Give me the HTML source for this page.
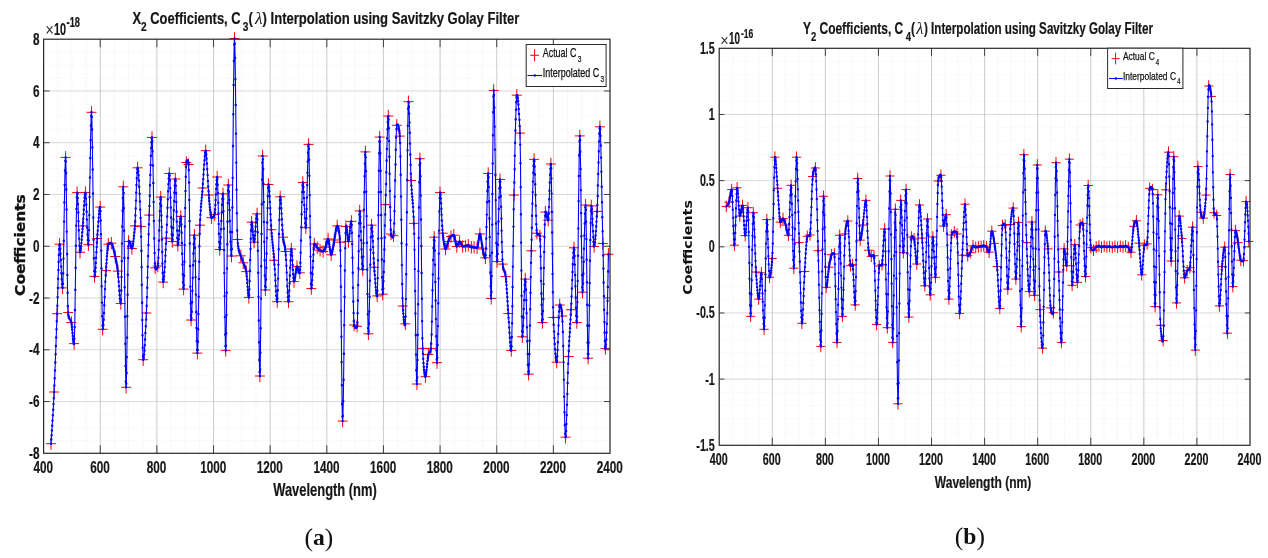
<!DOCTYPE html>
<html lang="en"><head><meta charset="utf-8"><title>Savitzky Golay interpolation of coefficients</title>
<style>html,body{margin:0;padding:0;background:#fff}body{width:1268px;height:558px;overflow:hidden}svg{display:block}</style></head>
<body>
<svg width="1268" height="558" viewBox="0 0 1268 558">
<rect width="1268" height="558" fill="#fff"/>
<g id="chart1">
<path d="M57.76 39.2V453.3M71.92 39.2V453.3M86.08 39.2V453.3M114.40 39.2V453.3M128.56 39.2V453.3M142.72 39.2V453.3M171.04 39.2V453.3M185.20 39.2V453.3M199.36 39.2V453.3M227.68 39.2V453.3M241.84 39.2V453.3M256.00 39.2V453.3M284.32 39.2V453.3M298.48 39.2V453.3M312.64 39.2V453.3M340.96 39.2V453.3M355.12 39.2V453.3M369.28 39.2V453.3M397.60 39.2V453.3M411.76 39.2V453.3M425.92 39.2V453.3M454.24 39.2V453.3M468.40 39.2V453.3M482.56 39.2V453.3M510.88 39.2V453.3M525.04 39.2V453.3M539.20 39.2V453.3M567.52 39.2V453.3M581.68 39.2V453.3M595.84 39.2V453.3" stroke="#e6e6e6" stroke-width="0.6" stroke-dasharray="1.2 1.2" fill="none"/>
<path d="M43.6 52.14H610.0M43.6 65.08H610.0M43.6 78.02H610.0M43.6 103.90H610.0M43.6 116.84H610.0M43.6 129.78H610.0M43.6 155.67H610.0M43.6 168.61H610.0M43.6 181.55H610.0M43.6 207.43H610.0M43.6 220.37H610.0M43.6 233.31H610.0M43.6 259.19H610.0M43.6 272.13H610.0M43.6 285.07H610.0M43.6 310.95H610.0M43.6 323.89H610.0M43.6 336.83H610.0M43.6 362.72H610.0M43.6 375.66H610.0M43.6 388.60H610.0M43.6 414.48H610.0M43.6 427.42H610.0M43.6 440.36H610.0" stroke="#efefef" stroke-width="0.6" stroke-dasharray="1.2 1.2" fill="none"/>
<path d="M100.24 39.2V453.3M156.88 39.2V453.3M213.52 39.2V453.3M270.16 39.2V453.3M326.80 39.2V453.3M383.44 39.2V453.3M440.08 39.2V453.3M496.72 39.2V453.3M553.36 39.2V453.3" stroke="#aaaaaa" stroke-width="0.6" fill="none"/>
<path d="M43.6 90.96H610.0M43.6 142.73H610.0M43.6 194.49H610.0M43.6 246.25H610.0M43.6 298.01H610.0M43.6 349.78H610.0M43.6 401.54H610.0" stroke="#bababa" stroke-width="0.55" fill="none"/>
<path d="M46.0 443.7h10.0M51.0 437.5v12.4M49.1 392.0h10.0M54.1 385.8v12.4M52.1 313.7h10.0M57.1 307.5v12.4M54.6 244.2h10.0M59.6 238.0v12.4M57.6 287.9h10.0M62.6 281.7v12.4M60.6 157.4h10.0M65.6 151.2v12.4M63.1 312.5h10.0M68.1 306.3v12.4M66.4 322.5h10.0M71.4 316.3v12.4M69.1 343.6h10.0M74.1 337.4v12.4M72.1 192.6h10.0M77.1 186.4v12.4M75.0 252.3h10.0M80.0 246.1v12.4M77.8 225.9h10.0M82.8 219.7v12.4M80.4 192.6h10.0M85.4 186.4v12.4M83.4 244.7h10.0M88.4 238.5v12.4M86.5 112.3h10.0M91.5 106.1v12.4M89.5 276.4h10.0M94.5 270.2v12.4M92.2 238.5h10.0M97.2 232.3v12.4M95.2 207.1h10.0M100.2 200.9v12.4M97.7 329.3h10.0M102.7 323.1v12.4M101.0 270.6h10.0M106.0 264.4v12.4M103.3 244.2h10.0M108.3 238.0v12.4M106.3 243.2h10.0M111.3 237.0v12.4M110.3 256.5h10.0M115.3 250.3v12.4M112.8 271.1h10.0M117.8 264.9v12.4M115.8 303.5h10.0M120.8 297.3v12.4M118.3 186.8h10.0M123.3 180.6v12.4M121.1 387.3h10.0M126.1 381.1v12.4M123.6 241.5h10.0M128.6 235.3v12.4M126.9 248.5h10.0M131.9 242.3v12.4M129.9 225.9h10.0M134.9 219.7v12.4M132.6 167.8h10.0M137.6 161.6v12.4M135.9 226.4h10.0M140.9 220.2v12.4M138.2 359.7h10.0M143.2 353.5v12.4M141.4 313.0h10.0M146.4 306.8v12.4M144.2 215.1h10.0M149.2 208.9v12.4M147.0 137.4h10.0M152.0 131.2v12.4M150.2 267.8h10.0M155.2 261.6v12.4M152.8 266.0h10.0M157.8 259.8v12.4M155.7 197.1h10.0M160.7 190.9v12.4M158.2 282.1h10.0M163.2 275.9v12.4M161.3 238.2h10.0M166.3 232.0v12.4M164.3 173.5h10.0M169.3 167.3v12.4M167.3 241.5h10.0M172.3 235.3v12.4M170.3 179.0h10.0M175.3 172.8v12.4M172.8 245.2h10.0M177.8 239.0v12.4M175.8 216.4h10.0M180.8 210.2v12.4M178.6 289.1h10.0M183.6 282.9v12.4M181.3 162.5h10.0M186.3 156.3v12.4M183.6 164.5h10.0M188.6 158.3v12.4M186.1 320.0h10.0M191.1 313.8v12.4M189.4 235.2h10.0M194.4 229.0v12.4M192.4 353.1h10.0M197.4 346.9v12.4M194.9 225.2h10.0M199.9 219.0v12.4M197.6 188.0h10.0M202.6 181.8v12.4M200.7 150.7h10.0M205.7 144.5v12.4M203.8 195.0h10.0M208.8 188.8v12.4M206.4 217.7h10.0M211.4 211.5v12.4M209.6 214.5h10.0M214.6 208.3v12.4M212.2 177.0h10.0M217.2 170.8v12.4M214.7 249.5h10.0M219.7 243.3v12.4M218.0 193.8h10.0M223.0 187.6v12.4M220.7 350.4h10.0M225.7 344.2v12.4M223.3 185.0h10.0M228.3 178.8v12.4M226.5 256.0h10.0M231.5 249.8v12.4M229.5 38.5h10.0M234.5 32.3v12.4M232.5 239.5h10.0M237.5 233.3v12.4M235.8 255.8h10.0M240.8 249.6v12.4M238.3 262.8h10.0M243.3 256.6v12.4M241.3 271.6h10.0M246.3 265.4v12.4M243.8 297.4h10.0M248.8 291.2v12.4M246.6 222.2h10.0M251.6 216.0v12.4M249.1 242.2h10.0M254.1 236.0v12.4M252.1 213.9h10.0M257.1 207.7v12.4M254.9 376.0h10.0M259.9 369.8v12.4M257.6 156.0h10.0M262.6 149.8v12.4M260.4 289.9h10.0M265.4 283.7v12.4M263.4 184.5h10.0M268.4 178.3v12.4M266.4 229.7h10.0M271.4 223.5v12.4M269.2 260.3h10.0M274.2 254.1v12.4M272.2 301.7h10.0M277.2 295.5v12.4M275.2 196.8h10.0M280.2 190.6v12.4M278.0 237.2h10.0M283.0 231.0v12.4M280.5 251.5h10.0M285.5 245.3v12.4M283.5 301.7h10.0M288.5 295.5v12.4M286.3 249.0h10.0M291.3 242.8v12.4M289.0 281.6h10.0M294.0 275.4v12.4M292.0 266.6h10.0M297.0 260.4v12.4M294.8 272.8h10.0M299.8 266.6v12.4M297.8 182.5h10.0M302.8 176.3v12.4M300.8 227.7h10.0M305.8 221.5v12.4M303.6 144.4h10.0M308.6 138.2v12.4M306.3 288.6h10.0M311.3 282.4v12.4M309.3 244.0h10.0M314.3 237.8v12.4M312.3 247.7h10.0M317.3 241.5v12.4M315.1 250.3h10.0M320.1 244.1v12.4M318.1 251.5h10.0M323.1 245.3v12.4M320.7 247.0h10.0M325.7 240.8v12.4M323.1 239.0h10.0M328.1 232.8v12.4M326.2 254.8h10.0M331.2 248.6v12.4M329.3 240.0h10.0M334.3 233.8v12.4M332.2 225.9h10.0M337.2 219.7v12.4M335.1 242.2h10.0M340.1 236.0v12.4M337.6 421.1h10.0M342.6 414.9v12.4M340.9 226.4h10.0M345.9 220.2v12.4M343.4 241.5h10.0M348.4 235.3v12.4M346.4 221.4h10.0M351.4 215.2v12.4M349.1 325.0h10.0M354.1 318.8v12.4M352.1 326.3h10.0M357.1 320.1v12.4M354.7 210.9h10.0M359.7 204.7v12.4M357.7 269.6h10.0M362.7 263.4v12.4M360.4 151.9h10.0M365.4 145.7v12.4M363.4 333.8h10.0M368.4 327.6v12.4M366.5 225.2h10.0M371.5 219.0v12.4M369.2 267.3h10.0M374.2 261.1v12.4M372.2 295.9h10.0M377.2 289.7v12.4M374.7 137.1h10.0M379.7 130.9v12.4M377.7 294.2h10.0M382.7 288.0v12.4M380.5 204.6h10.0M385.5 198.4v12.4M383.3 116.0h10.0M388.3 109.8v12.4M386.0 234.0h10.0M391.0 227.8v12.4M388.5 235.7h10.0M393.5 229.5v12.4M391.8 125.3h10.0M396.8 119.1v12.4M394.8 136.1h10.0M399.8 129.9v12.4M397.8 306.0h10.0M402.8 299.8v12.4M400.3 323.8h10.0M405.3 317.6v12.4M403.4 101.7h10.0M408.4 95.5v12.4M406.1 180.5h10.0M411.1 174.3v12.4M408.9 223.4h10.0M413.9 217.2v12.4M411.9 384.0h10.0M416.9 377.8v12.4M414.9 158.7h10.0M419.9 152.5v12.4M417.7 348.4h10.0M422.7 342.2v12.4M420.4 376.7h10.0M425.4 370.5v12.4M423.4 354.6h10.0M428.4 348.4v12.4M425.9 348.4h10.0M430.9 342.2v12.4M429.2 237.2h10.0M434.2 231.0v12.4M432.0 362.7h10.0M437.0 356.5v12.4M435.0 192.6h10.0M440.0 186.4v12.4M437.7 233.2h10.0M442.7 227.0v12.4M440.5 249.0h10.0M445.5 242.8v12.4M443.3 241.5h10.0M448.3 235.3v12.4M446.0 236.5h10.0M451.0 230.3v12.4M448.8 235.2h10.0M453.8 229.0v12.4M451.8 246.5h10.0M456.8 240.3v12.4M454.6 241.5h10.0M459.6 235.3v12.4M457.6 246.5h10.0M462.6 240.3v12.4M460.6 246.0h10.0M465.6 239.8v12.4M463.3 245.2h10.0M468.3 239.0v12.4M466.4 247.3h10.0M471.4 241.1v12.4M469.1 247.3h10.0M474.1 241.1v12.4M472.1 247.8h10.0M477.1 241.6v12.4M474.9 234.0h10.0M479.9 227.8v12.4M477.7 249.0h10.0M482.7 242.8v12.4M480.4 257.8h10.0M485.4 251.6v12.4M483.2 173.5h10.0M488.2 167.3v12.4M486.2 298.4h10.0M491.2 292.2v12.4M488.7 90.4h10.0M493.7 84.2v12.4M492.0 261.6h10.0M497.0 255.4v12.4M495.0 179.5h10.0M500.0 173.3v12.4M497.7 264.1h10.0M502.7 257.9v12.4M500.7 276.6h10.0M505.7 270.4v12.4M503.3 313.5h10.0M508.3 307.3v12.4M506.3 350.4h10.0M511.3 344.2v12.4M509.0 195.1h10.0M514.0 188.9v12.4M511.8 95.2h10.0M516.8 89.0v12.4M515.0 133.1h10.0M520.0 126.9v12.4M517.3 336.8h10.0M522.3 330.6v12.4M520.3 279.1h10.0M525.3 272.9v12.4M523.6 374.2h10.0M528.6 368.0v12.4M526.3 250.8h10.0M531.3 244.6v12.4M529.1 159.4h10.0M534.1 153.2v12.4M531.9 233.2h10.0M536.9 227.0v12.4M534.9 236.0h10.0M539.9 229.8v12.4M537.4 322.5h10.0M542.4 316.3v12.4M540.4 212.1h10.0M545.4 205.9v12.4M543.2 220.2h10.0M548.2 214.0v12.4M545.9 164.0h10.0M550.9 157.8v12.4M548.4 317.5h10.0M553.4 311.3v12.4M551.7 362.2h10.0M556.7 356.0v12.4M554.7 305.0h10.0M559.7 298.8v12.4M557.2 316.0h10.0M562.2 309.8v12.4M560.5 437.2h10.0M565.5 431.0v12.4M563.5 356.6h10.0M568.5 350.4v12.4M566.0 309.7h10.0M571.0 303.5v12.4M569.0 247.8h10.0M574.0 241.6v12.4M571.8 322.5h10.0M576.8 316.3v12.4M574.8 135.9h10.0M579.8 129.7v12.4M577.5 292.2h10.0M582.5 286.0v12.4M580.6 205.1h10.0M585.6 198.9v12.4M583.1 358.2h10.0M588.1 352.0v12.4M586.3 205.9h10.0M591.3 199.7v12.4M589.1 246.5h10.0M594.1 240.3v12.4M592.1 211.4h10.0M597.1 205.2v12.4M594.9 126.8h10.0M599.9 120.6v12.4M597.9 243.5h10.0M602.9 237.3v12.4M600.4 348.4h10.0M605.4 342.2v12.4M603.4 254.3h10.0M608.4 248.1v12.4" stroke="#ff0000" stroke-width="1.0" fill="none"/>
<path d="M51.0 443.7L51.3 439.5L51.6 435.2L51.9 430.5L52.2 425.7L52.5 420.6L52.9 415.3L53.2 409.8L53.5 404.1L53.8 398.2L54.1 392.0L54.4 385.4L54.7 378.2L55.0 370.5L55.3 362.5L55.6 354.2L55.9 345.9L56.2 337.5L56.5 329.3L56.8 321.3L57.1 313.7L57.4 305.8L57.6 297.1L57.9 288.0L58.1 278.8L58.4 270.0L58.6 261.9L58.9 254.9L59.1 249.3L59.4 245.6L59.6 244.2L59.9 245.3L60.2 248.7L60.5 253.8L60.8 259.9L61.1 266.6L61.4 273.3L61.7 279.3L62.0 284.1L62.3 287.2L62.6 287.9L62.9 283.7L63.2 273.4L63.5 258.6L63.8 240.8L64.1 221.6L64.4 202.4L64.7 184.9L65.0 170.5L65.3 160.8L65.6 157.4L65.8 161.6L66.1 172.9L66.3 189.4L66.6 209.5L66.8 231.6L67.1 254.0L67.3 274.9L67.6 292.8L67.8 305.9L68.1 312.5L68.4 315.0L68.8 316.7L69.1 318.0L69.4 318.8L69.8 319.3L70.1 319.7L70.4 320.1L70.7 320.6L71.1 321.4L71.4 322.5L71.7 324.3L71.9 326.8L72.2 329.7L72.5 332.9L72.8 336.0L73.0 338.9L73.3 341.3L73.6 343.1L73.8 343.9L74.1 343.6L74.4 338.6L74.7 326.9L75.0 310.0L75.3 289.7L75.6 267.7L75.9 245.8L76.2 225.6L76.5 208.9L76.8 197.3L77.1 192.6L77.4 193.7L77.7 197.9L78.0 204.3L78.3 212.4L78.5 221.3L78.8 230.3L79.1 238.6L79.4 245.6L79.7 250.4L80.0 252.3L80.3 252.0L80.6 250.8L80.8 248.8L81.1 246.2L81.4 243.1L81.7 239.7L82.0 236.1L82.2 232.5L82.5 229.1L82.8 225.9L83.1 222.6L83.3 218.6L83.6 214.3L83.8 209.8L84.1 205.4L84.4 201.3L84.6 197.7L84.9 194.9L85.1 193.2L85.4 192.6L85.7 194.2L86.0 198.4L86.3 204.4L86.6 211.7L86.9 219.6L87.2 227.4L87.5 234.4L87.8 240.1L88.1 243.7L88.4 244.7L88.7 240.5L89.0 230.1L89.3 215.1L89.6 197.0L90.0 177.4L90.3 158.0L90.6 140.2L90.9 125.6L91.2 115.8L91.5 112.3L91.8 117.0L92.1 129.4L92.4 147.5L92.7 169.5L93.0 193.5L93.3 217.5L93.6 239.7L93.9 258.2L94.2 271.1L94.5 276.4L94.8 276.4L95.0 274.8L95.3 271.8L95.6 267.7L95.8 262.9L96.1 257.7L96.4 252.3L96.7 247.1L96.9 242.4L97.2 238.5L97.5 234.8L97.8 230.6L98.1 226.2L98.4 221.8L98.7 217.6L99.0 213.9L99.3 210.7L99.6 208.4L99.9 207.1L100.2 207.1L100.5 211.0L100.7 220.5L101.0 234.2L101.2 250.6L101.5 268.5L101.7 286.3L102.0 302.6L102.2 316.2L102.5 325.6L102.7 329.3L103.0 328.4L103.4 325.0L103.7 319.7L104.0 312.9L104.3 305.2L104.7 297.1L105.0 289.1L105.3 281.6L105.7 275.3L106.0 270.6L106.2 266.9L106.5 263.2L106.7 259.6L106.9 256.3L107.2 253.2L107.4 250.4L107.6 248.1L107.8 246.2L108.1 244.9L108.3 244.2L108.6 243.9L108.9 243.6L109.2 243.4L109.5 243.2L109.8 243.1L110.1 243.1L110.4 243.0L110.7 243.1L111.0 243.1L111.3 243.2L111.7 243.5L112.1 244.3L112.5 245.3L112.9 246.7L113.3 248.2L113.7 249.9L114.1 251.6L114.5 253.4L114.9 255.0L115.3 256.5L115.5 257.9L115.8 259.1L116.0 260.4L116.3 261.7L116.5 263.0L116.8 264.3L117.1 265.8L117.3 267.4L117.5 269.1L117.8 271.1L118.1 273.7L118.4 277.3L118.7 281.5L119.0 286.1L119.3 290.7L119.6 295.0L119.9 298.7L120.2 301.6L120.5 303.3L120.8 303.5L121.0 299.7L121.3 290.4L121.5 277.0L121.8 260.9L122.0 243.6L122.3 226.4L122.6 210.7L122.8 197.9L123.0 189.5L123.3 186.8L123.6 192.9L123.9 208.3L124.1 230.8L124.4 257.9L124.7 287.3L125.0 316.7L125.3 343.8L125.5 366.1L125.8 381.4L126.1 387.3L126.3 383.6L126.6 373.0L126.8 357.1L127.1 337.6L127.3 316.2L127.6 294.7L127.8 274.8L128.1 258.1L128.3 246.5L128.6 241.5L128.9 240.9L129.3 240.9L129.6 241.6L129.9 242.6L130.2 243.8L130.6 245.2L130.9 246.5L131.2 247.6L131.6 248.3L131.9 248.5L132.2 248.1L132.5 247.1L132.8 245.6L133.1 243.6L133.4 241.3L133.7 238.6L134.0 235.7L134.3 232.5L134.6 229.3L134.9 225.9L135.2 221.5L135.4 215.5L135.7 208.4L136.0 200.6L136.2 192.6L136.5 185.0L136.8 178.2L137.1 172.8L137.3 169.1L137.6 167.8L137.9 168.7L138.3 171.2L138.6 175.2L138.9 180.4L139.2 186.7L139.6 193.7L139.9 201.5L140.2 209.6L140.6 218.0L140.9 226.4L141.1 236.8L141.4 250.8L141.6 267.1L141.8 284.7L142.1 302.7L142.3 319.9L142.5 335.2L142.7 347.7L143.0 356.2L143.2 359.7L143.5 359.5L143.8 357.7L144.2 354.6L144.5 350.4L144.8 345.2L145.1 339.4L145.4 333.0L145.8 326.3L146.1 319.6L146.4 313.0L146.7 305.8L147.0 297.3L147.2 287.8L147.5 277.6L147.8 266.8L148.1 255.9L148.4 244.9L148.6 234.3L148.9 224.3L149.2 215.1L149.5 205.9L149.8 195.8L150.0 185.3L150.3 174.9L150.6 164.9L150.9 155.8L151.2 148.1L151.4 142.2L151.7 138.5L152.0 137.4L152.3 141.3L152.6 151.2L153.0 165.5L153.3 182.9L153.6 201.9L153.9 220.9L154.2 238.5L154.6 253.1L154.9 263.4L155.2 267.8L155.5 268.6L155.7 269.1L156.0 269.4L156.2 269.4L156.5 269.1L156.8 268.8L157.0 268.2L157.3 267.6L157.5 266.8L157.8 266.0L158.1 263.4L158.4 257.7L158.7 249.8L159.0 240.4L159.2 230.4L159.5 220.4L159.8 211.3L160.1 203.8L160.4 198.9L160.7 197.1L160.9 199.6L161.2 206.0L161.4 215.4L161.7 226.9L161.9 239.4L162.2 251.9L162.4 263.4L162.7 272.9L162.9 279.5L163.2 282.1L163.5 281.6L163.8 279.6L164.1 276.4L164.4 272.1L164.8 267.1L165.1 261.5L165.4 255.6L165.7 249.6L166.0 243.7L166.3 238.2L166.6 232.1L166.9 224.7L167.2 216.5L167.5 207.8L167.8 199.2L168.1 191.2L168.4 184.1L168.7 178.5L169.0 174.8L169.3 173.5L169.6 175.4L169.9 180.6L170.2 188.2L170.5 197.4L170.8 207.5L171.1 217.5L171.4 226.8L171.7 234.4L172.0 239.6L172.3 241.5L172.6 239.8L172.9 235.0L173.2 228.0L173.5 219.5L173.8 210.3L174.1 201.0L174.4 192.5L174.7 185.5L175.0 180.7L175.3 179.0L175.6 180.9L175.8 185.8L176.1 193.2L176.3 202.1L176.6 211.8L176.8 221.5L177.1 230.5L177.3 238.0L177.6 243.1L177.8 245.2L178.1 244.6L178.4 242.5L178.7 239.2L179.0 235.2L179.3 230.7L179.6 226.3L179.9 222.3L180.2 219.1L180.5 217.0L180.8 216.4L181.1 218.7L181.4 224.5L181.6 232.8L181.9 242.9L182.2 253.7L182.5 264.4L182.8 274.2L183.0 282.2L183.3 287.4L183.6 289.1L183.9 285.3L184.1 275.7L184.4 261.7L184.7 244.9L184.9 226.5L185.2 208.0L185.5 191.0L185.8 176.7L186.0 166.8L186.3 162.5L186.5 161.7L186.8 161.0L187.0 160.6L187.2 160.4L187.4 160.4L187.7 160.7L187.9 161.2L188.1 162.1L188.4 163.1L188.6 164.5L188.8 170.0L189.1 182.4L189.3 200.0L189.6 220.9L189.8 243.5L190.1 266.0L190.3 286.6L190.6 303.6L190.9 315.4L191.1 320.0L191.4 318.0L191.8 311.8L192.1 302.3L192.4 290.7L192.8 278.0L193.1 265.2L193.4 253.5L193.7 243.9L194.1 237.4L194.4 235.2L194.7 238.7L195.0 247.8L195.3 261.1L195.6 277.1L195.9 294.6L196.2 311.9L196.5 327.9L196.8 341.0L197.1 349.9L197.4 353.1L197.7 350.0L197.9 341.7L198.2 329.2L198.4 313.9L198.7 296.7L198.9 279.0L199.2 261.8L199.4 246.3L199.7 233.7L199.9 225.2L200.2 219.5L200.4 214.7L200.7 210.5L201.0 206.8L201.2 203.6L201.5 200.6L201.8 197.6L202.1 194.7L202.3 191.5L202.6 188.0L202.9 183.9L203.2 179.3L203.5 174.4L203.8 169.5L204.1 164.6L204.5 160.2L204.8 156.3L205.1 153.3L205.4 151.4L205.7 150.7L206.0 151.7L206.3 154.4L206.6 158.4L206.9 163.4L207.2 169.1L207.6 175.1L207.9 181.0L208.2 186.5L208.5 191.3L208.8 195.0L209.1 198.1L209.3 201.2L209.6 204.3L209.8 207.2L210.1 210.0L210.4 212.4L210.6 214.5L210.9 216.1L211.1 217.2L211.4 217.7L211.7 217.8L212.0 217.8L212.4 217.7L212.7 217.6L213.0 217.3L213.3 216.9L213.6 216.5L214.0 215.9L214.3 215.3L214.6 214.5L214.9 212.8L215.1 209.5L215.4 205.0L215.6 199.9L215.9 194.4L216.2 189.0L216.4 184.2L216.7 180.3L216.9 177.8L217.2 177.0L217.4 179.2L217.7 184.8L217.9 193.0L218.2 202.8L218.4 213.4L218.7 224.1L218.9 233.8L219.2 241.9L219.4 247.4L219.7 249.5L220.0 248.0L220.4 243.6L220.7 237.2L221.0 229.3L221.3 220.9L221.7 212.4L222.0 204.8L222.3 198.7L222.7 194.8L223.0 193.8L223.3 198.8L223.5 211.1L223.8 228.8L224.1 250.1L224.3 273.1L224.6 296.1L224.9 317.1L225.2 334.4L225.4 346.1L225.7 350.4L226.0 345.8L226.2 333.3L226.5 315.0L226.7 292.8L227.0 268.5L227.3 244.2L227.5 221.7L227.8 203.1L228.0 190.2L228.3 185.0L228.6 186.5L228.9 191.8L229.3 200.0L229.6 210.0L229.9 221.0L230.2 231.9L230.5 241.8L230.9 249.8L231.2 254.8L231.5 256.0L231.8 249.0L232.1 232.0L232.4 207.5L232.7 178.0L233.0 146.0L233.3 114.2L233.6 85.0L233.9 60.9L234.2 44.6L234.5 38.5L234.8 43.7L235.1 57.9L235.4 79.1L235.7 105.0L236.0 133.6L236.3 162.6L236.6 189.8L236.9 213.2L237.2 230.5L237.5 239.5L237.8 243.3L238.2 246.2L238.5 248.5L238.8 250.3L239.2 251.6L239.5 252.6L239.8 253.4L240.1 254.2L240.5 254.9L240.8 255.8L241.1 256.7L241.3 257.6L241.6 258.3L241.8 259.0L242.1 259.6L242.3 260.2L242.6 260.8L242.8 261.4L243.1 262.1L243.3 262.8L243.6 263.6L243.9 264.3L244.2 265.0L244.5 265.7L244.8 266.5L245.1 267.3L245.4 268.2L245.7 269.2L246.0 270.3L246.3 271.6L246.6 273.5L246.8 276.2L247.1 279.4L247.3 283.0L247.6 286.7L247.8 290.2L248.1 293.2L248.3 295.6L248.6 297.1L248.8 297.4L249.1 295.0L249.4 289.2L249.6 280.9L249.9 270.8L250.2 259.9L250.5 248.9L250.8 238.8L251.0 230.4L251.3 224.6L251.6 222.2L251.9 222.4L252.1 223.8L252.3 226.0L252.6 228.7L252.8 231.8L253.1 234.9L253.3 237.7L253.6 240.1L253.9 241.7L254.1 242.2L254.4 241.3L254.7 238.9L255.0 235.4L255.3 231.2L255.6 226.7L255.9 222.4L256.2 218.5L256.5 215.5L256.8 213.9L257.1 213.9L257.4 219.3L257.7 232.2L257.9 250.7L258.2 272.8L258.5 296.7L258.8 320.5L259.1 342.3L259.3 360.0L259.6 371.9L259.9 376.0L260.2 369.5L260.4 352.8L260.7 328.2L261.0 298.6L261.2 266.3L261.5 234.0L261.8 204.2L262.1 179.6L262.3 162.6L262.6 156.0L262.9 159.2L263.2 169.0L263.4 183.8L263.7 202.0L264.0 221.9L264.3 241.8L264.6 260.3L264.8 275.5L265.1 285.9L265.4 289.9L265.7 287.2L266.0 279.4L266.3 267.7L266.6 253.5L266.9 238.0L267.2 222.5L267.5 208.1L267.8 196.1L268.1 187.8L268.4 184.5L268.7 185.1L269.0 187.4L269.3 191.3L269.6 196.2L269.9 201.9L270.2 208.1L270.5 214.3L270.8 220.2L271.1 225.4L271.4 229.7L271.7 233.2L272.0 236.5L272.2 239.5L272.5 242.4L272.8 245.2L273.1 248.0L273.4 250.8L273.6 253.8L273.9 256.9L274.2 260.3L274.5 264.4L274.8 269.3L275.1 274.7L275.4 280.4L275.7 286.0L276.0 291.2L276.3 295.7L276.6 299.1L276.9 301.2L277.2 301.7L277.5 298.4L277.8 290.3L278.1 278.6L278.4 264.6L278.7 249.3L279.0 234.0L279.3 219.9L279.6 208.2L279.9 200.1L280.2 196.8L280.5 197.3L280.8 199.7L281.0 203.4L281.3 208.2L281.6 213.6L281.9 219.3L282.2 224.9L282.4 230.0L282.7 234.2L283.0 237.2L283.2 239.2L283.5 240.8L283.8 242.0L284.0 243.1L284.2 244.1L284.5 245.2L284.8 246.3L285.0 247.7L285.2 249.4L285.5 251.5L285.8 254.8L286.1 259.8L286.4 265.8L286.7 272.6L287.0 279.6L287.3 286.3L287.6 292.4L287.9 297.3L288.2 300.5L288.5 301.7L288.8 300.2L289.1 296.2L289.3 290.4L289.6 283.3L289.9 275.5L290.2 267.7L290.5 260.6L290.7 254.7L291.0 250.6L291.3 249.0L291.6 249.8L291.8 252.2L292.1 255.7L292.4 260.1L292.6 264.9L292.9 269.8L293.2 274.3L293.5 278.0L293.7 280.6L294.0 281.6L294.3 281.3L294.6 280.2L294.9 278.6L295.2 276.6L295.5 274.3L295.8 272.1L296.1 270.0L296.4 268.3L296.7 267.1L297.0 266.6L297.3 266.8L297.6 267.4L297.8 268.2L298.1 269.3L298.4 270.4L298.7 271.5L299.0 272.3L299.2 272.9L299.5 273.1L299.8 272.8L300.1 269.8L300.4 262.7L300.7 252.6L301.0 240.4L301.3 227.3L301.6 214.2L301.9 202.1L302.2 192.1L302.5 185.2L302.8 182.5L303.1 183.5L303.4 186.9L303.7 191.9L304.0 198.2L304.3 205.0L304.6 211.9L304.9 218.1L305.2 223.3L305.5 226.6L305.8 227.7L306.1 225.1L306.4 218.5L306.6 209.0L306.9 197.5L307.2 185.1L307.5 172.8L307.8 161.5L308.0 152.4L308.3 146.3L308.6 144.4L308.9 148.7L309.1 159.7L309.4 175.7L309.7 195.1L310.0 216.1L310.2 237.2L310.5 256.6L310.8 272.8L311.0 284.0L311.3 288.6L311.6 288.0L311.9 285.0L312.2 280.3L312.5 274.3L312.8 267.6L313.1 260.9L313.4 254.6L313.7 249.3L314.0 245.6L314.3 244.0L314.6 243.8L314.9 243.9L315.2 244.2L315.5 244.6L315.8 245.1L316.1 245.7L316.4 246.3L316.7 246.8L317.0 247.3L317.3 247.7L317.6 248.0L317.9 248.3L318.1 248.6L318.4 248.9L318.7 249.2L319.0 249.4L319.3 249.7L319.5 249.9L319.8 250.1L320.1 250.3L320.4 250.5L320.7 250.6L321.0 250.8L321.3 251.0L321.6 251.1L321.9 251.3L322.2 251.4L322.5 251.5L322.8 251.5L323.1 251.5L323.4 251.4L323.6 251.2L323.9 250.9L324.1 250.4L324.4 249.9L324.7 249.4L324.9 248.8L325.2 248.2L325.4 247.6L325.7 247.0L325.9 246.3L326.2 245.4L326.4 244.4L326.7 243.3L326.9 242.2L327.1 241.2L327.4 240.3L327.6 239.6L327.9 239.1L328.1 239.0L328.4 239.5L328.7 240.7L329.0 242.5L329.3 244.6L329.6 247.0L330.0 249.3L330.3 251.4L330.6 253.2L330.9 254.4L331.2 254.8L331.5 254.5L331.8 253.7L332.1 252.5L332.4 251.0L332.8 249.2L333.1 247.3L333.4 245.3L333.7 243.4L334.0 241.6L334.3 240.0L334.6 238.4L334.9 236.7L335.2 234.8L335.5 232.9L335.8 231.1L336.0 229.5L336.3 228.0L336.6 226.9L336.9 226.2L337.2 225.9L337.5 226.0L337.8 226.3L338.1 226.9L338.4 227.8L338.6 229.1L338.9 230.7L339.2 232.8L339.5 235.4L339.8 238.5L340.1 242.2L340.4 250.5L340.6 266.0L340.9 286.8L341.1 311.1L341.4 336.8L341.6 362.1L341.9 385.2L342.1 403.9L342.4 416.5L342.6 421.1L342.9 415.7L343.3 401.1L343.6 379.7L343.9 353.7L344.2 325.3L344.6 296.8L344.9 270.4L345.2 248.3L345.6 232.9L345.9 226.4L346.1 225.7L346.4 226.3L346.6 227.7L346.9 229.8L347.1 232.3L347.4 234.9L347.6 237.4L347.9 239.5L348.1 241.0L348.4 241.5L348.7 240.9L349.0 239.2L349.3 236.7L349.6 233.8L349.9 230.6L350.2 227.5L350.5 224.8L350.8 222.7L351.1 221.5L351.4 221.4L351.7 224.7L351.9 232.7L352.2 244.1L352.5 257.8L352.8 272.7L353.0 287.7L353.3 301.5L353.6 313.1L353.8 321.3L354.1 325.0L354.4 325.9L354.7 326.7L355.0 327.3L355.3 327.7L355.6 328.0L355.9 328.0L356.2 327.9L356.5 327.6L356.8 327.0L357.1 326.3L357.4 322.4L357.6 313.3L357.9 300.4L358.1 284.9L358.4 268.1L358.7 251.3L358.9 235.9L359.2 223.2L359.4 214.4L359.7 210.9L360.0 212.2L360.3 216.6L360.6 223.2L360.9 231.4L361.2 240.3L361.5 249.2L361.8 257.3L362.1 263.9L362.4 268.3L362.7 269.6L363.0 265.9L363.2 256.6L363.5 243.2L363.8 227.1L364.0 209.6L364.3 192.2L364.6 176.3L364.9 163.4L365.1 154.8L365.4 151.9L365.7 157.3L366.0 171.3L366.3 191.6L366.6 216.1L366.9 242.8L367.2 269.4L367.5 294.0L367.8 314.3L368.1 328.3L368.4 333.8L368.7 331.2L369.0 323.4L369.3 311.5L369.6 296.8L369.9 280.8L370.3 264.7L370.6 249.7L370.9 237.3L371.2 228.7L371.5 225.2L371.8 225.7L372.0 227.8L372.3 231.4L372.6 236.0L372.9 241.3L373.1 247.1L373.4 252.9L373.7 258.4L373.9 263.3L374.2 267.3L374.5 271.0L374.8 275.0L375.1 279.1L375.4 283.2L375.7 287.1L376.0 290.5L376.3 293.3L376.6 295.3L376.9 296.2L377.2 295.9L377.4 290.7L377.7 278.1L378.0 260.2L378.2 238.6L378.4 215.3L378.7 192.1L378.9 170.8L379.2 153.3L379.4 141.5L379.7 137.1L380.0 141.4L380.3 153.3L380.6 170.7L380.9 191.9L381.2 215.0L381.5 238.2L381.8 259.5L382.1 277.2L382.4 289.4L382.7 294.2L383.0 292.9L383.3 288.4L383.5 281.2L383.8 271.9L384.1 261.2L384.4 249.5L384.7 237.4L384.9 225.5L385.2 214.4L385.5 204.6L385.8 194.9L386.1 183.9L386.3 172.2L386.6 160.4L386.9 148.9L387.2 138.3L387.5 129.2L387.7 122.1L388.0 117.5L388.3 116.0L388.6 119.4L388.8 128.2L389.1 141.1L389.4 156.7L389.6 173.8L389.9 191.0L390.2 206.9L390.5 220.3L390.7 229.8L391.0 234.0L391.2 235.1L391.5 236.0L391.8 236.6L392.0 237.1L392.2 237.3L392.5 237.4L392.8 237.3L393.0 236.9L393.2 236.4L393.5 235.7L393.8 232.0L394.2 223.4L394.5 211.1L394.8 196.4L395.1 180.4L395.5 164.5L395.8 149.7L396.1 137.5L396.5 128.9L396.8 125.3L397.1 124.7L397.4 124.5L397.7 124.6L398.0 125.1L398.3 125.9L398.6 127.1L398.9 128.8L399.2 130.8L399.5 133.2L399.8 136.1L400.1 143.0L400.4 156.4L400.7 174.7L401.0 196.4L401.3 219.7L401.6 243.2L401.9 265.1L402.2 284.0L402.5 298.2L402.8 306.0L403.1 310.0L403.3 313.6L403.6 316.9L403.8 319.7L404.1 322.0L404.3 323.7L404.6 324.8L404.8 325.2L405.1 324.9L405.3 323.8L405.6 316.4L405.9 299.1L406.2 274.3L406.5 244.4L406.9 212.2L407.2 180.0L407.5 150.3L407.8 125.7L408.1 108.7L408.4 101.7L408.7 102.5L408.9 106.7L409.2 113.6L409.5 122.5L409.8 132.7L410.0 143.6L410.3 154.5L410.6 164.7L410.8 173.6L411.1 180.5L411.4 185.6L411.7 189.8L411.9 193.5L412.2 196.7L412.5 199.9L412.8 203.2L413.1 207.0L413.3 211.4L413.6 216.8L413.9 223.4L414.2 233.8L414.5 249.6L414.8 269.1L415.1 290.9L415.4 313.4L415.7 335.2L416.0 354.6L416.3 370.2L416.6 380.6L416.9 384.0L417.2 377.3L417.5 360.0L417.8 334.8L418.1 304.3L418.4 271.1L418.7 237.9L419.0 207.5L419.3 182.3L419.6 165.2L419.9 158.7L420.2 163.3L420.5 176.2L420.7 195.6L421.0 219.5L421.3 245.9L421.6 273.0L421.9 298.7L422.1 321.1L422.4 338.3L422.7 348.4L423.0 353.9L423.2 358.8L423.5 363.0L423.8 366.7L424.0 369.8L424.3 372.3L424.6 374.2L424.9 375.6L425.1 376.4L425.4 376.7L425.7 376.2L426.0 374.8L426.3 372.6L426.6 370.0L426.9 367.0L427.2 363.9L427.5 360.9L427.8 358.2L428.1 356.1L428.4 354.6L428.6 353.8L428.9 353.2L429.1 352.9L429.4 352.7L429.6 352.6L429.9 352.3L430.2 351.8L430.4 351.1L430.6 350.0L430.9 348.4L431.2 343.8L431.6 334.4L431.9 321.6L432.2 306.4L432.5 290.3L432.9 274.4L433.2 259.9L433.5 248.0L433.9 240.1L434.2 237.2L434.5 240.8L434.8 250.5L435.0 264.7L435.3 281.9L435.6 300.5L435.9 319.1L436.2 336.2L436.4 350.1L436.7 359.5L437.0 362.7L437.3 357.8L437.6 344.9L437.9 326.1L438.2 303.3L438.5 278.4L438.8 253.6L439.1 230.6L439.4 211.4L439.7 198.1L440.0 192.6L440.3 192.7L440.5 194.8L440.8 198.5L441.1 203.2L441.4 208.7L441.6 214.6L441.9 220.4L442.2 225.7L442.4 230.1L442.7 233.2L443.0 235.5L443.3 237.8L443.5 240.0L443.8 242.1L444.1 244.0L444.4 245.6L444.7 247.0L444.9 248.0L445.2 248.7L445.5 249.0L445.8 248.9L446.1 248.5L446.3 247.9L446.6 247.0L446.9 246.1L447.2 245.1L447.5 244.0L447.7 243.1L448.0 242.2L448.3 241.5L448.6 240.9L448.8 240.3L449.1 239.7L449.4 239.1L449.6 238.5L449.9 238.0L450.2 237.5L450.5 237.1L450.7 236.8L451.0 236.5L451.3 236.3L451.6 236.1L451.8 235.8L452.1 235.6L452.4 235.5L452.7 235.3L453.0 235.2L453.2 235.2L453.5 235.2L453.8 235.2L454.1 235.6L454.4 236.5L454.7 237.7L455.0 239.2L455.3 240.9L455.6 242.5L455.9 244.0L456.2 245.3L456.5 246.2L456.8 246.5L457.1 246.4L457.4 246.0L457.6 245.5L457.9 244.8L458.2 244.1L458.5 243.3L458.8 242.6L459.0 242.0L459.3 241.6L459.6 241.5L459.9 241.6L460.2 242.0L460.5 242.6L460.8 243.2L461.1 244.0L461.4 244.7L461.7 245.4L462.0 245.9L462.3 246.3L462.6 246.5L462.9 246.5L463.2 246.5L463.5 246.5L463.8 246.4L464.1 246.4L464.4 246.3L464.7 246.2L465.0 246.1L465.3 246.1L465.6 246.0L465.9 245.9L466.1 245.8L466.4 245.7L466.7 245.6L467.0 245.5L467.2 245.4L467.5 245.3L467.8 245.3L468.0 245.2L468.3 245.2L468.6 245.3L468.9 245.4L469.2 245.7L469.5 245.9L469.9 246.2L470.2 246.5L470.5 246.8L470.8 247.1L471.1 247.2L471.4 247.3L471.7 247.3L471.9 247.3L472.2 247.3L472.5 247.3L472.8 247.3L473.0 247.3L473.3 247.3L473.6 247.3L473.8 247.3L474.1 247.3L474.4 247.3L474.7 247.4L475.0 247.5L475.3 247.6L475.6 247.7L475.9 247.8L476.2 247.8L476.5 247.9L476.8 247.9L477.1 247.8L477.4 247.3L477.7 246.2L477.9 244.7L478.2 242.8L478.5 240.8L478.8 238.7L479.1 236.9L479.3 235.4L479.6 234.4L479.9 234.0L480.2 234.3L480.5 235.2L480.7 236.5L481.0 238.2L481.3 240.1L481.6 242.1L481.9 244.1L482.1 246.0L482.4 247.7L482.7 249.0L483.0 250.2L483.2 251.5L483.5 252.9L483.8 254.3L484.0 255.5L484.3 256.6L484.6 257.4L484.9 258.0L485.1 258.1L485.4 257.8L485.7 255.0L486.0 248.2L486.2 238.6L486.5 227.0L486.8 214.6L487.1 202.2L487.4 190.9L487.6 181.7L487.9 175.6L488.2 173.5L488.5 177.3L488.8 187.1L489.1 201.3L489.4 218.5L489.7 237.1L490.0 255.6L490.3 272.5L490.6 286.3L490.9 295.4L491.2 298.4L491.5 292.1L491.7 276.1L492.0 252.7L492.2 224.6L492.4 194.0L492.7 163.4L493.0 135.3L493.2 112.2L493.4 96.4L493.7 90.4L494.0 94.9L494.4 107.6L494.7 126.6L495.0 149.6L495.4 174.8L495.7 200.1L496.0 223.5L496.3 242.9L496.7 256.2L497.0 261.6L497.3 259.8L497.6 253.9L497.9 244.8L498.2 233.6L498.5 221.4L498.8 209.0L499.1 197.6L499.4 188.2L499.7 181.8L500.0 179.5L500.3 181.7L500.5 187.5L500.8 196.2L501.1 206.8L501.4 218.6L501.6 230.6L501.9 242.0L502.2 252.0L502.4 259.6L502.7 264.1L503.0 266.4L503.3 268.1L503.6 269.4L503.9 270.3L504.2 271.1L504.5 271.9L504.8 272.6L505.1 273.6L505.4 274.9L505.7 276.6L506.0 278.9L506.2 281.8L506.5 285.1L506.7 288.9L507.0 292.9L507.3 297.1L507.5 301.3L507.8 305.6L508.0 309.7L508.3 313.5L508.6 317.6L508.9 322.3L509.2 327.5L509.5 332.7L509.8 337.7L510.1 342.2L510.4 346.1L510.7 348.9L511.0 350.4L511.3 350.4L511.6 346.4L511.8 337.0L512.1 323.3L512.4 306.2L512.6 287.0L512.9 266.6L513.2 246.1L513.5 226.6L513.7 209.3L514.0 195.1L514.3 182.4L514.6 169.2L514.8 155.8L515.1 142.7L515.4 130.4L515.7 119.3L516.0 109.7L516.2 102.3L516.5 97.3L516.8 95.2L517.1 95.2L517.4 96.2L517.8 98.1L518.1 100.9L518.4 104.5L518.7 108.9L519.0 114.0L519.4 119.7L519.7 126.1L520.0 133.1L520.2 144.6L520.5 163.2L520.7 187.1L520.9 214.2L521.1 242.6L521.4 270.5L521.6 295.8L521.8 316.5L522.1 330.9L522.3 336.8L522.6 336.0L522.9 332.1L523.2 325.8L523.5 317.8L523.8 309.0L524.1 300.1L524.4 291.8L524.7 285.1L525.0 280.6L525.3 279.1L525.6 282.0L526.0 289.4L526.3 300.2L526.6 313.2L527.0 327.3L527.3 341.3L527.6 354.1L527.9 364.7L528.3 371.7L528.6 374.2L528.9 371.5L529.1 364.5L529.4 353.9L529.7 340.6L530.0 325.4L530.2 309.2L530.5 292.8L530.8 277.1L531.0 262.8L531.3 250.8L531.6 239.7L531.9 227.8L532.1 215.7L532.4 203.6L532.7 192.1L533.0 181.6L533.3 172.7L533.5 165.7L533.8 161.1L534.1 159.4L534.4 161.3L534.7 166.6L534.9 174.5L535.2 184.2L535.5 194.8L535.8 205.6L536.1 215.7L536.3 224.2L536.6 230.3L536.9 233.2L537.2 234.0L537.5 234.5L537.8 234.6L538.1 234.6L538.4 234.5L538.7 234.4L539.0 234.4L539.3 234.6L539.6 235.1L539.9 236.0L540.2 239.4L540.4 246.5L540.6 256.5L540.9 268.2L541.1 280.9L541.4 293.4L541.6 304.8L541.9 314.1L542.1 320.3L542.4 322.5L542.7 319.3L543.0 311.0L543.3 298.9L543.6 284.1L543.9 268.0L544.2 251.9L544.5 237.0L544.8 224.5L545.1 215.8L545.4 212.1L545.7 211.7L546.0 212.1L546.2 212.9L546.5 214.2L546.8 215.6L547.1 217.1L547.4 218.5L547.6 219.6L547.9 220.2L548.2 220.2L548.5 218.3L548.7 213.7L549.0 207.1L549.3 199.2L549.5 190.7L549.8 182.4L550.1 174.8L550.4 168.8L550.6 165.0L550.9 164.0L551.2 168.2L551.4 178.5L551.6 193.6L551.9 212.0L552.1 232.4L552.4 253.6L552.6 274.0L552.9 292.3L553.1 307.3L553.4 317.5L553.7 324.7L554.1 331.6L554.4 338.1L554.7 343.9L555.0 349.2L555.4 353.7L555.7 357.3L556.0 360.0L556.4 361.7L556.7 362.2L557.0 360.6L557.3 356.2L557.6 349.9L557.9 342.3L558.2 333.9L558.5 325.5L558.8 317.8L559.1 311.4L559.4 306.9L559.7 305.0L560.0 304.8L560.2 304.8L560.5 305.2L560.7 305.8L561.0 306.7L561.2 307.9L561.5 309.4L561.7 311.3L562.0 313.5L562.2 316.0L562.5 321.6L562.9 332.0L563.2 346.0L563.5 362.3L563.9 379.6L564.2 396.7L564.5 412.3L564.8 425.1L565.2 433.8L565.5 437.2L565.8 435.7L566.1 431.1L566.4 424.0L566.7 415.0L567.0 404.8L567.3 393.9L567.6 383.0L567.9 372.8L568.2 363.7L568.5 356.6L568.8 350.9L569.0 345.8L569.2 341.0L569.5 336.6L569.8 332.3L570.0 328.2L570.2 323.9L570.5 319.5L570.8 314.8L571.0 309.7L571.3 303.6L571.6 296.4L571.9 288.4L572.2 280.1L572.5 271.9L572.8 264.3L573.1 257.7L573.4 252.4L573.7 249.0L574.0 247.8L574.3 250.0L574.6 256.0L574.8 264.6L575.1 275.0L575.4 286.3L575.7 297.5L576.0 307.7L576.2 315.8L576.5 321.1L576.8 322.5L577.1 316.6L577.4 302.1L577.7 281.1L578.0 255.8L578.3 228.4L578.6 201.1L578.9 176.0L579.2 155.3L579.5 141.2L579.8 135.9L580.1 140.0L580.3 151.7L580.6 169.0L580.9 190.1L581.1 213.1L581.4 236.2L581.7 257.5L582.0 275.2L582.2 287.4L582.5 292.2L582.8 290.1L583.1 283.6L583.4 273.8L583.7 261.8L584.0 248.7L584.4 235.5L584.7 223.5L585.0 213.7L585.3 207.2L585.6 205.1L585.9 209.8L586.1 221.7L586.4 238.9L586.6 259.7L586.9 282.3L587.1 304.8L587.4 325.4L587.6 342.4L587.9 354.0L588.1 358.2L588.4 354.0L588.7 342.6L589.1 325.8L589.4 305.4L589.7 283.1L590.0 260.7L590.3 240.0L590.7 222.8L591.0 210.8L591.3 205.9L591.6 206.4L591.9 209.0L592.1 213.4L592.4 218.9L592.7 225.1L593.0 231.3L593.3 237.1L593.5 242.0L593.8 245.3L594.1 246.5L594.4 246.0L594.7 244.5L595.0 242.2L595.3 239.1L595.6 235.4L595.9 231.2L596.2 226.5L596.5 221.6L596.8 216.5L597.1 211.4L597.4 204.9L597.7 196.0L597.9 185.5L598.2 174.0L598.5 162.4L598.8 151.3L599.1 141.5L599.3 133.7L599.6 128.5L599.9 126.8L600.2 129.3L600.5 135.7L600.8 145.4L601.1 157.6L601.4 171.6L601.7 186.7L602.0 202.2L602.3 217.3L602.6 231.3L602.9 243.5L603.2 255.4L603.4 268.5L603.6 282.4L603.9 296.3L604.1 309.7L604.4 322.0L604.6 332.6L604.9 340.9L605.1 346.4L605.4 348.4L605.7 347.4L606.0 344.4L606.3 339.4L606.6 332.5L606.9 323.8L607.2 313.2L607.5 300.9L607.8 287.0L608.1 271.4L608.4 254.3" stroke="#0000ff" stroke-width="1.1" fill="none" stroke-linejoin="round"/>
<path d="M51.0 443.7h0M51.3 439.5h0M51.6 435.2h0M51.9 430.5h0M52.2 425.7h0M52.5 420.6h0M52.9 415.3h0M53.2 409.8h0M53.5 404.1h0M53.8 398.2h0M54.1 392.0h0M54.4 385.4h0M54.7 378.2h0M55.0 370.5h0M55.3 362.5h0M55.6 354.2h0M55.9 345.9h0M56.2 337.5h0M56.5 329.3h0M56.8 321.3h0M57.1 313.7h0M57.4 305.8h0M57.6 297.1h0M57.9 288.0h0M58.1 278.8h0M58.4 270.0h0M58.6 261.9h0M58.9 254.9h0M59.1 249.3h0M59.4 245.6h0M59.6 244.2h0M59.9 245.3h0M60.2 248.7h0M60.5 253.8h0M60.8 259.9h0M61.1 266.6h0M61.4 273.3h0M61.7 279.3h0M62.0 284.1h0M62.3 287.2h0M62.6 287.9h0M62.9 283.7h0M63.2 273.4h0M63.5 258.6h0M63.8 240.8h0M64.1 221.6h0M64.4 202.4h0M64.7 184.9h0M65.0 170.5h0M65.3 160.8h0M65.6 157.4h0M65.8 161.6h0M66.1 172.9h0M66.3 189.4h0M66.6 209.5h0M66.8 231.6h0M67.1 254.0h0M67.3 274.9h0M67.6 292.8h0M67.8 305.9h0M68.1 312.5h0M68.4 315.0h0M68.8 316.7h0M69.1 318.0h0M69.4 318.8h0M69.8 319.3h0M70.1 319.7h0M70.4 320.1h0M70.7 320.6h0M71.1 321.4h0M71.4 322.5h0M71.7 324.3h0M71.9 326.8h0M72.2 329.7h0M72.5 332.9h0M72.8 336.0h0M73.0 338.9h0M73.3 341.3h0M73.6 343.1h0M73.8 343.9h0M74.1 343.6h0M74.4 338.6h0M74.7 326.9h0M75.0 310.0h0M75.3 289.7h0M75.6 267.7h0M75.9 245.8h0M76.2 225.6h0M76.5 208.9h0M76.8 197.3h0M77.1 192.6h0M77.4 193.7h0M77.7 197.9h0M78.0 204.3h0M78.3 212.4h0M78.5 221.3h0M78.8 230.3h0M79.1 238.6h0M79.4 245.6h0M79.7 250.4h0M80.0 252.3h0M80.3 252.0h0M80.6 250.8h0M80.8 248.8h0M81.1 246.2h0M81.4 243.1h0M81.7 239.7h0M82.0 236.1h0M82.2 232.5h0M82.5 229.1h0M82.8 225.9h0M83.1 222.6h0M83.3 218.6h0M83.6 214.3h0M83.8 209.8h0M84.1 205.4h0M84.4 201.3h0M84.6 197.7h0M84.9 194.9h0M85.1 193.2h0M85.4 192.6h0M85.7 194.2h0M86.0 198.4h0M86.3 204.4h0M86.6 211.7h0M86.9 219.6h0M87.2 227.4h0M87.5 234.4h0M87.8 240.1h0M88.1 243.7h0M88.4 244.7h0M88.7 240.5h0M89.0 230.1h0M89.3 215.1h0M89.6 197.0h0M90.0 177.4h0M90.3 158.0h0M90.6 140.2h0M90.9 125.6h0M91.2 115.8h0M91.5 112.3h0M91.8 117.0h0M92.1 129.4h0M92.4 147.5h0M92.7 169.5h0M93.0 193.5h0M93.3 217.5h0M93.6 239.7h0M93.9 258.2h0M94.2 271.1h0M94.5 276.4h0M94.8 276.4h0M95.0 274.8h0M95.3 271.8h0M95.6 267.7h0M95.8 262.9h0M96.1 257.7h0M96.4 252.3h0M96.7 247.1h0M96.9 242.4h0M97.2 238.5h0M97.5 234.8h0M97.8 230.6h0M98.1 226.2h0M98.4 221.8h0M98.7 217.6h0M99.0 213.9h0M99.3 210.7h0M99.6 208.4h0M99.9 207.1h0M100.2 207.1h0M100.5 211.0h0M100.7 220.5h0M101.0 234.2h0M101.2 250.6h0M101.5 268.5h0M101.7 286.3h0M102.0 302.6h0M102.2 316.2h0M102.5 325.6h0M102.7 329.3h0M103.0 328.4h0M103.4 325.0h0M103.7 319.7h0M104.0 312.9h0M104.3 305.2h0M104.7 297.1h0M105.0 289.1h0M105.3 281.6h0M105.7 275.3h0M106.0 270.6h0M106.2 266.9h0M106.5 263.2h0M106.7 259.6h0M106.9 256.3h0M107.2 253.2h0M107.4 250.4h0M107.6 248.1h0M107.8 246.2h0M108.1 244.9h0M108.3 244.2h0M108.6 243.9h0M108.9 243.6h0M109.2 243.4h0M109.5 243.2h0M109.8 243.1h0M110.1 243.1h0M110.4 243.0h0M110.7 243.1h0M111.0 243.1h0M111.3 243.2h0M111.7 243.5h0M112.1 244.3h0M112.5 245.3h0M112.9 246.7h0M113.3 248.2h0M113.7 249.9h0M114.1 251.6h0M114.5 253.4h0M114.9 255.0h0M115.3 256.5h0M115.5 257.9h0M115.8 259.1h0M116.0 260.4h0M116.3 261.7h0M116.5 263.0h0M116.8 264.3h0M117.1 265.8h0M117.3 267.4h0M117.5 269.1h0M117.8 271.1h0M118.1 273.7h0M118.4 277.3h0M118.7 281.5h0M119.0 286.1h0M119.3 290.7h0M119.6 295.0h0M119.9 298.7h0M120.2 301.6h0M120.5 303.3h0M120.8 303.5h0M121.0 299.7h0M121.3 290.4h0M121.5 277.0h0M121.8 260.9h0M122.0 243.6h0M122.3 226.4h0M122.6 210.7h0M122.8 197.9h0M123.0 189.5h0M123.3 186.8h0M123.6 192.9h0M123.9 208.3h0M124.1 230.8h0M124.4 257.9h0M124.7 287.3h0M125.0 316.7h0M125.3 343.8h0M125.5 366.1h0M125.8 381.4h0M126.1 387.3h0M126.3 383.6h0M126.6 373.0h0M126.8 357.1h0M127.1 337.6h0M127.3 316.2h0M127.6 294.7h0M127.8 274.8h0M128.1 258.1h0M128.3 246.5h0M128.6 241.5h0M128.9 240.9h0M129.3 240.9h0M129.6 241.6h0M129.9 242.6h0M130.2 243.8h0M130.6 245.2h0M130.9 246.5h0M131.2 247.6h0M131.6 248.3h0M131.9 248.5h0M132.2 248.1h0M132.5 247.1h0M132.8 245.6h0M133.1 243.6h0M133.4 241.3h0M133.7 238.6h0M134.0 235.7h0M134.3 232.5h0M134.6 229.3h0M134.9 225.9h0M135.2 221.5h0M135.4 215.5h0M135.7 208.4h0M136.0 200.6h0M136.2 192.6h0M136.5 185.0h0M136.8 178.2h0M137.1 172.8h0M137.3 169.1h0M137.6 167.8h0M137.9 168.7h0M138.3 171.2h0M138.6 175.2h0M138.9 180.4h0M139.2 186.7h0M139.6 193.7h0M139.9 201.5h0M140.2 209.6h0M140.6 218.0h0M140.9 226.4h0M141.1 236.8h0M141.4 250.8h0M141.6 267.1h0M141.8 284.7h0M142.1 302.7h0M142.3 319.9h0M142.5 335.2h0M142.7 347.7h0M143.0 356.2h0M143.2 359.7h0M143.5 359.5h0M143.8 357.7h0M144.2 354.6h0M144.5 350.4h0M144.8 345.2h0M145.1 339.4h0M145.4 333.0h0M145.8 326.3h0M146.1 319.6h0M146.4 313.0h0M146.7 305.8h0M147.0 297.3h0M147.2 287.8h0M147.5 277.6h0M147.8 266.8h0M148.1 255.9h0M148.4 244.9h0M148.6 234.3h0M148.9 224.3h0M149.2 215.1h0M149.5 205.9h0M149.8 195.8h0M150.0 185.3h0M150.3 174.9h0M150.6 164.9h0M150.9 155.8h0M151.2 148.1h0M151.4 142.2h0M151.7 138.5h0M152.0 137.4h0M152.3 141.3h0M152.6 151.2h0M153.0 165.5h0M153.3 182.9h0M153.6 201.9h0M153.9 220.9h0M154.2 238.5h0M154.6 253.1h0M154.9 263.4h0M155.2 267.8h0M155.5 268.6h0M155.7 269.1h0M156.0 269.4h0M156.2 269.4h0M156.5 269.1h0M156.8 268.8h0M157.0 268.2h0M157.3 267.6h0M157.5 266.8h0M157.8 266.0h0M158.1 263.4h0M158.4 257.7h0M158.7 249.8h0M159.0 240.4h0M159.2 230.4h0M159.5 220.4h0M159.8 211.3h0M160.1 203.8h0M160.4 198.9h0M160.7 197.1h0M160.9 199.6h0M161.2 206.0h0M161.4 215.4h0M161.7 226.9h0M161.9 239.4h0M162.2 251.9h0M162.4 263.4h0M162.7 272.9h0M162.9 279.5h0M163.2 282.1h0M163.5 281.6h0M163.8 279.6h0M164.1 276.4h0M164.4 272.1h0M164.8 267.1h0M165.1 261.5h0M165.4 255.6h0M165.7 249.6h0M166.0 243.7h0M166.3 238.2h0M166.6 232.1h0M166.9 224.7h0M167.2 216.5h0M167.5 207.8h0M167.8 199.2h0M168.1 191.2h0M168.4 184.1h0M168.7 178.5h0M169.0 174.8h0M169.3 173.5h0M169.6 175.4h0M169.9 180.6h0M170.2 188.2h0M170.5 197.4h0M170.8 207.5h0M171.1 217.5h0M171.4 226.8h0M171.7 234.4h0M172.0 239.6h0M172.3 241.5h0M172.6 239.8h0M172.9 235.0h0M173.2 228.0h0M173.5 219.5h0M173.8 210.3h0M174.1 201.0h0M174.4 192.5h0M174.7 185.5h0M175.0 180.7h0M175.3 179.0h0M175.6 180.9h0M175.8 185.8h0M176.1 193.2h0M176.3 202.1h0M176.6 211.8h0M176.8 221.5h0M177.1 230.5h0M177.3 238.0h0M177.6 243.1h0M177.8 245.2h0M178.1 244.6h0M178.4 242.5h0M178.7 239.2h0M179.0 235.2h0M179.3 230.7h0M179.6 226.3h0M179.9 222.3h0M180.2 219.1h0M180.5 217.0h0M180.8 216.4h0M181.1 218.7h0M181.4 224.5h0M181.6 232.8h0M181.9 242.9h0M182.2 253.7h0M182.5 264.4h0M182.8 274.2h0M183.0 282.2h0M183.3 287.4h0M183.6 289.1h0M183.9 285.3h0M184.1 275.7h0M184.4 261.7h0M184.7 244.9h0M184.9 226.5h0M185.2 208.0h0M185.5 191.0h0M185.8 176.7h0M186.0 166.8h0M186.3 162.5h0M186.5 161.7h0M186.8 161.0h0M187.0 160.6h0M187.2 160.4h0M187.4 160.4h0M187.7 160.7h0M187.9 161.2h0M188.1 162.1h0M188.4 163.1h0M188.6 164.5h0M188.8 170.0h0M189.1 182.4h0M189.3 200.0h0M189.6 220.9h0M189.8 243.5h0M190.1 266.0h0M190.3 286.6h0M190.6 303.6h0M190.9 315.4h0M191.1 320.0h0M191.4 318.0h0M191.8 311.8h0M192.1 302.3h0M192.4 290.7h0M192.8 278.0h0M193.1 265.2h0M193.4 253.5h0M193.7 243.9h0M194.1 237.4h0M194.4 235.2h0M194.7 238.7h0M195.0 247.8h0M195.3 261.1h0M195.6 277.1h0M195.9 294.6h0M196.2 311.9h0M196.5 327.9h0M196.8 341.0h0M197.1 349.9h0M197.4 353.1h0M197.7 350.0h0M197.9 341.7h0M198.2 329.2h0M198.4 313.9h0M198.7 296.7h0M198.9 279.0h0M199.2 261.8h0M199.4 246.3h0M199.7 233.7h0M199.9 225.2h0M200.2 219.5h0M200.4 214.7h0M200.7 210.5h0M201.0 206.8h0M201.2 203.6h0M201.5 200.6h0M201.8 197.6h0M202.1 194.7h0M202.3 191.5h0M202.6 188.0h0M202.9 183.9h0M203.2 179.3h0M203.5 174.4h0M203.8 169.5h0M204.1 164.6h0M204.5 160.2h0M204.8 156.3h0M205.1 153.3h0M205.4 151.4h0M205.7 150.7h0M206.0 151.7h0M206.3 154.4h0M206.6 158.4h0M206.9 163.4h0M207.2 169.1h0M207.6 175.1h0M207.9 181.0h0M208.2 186.5h0M208.5 191.3h0M208.8 195.0h0M209.1 198.1h0M209.3 201.2h0M209.6 204.3h0M209.8 207.2h0M210.1 210.0h0M210.4 212.4h0M210.6 214.5h0M210.9 216.1h0M211.1 217.2h0M211.4 217.7h0M211.7 217.8h0M212.0 217.8h0M212.4 217.7h0M212.7 217.6h0M213.0 217.3h0M213.3 216.9h0M213.6 216.5h0M214.0 215.9h0M214.3 215.3h0M214.6 214.5h0M214.9 212.8h0M215.1 209.5h0M215.4 205.0h0M215.6 199.9h0M215.9 194.4h0M216.2 189.0h0M216.4 184.2h0M216.7 180.3h0M216.9 177.8h0M217.2 177.0h0M217.4 179.2h0M217.7 184.8h0M217.9 193.0h0M218.2 202.8h0M218.4 213.4h0M218.7 224.1h0M218.9 233.8h0M219.2 241.9h0M219.4 247.4h0M219.7 249.5h0M220.0 248.0h0M220.4 243.6h0M220.7 237.2h0M221.0 229.3h0M221.3 220.9h0M221.7 212.4h0M222.0 204.8h0M222.3 198.7h0M222.7 194.8h0M223.0 193.8h0M223.3 198.8h0M223.5 211.1h0M223.8 228.8h0M224.1 250.1h0M224.3 273.1h0M224.6 296.1h0M224.9 317.1h0M225.2 334.4h0M225.4 346.1h0M225.7 350.4h0M226.0 345.8h0M226.2 333.3h0M226.5 315.0h0M226.7 292.8h0M227.0 268.5h0M227.3 244.2h0M227.5 221.7h0M227.8 203.1h0M228.0 190.2h0M228.3 185.0h0M228.6 186.5h0M228.9 191.8h0M229.3 200.0h0M229.6 210.0h0M229.9 221.0h0M230.2 231.9h0M230.5 241.8h0M230.9 249.8h0M231.2 254.8h0M231.5 256.0h0M231.8 249.0h0M232.1 232.0h0M232.4 207.5h0M232.7 178.0h0M233.0 146.0h0M233.3 114.2h0M233.6 85.0h0M233.9 60.9h0M234.2 44.6h0M234.5 38.5h0M234.8 43.7h0M235.1 57.9h0M235.4 79.1h0M235.7 105.0h0M236.0 133.6h0M236.3 162.6h0M236.6 189.8h0M236.9 213.2h0M237.2 230.5h0M237.5 239.5h0M237.8 243.3h0M238.2 246.2h0M238.5 248.5h0M238.8 250.3h0M239.2 251.6h0M239.5 252.6h0M239.8 253.4h0M240.1 254.2h0M240.5 254.9h0M240.8 255.8h0M241.1 256.7h0M241.3 257.6h0M241.6 258.3h0M241.8 259.0h0M242.1 259.6h0M242.3 260.2h0M242.6 260.8h0M242.8 261.4h0M243.1 262.1h0M243.3 262.8h0M243.6 263.6h0M243.9 264.3h0M244.2 265.0h0M244.5 265.7h0M244.8 266.5h0M245.1 267.3h0M245.4 268.2h0M245.7 269.2h0M246.0 270.3h0M246.3 271.6h0M246.6 273.5h0M246.8 276.2h0M247.1 279.4h0M247.3 283.0h0M247.6 286.7h0M247.8 290.2h0M248.1 293.2h0M248.3 295.6h0M248.6 297.1h0M248.8 297.4h0M249.1 295.0h0M249.4 289.2h0M249.6 280.9h0M249.9 270.8h0M250.2 259.9h0M250.5 248.9h0M250.8 238.8h0M251.0 230.4h0M251.3 224.6h0M251.6 222.2h0M251.9 222.4h0M252.1 223.8h0M252.3 226.0h0M252.6 228.7h0M252.8 231.8h0M253.1 234.9h0M253.3 237.7h0M253.6 240.1h0M253.9 241.7h0M254.1 242.2h0M254.4 241.3h0M254.7 238.9h0M255.0 235.4h0M255.3 231.2h0M255.6 226.7h0M255.9 222.4h0M256.2 218.5h0M256.5 215.5h0M256.8 213.9h0M257.1 213.9h0M257.4 219.3h0M257.7 232.2h0M257.9 250.7h0M258.2 272.8h0M258.5 296.7h0M258.8 320.5h0M259.1 342.3h0M259.3 360.0h0M259.6 371.9h0M259.9 376.0h0M260.2 369.5h0M260.4 352.8h0M260.7 328.2h0M261.0 298.6h0M261.2 266.3h0M261.5 234.0h0M261.8 204.2h0M262.1 179.6h0M262.3 162.6h0M262.6 156.0h0M262.9 159.2h0M263.2 169.0h0M263.4 183.8h0M263.7 202.0h0M264.0 221.9h0M264.3 241.8h0M264.6 260.3h0M264.8 275.5h0M265.1 285.9h0M265.4 289.9h0M265.7 287.2h0M266.0 279.4h0M266.3 267.7h0M266.6 253.5h0M266.9 238.0h0M267.2 222.5h0M267.5 208.1h0M267.8 196.1h0M268.1 187.8h0M268.4 184.5h0M268.7 185.1h0M269.0 187.4h0M269.3 191.3h0M269.6 196.2h0M269.9 201.9h0M270.2 208.1h0M270.5 214.3h0M270.8 220.2h0M271.1 225.4h0M271.4 229.7h0M271.7 233.2h0M272.0 236.5h0M272.2 239.5h0M272.5 242.4h0M272.8 245.2h0M273.1 248.0h0M273.4 250.8h0M273.6 253.8h0M273.9 256.9h0M274.2 260.3h0M274.5 264.4h0M274.8 269.3h0M275.1 274.7h0M275.4 280.4h0M275.7 286.0h0M276.0 291.2h0M276.3 295.7h0M276.6 299.1h0M276.9 301.2h0M277.2 301.7h0M277.5 298.4h0M277.8 290.3h0M278.1 278.6h0M278.4 264.6h0M278.7 249.3h0M279.0 234.0h0M279.3 219.9h0M279.6 208.2h0M279.9 200.1h0M280.2 196.8h0M280.5 197.3h0M280.8 199.7h0M281.0 203.4h0M281.3 208.2h0M281.6 213.6h0M281.9 219.3h0M282.2 224.9h0M282.4 230.0h0M282.7 234.2h0M283.0 237.2h0M283.2 239.2h0M283.5 240.8h0M283.8 242.0h0M284.0 243.1h0M284.2 244.1h0M284.5 245.2h0M284.8 246.3h0M285.0 247.7h0M285.2 249.4h0M285.5 251.5h0M285.8 254.8h0M286.1 259.8h0M286.4 265.8h0M286.7 272.6h0M287.0 279.6h0M287.3 286.3h0M287.6 292.4h0M287.9 297.3h0M288.2 300.5h0M288.5 301.7h0M288.8 300.2h0M289.1 296.2h0M289.3 290.4h0M289.6 283.3h0M289.9 275.5h0M290.2 267.7h0M290.5 260.6h0M290.7 254.7h0M291.0 250.6h0M291.3 249.0h0M291.6 249.8h0M291.8 252.2h0M292.1 255.7h0M292.4 260.1h0M292.6 264.9h0M292.9 269.8h0M293.2 274.3h0M293.5 278.0h0M293.7 280.6h0M294.0 281.6h0M294.3 281.3h0M294.6 280.2h0M294.9 278.6h0M295.2 276.6h0M295.5 274.3h0M295.8 272.1h0M296.1 270.0h0M296.4 268.3h0M296.7 267.1h0M297.0 266.6h0M297.3 266.8h0M297.6 267.4h0M297.8 268.2h0M298.1 269.3h0M298.4 270.4h0M298.7 271.5h0M299.0 272.3h0M299.2 272.9h0M299.5 273.1h0M299.8 272.8h0M300.1 269.8h0M300.4 262.7h0M300.7 252.6h0M301.0 240.4h0M301.3 227.3h0M301.6 214.2h0M301.9 202.1h0M302.2 192.1h0M302.5 185.2h0M302.8 182.5h0M303.1 183.5h0M303.4 186.9h0M303.7 191.9h0M304.0 198.2h0M304.3 205.0h0M304.6 211.9h0M304.9 218.1h0M305.2 223.3h0M305.5 226.6h0M305.8 227.7h0M306.1 225.1h0M306.4 218.5h0M306.6 209.0h0M306.9 197.5h0M307.2 185.1h0M307.5 172.8h0M307.8 161.5h0M308.0 152.4h0M308.3 146.3h0M308.6 144.4h0M308.9 148.7h0M309.1 159.7h0M309.4 175.7h0M309.7 195.1h0M310.0 216.1h0M310.2 237.2h0M310.5 256.6h0M310.8 272.8h0M311.0 284.0h0M311.3 288.6h0M311.6 288.0h0M311.9 285.0h0M312.2 280.3h0M312.5 274.3h0M312.8 267.6h0M313.1 260.9h0M313.4 254.6h0M313.7 249.3h0M314.0 245.6h0M314.3 244.0h0M314.6 243.8h0M314.9 243.9h0M315.2 244.2h0M315.5 244.6h0M315.8 245.1h0M316.1 245.7h0M316.4 246.3h0M316.7 246.8h0M317.0 247.3h0M317.3 247.7h0M317.6 248.0h0M317.9 248.3h0M318.1 248.6h0M318.4 248.9h0M318.7 249.2h0M319.0 249.4h0M319.3 249.7h0M319.5 249.9h0M319.8 250.1h0M320.1 250.3h0M320.4 250.5h0M320.7 250.6h0M321.0 250.8h0M321.3 251.0h0M321.6 251.1h0M321.9 251.3h0M322.2 251.4h0M322.5 251.5h0M322.8 251.5h0M323.1 251.5h0M323.4 251.4h0M323.6 251.2h0M323.9 250.9h0M324.1 250.4h0M324.4 249.9h0M324.7 249.4h0M324.9 248.8h0M325.2 248.2h0M325.4 247.6h0M325.7 247.0h0M325.9 246.3h0M326.2 245.4h0M326.4 244.4h0M326.7 243.3h0M326.9 242.2h0M327.1 241.2h0M327.4 240.3h0M327.6 239.6h0M327.9 239.1h0M328.1 239.0h0M328.4 239.5h0M328.7 240.7h0M329.0 242.5h0M329.3 244.6h0M329.6 247.0h0M330.0 249.3h0M330.3 251.4h0M330.6 253.2h0M330.9 254.4h0M331.2 254.8h0M331.5 254.5h0M331.8 253.7h0M332.1 252.5h0M332.4 251.0h0M332.8 249.2h0M333.1 247.3h0M333.4 245.3h0M333.7 243.4h0M334.0 241.6h0M334.3 240.0h0M334.6 238.4h0M334.9 236.7h0M335.2 234.8h0M335.5 232.9h0M335.8 231.1h0M336.0 229.5h0M336.3 228.0h0M336.6 226.9h0M336.9 226.2h0M337.2 225.9h0M337.5 226.0h0M337.8 226.3h0M338.1 226.9h0M338.4 227.8h0M338.6 229.1h0M338.9 230.7h0M339.2 232.8h0M339.5 235.4h0M339.8 238.5h0M340.1 242.2h0M340.4 250.5h0M340.6 266.0h0M340.9 286.8h0M341.1 311.1h0M341.4 336.8h0M341.6 362.1h0M341.9 385.2h0M342.1 403.9h0M342.4 416.5h0M342.6 421.1h0M342.9 415.7h0M343.3 401.1h0M343.6 379.7h0M343.9 353.7h0M344.2 325.3h0M344.6 296.8h0M344.9 270.4h0M345.2 248.3h0M345.6 232.9h0M345.9 226.4h0M346.1 225.7h0M346.4 226.3h0M346.6 227.7h0M346.9 229.8h0M347.1 232.3h0M347.4 234.9h0M347.6 237.4h0M347.9 239.5h0M348.1 241.0h0M348.4 241.5h0M348.7 240.9h0M349.0 239.2h0M349.3 236.7h0M349.6 233.8h0M349.9 230.6h0M350.2 227.5h0M350.5 224.8h0M350.8 222.7h0M351.1 221.5h0M351.4 221.4h0M351.7 224.7h0M351.9 232.7h0M352.2 244.1h0M352.5 257.8h0M352.8 272.7h0M353.0 287.7h0M353.3 301.5h0M353.6 313.1h0M353.8 321.3h0M354.1 325.0h0M354.4 325.9h0M354.7 326.7h0M355.0 327.3h0M355.3 327.7h0M355.6 328.0h0M355.9 328.0h0M356.2 327.9h0M356.5 327.6h0M356.8 327.0h0M357.1 326.3h0M357.4 322.4h0M357.6 313.3h0M357.9 300.4h0M358.1 284.9h0M358.4 268.1h0M358.7 251.3h0M358.9 235.9h0M359.2 223.2h0M359.4 214.4h0M359.7 210.9h0M360.0 212.2h0M360.3 216.6h0M360.6 223.2h0M360.9 231.4h0M361.2 240.3h0M361.5 249.2h0M361.8 257.3h0M362.1 263.9h0M362.4 268.3h0M362.7 269.6h0M363.0 265.9h0M363.2 256.6h0M363.5 243.2h0M363.8 227.1h0M364.0 209.6h0M364.3 192.2h0M364.6 176.3h0M364.9 163.4h0M365.1 154.8h0M365.4 151.9h0M365.7 157.3h0M366.0 171.3h0M366.3 191.6h0M366.6 216.1h0M366.9 242.8h0M367.2 269.4h0M367.5 294.0h0M367.8 314.3h0M368.1 328.3h0M368.4 333.8h0M368.7 331.2h0M369.0 323.4h0M369.3 311.5h0M369.6 296.8h0M369.9 280.8h0M370.3 264.7h0M370.6 249.7h0M370.9 237.3h0M371.2 228.7h0M371.5 225.2h0M371.8 225.7h0M372.0 227.8h0M372.3 231.4h0M372.6 236.0h0M372.9 241.3h0M373.1 247.1h0M373.4 252.9h0M373.7 258.4h0M373.9 263.3h0M374.2 267.3h0M374.5 271.0h0M374.8 275.0h0M375.1 279.1h0M375.4 283.2h0M375.7 287.1h0M376.0 290.5h0M376.3 293.3h0M376.6 295.3h0M376.9 296.2h0M377.2 295.9h0M377.4 290.7h0M377.7 278.1h0M378.0 260.2h0M378.2 238.6h0M378.4 215.3h0M378.7 192.1h0M378.9 170.8h0M379.2 153.3h0M379.4 141.5h0M379.7 137.1h0M380.0 141.4h0M380.3 153.3h0M380.6 170.7h0M380.9 191.9h0M381.2 215.0h0M381.5 238.2h0M381.8 259.5h0M382.1 277.2h0M382.4 289.4h0M382.7 294.2h0M383.0 292.9h0M383.3 288.4h0M383.5 281.2h0M383.8 271.9h0M384.1 261.2h0M384.4 249.5h0M384.7 237.4h0M384.9 225.5h0M385.2 214.4h0M385.5 204.6h0M385.8 194.9h0M386.1 183.9h0M386.3 172.2h0M386.6 160.4h0M386.9 148.9h0M387.2 138.3h0M387.5 129.2h0M387.7 122.1h0M388.0 117.5h0M388.3 116.0h0M388.6 119.4h0M388.8 128.2h0M389.1 141.1h0M389.4 156.7h0M389.6 173.8h0M389.9 191.0h0M390.2 206.9h0M390.5 220.3h0M390.7 229.8h0M391.0 234.0h0M391.2 235.1h0M391.5 236.0h0M391.8 236.6h0M392.0 237.1h0M392.2 237.3h0M392.5 237.4h0M392.8 237.3h0M393.0 236.9h0M393.2 236.4h0M393.5 235.7h0M393.8 232.0h0M394.2 223.4h0M394.5 211.1h0M394.8 196.4h0M395.1 180.4h0M395.5 164.5h0M395.8 149.7h0M396.1 137.5h0M396.5 128.9h0M396.8 125.3h0M397.1 124.7h0M397.4 124.5h0M397.7 124.6h0M398.0 125.1h0M398.3 125.9h0M398.6 127.1h0M398.9 128.8h0M399.2 130.8h0M399.5 133.2h0M399.8 136.1h0M400.1 143.0h0M400.4 156.4h0M400.7 174.7h0M401.0 196.4h0M401.3 219.7h0M401.6 243.2h0M401.9 265.1h0M402.2 284.0h0M402.5 298.2h0M402.8 306.0h0M403.1 310.0h0M403.3 313.6h0M403.6 316.9h0M403.8 319.7h0M404.1 322.0h0M404.3 323.7h0M404.6 324.8h0M404.8 325.2h0M405.1 324.9h0M405.3 323.8h0M405.6 316.4h0M405.9 299.1h0M406.2 274.3h0M406.5 244.4h0M406.9 212.2h0M407.2 180.0h0M407.5 150.3h0M407.8 125.7h0M408.1 108.7h0M408.4 101.7h0M408.7 102.5h0M408.9 106.7h0M409.2 113.6h0M409.5 122.5h0M409.8 132.7h0M410.0 143.6h0M410.3 154.5h0M410.6 164.7h0M410.8 173.6h0M411.1 180.5h0M411.4 185.6h0M411.7 189.8h0M411.9 193.5h0M412.2 196.7h0M412.5 199.9h0M412.8 203.2h0M413.1 207.0h0M413.3 211.4h0M413.6 216.8h0M413.9 223.4h0M414.2 233.8h0M414.5 249.6h0M414.8 269.1h0M415.1 290.9h0M415.4 313.4h0M415.7 335.2h0M416.0 354.6h0M416.3 370.2h0M416.6 380.6h0M416.9 384.0h0M417.2 377.3h0M417.5 360.0h0M417.8 334.8h0M418.1 304.3h0M418.4 271.1h0M418.7 237.9h0M419.0 207.5h0M419.3 182.3h0M419.6 165.2h0M419.9 158.7h0M420.2 163.3h0M420.5 176.2h0M420.7 195.6h0M421.0 219.5h0M421.3 245.9h0M421.6 273.0h0M421.9 298.7h0M422.1 321.1h0M422.4 338.3h0M422.7 348.4h0M423.0 353.9h0M423.2 358.8h0M423.5 363.0h0M423.8 366.7h0M424.0 369.8h0M424.3 372.3h0M424.6 374.2h0M424.9 375.6h0M425.1 376.4h0M425.4 376.7h0M425.7 376.2h0M426.0 374.8h0M426.3 372.6h0M426.6 370.0h0M426.9 367.0h0M427.2 363.9h0M427.5 360.9h0M427.8 358.2h0M428.1 356.1h0M428.4 354.6h0M428.6 353.8h0M428.9 353.2h0M429.1 352.9h0M429.4 352.7h0M429.6 352.6h0M429.9 352.3h0M430.2 351.8h0M430.4 351.1h0M430.6 350.0h0M430.9 348.4h0M431.2 343.8h0M431.6 334.4h0M431.9 321.6h0M432.2 306.4h0M432.5 290.3h0M432.9 274.4h0M433.2 259.9h0M433.5 248.0h0M433.9 240.1h0M434.2 237.2h0M434.5 240.8h0M434.8 250.5h0M435.0 264.7h0M435.3 281.9h0M435.6 300.5h0M435.9 319.1h0M436.2 336.2h0M436.4 350.1h0M436.7 359.5h0M437.0 362.7h0M437.3 357.8h0M437.6 344.9h0M437.9 326.1h0M438.2 303.3h0M438.5 278.4h0M438.8 253.6h0M439.1 230.6h0M439.4 211.4h0M439.7 198.1h0M440.0 192.6h0M440.3 192.7h0M440.5 194.8h0M440.8 198.5h0M441.1 203.2h0M441.4 208.7h0M441.6 214.6h0M441.9 220.4h0M442.2 225.7h0M442.4 230.1h0M442.7 233.2h0M443.0 235.5h0M443.3 237.8h0M443.5 240.0h0M443.8 242.1h0M444.1 244.0h0M444.4 245.6h0M444.7 247.0h0M444.9 248.0h0M445.2 248.7h0M445.5 249.0h0M445.8 248.9h0M446.1 248.5h0M446.3 247.9h0M446.6 247.0h0M446.9 246.1h0M447.2 245.1h0M447.5 244.0h0M447.7 243.1h0M448.0 242.2h0M448.3 241.5h0M448.6 240.9h0M448.8 240.3h0M449.1 239.7h0M449.4 239.1h0M449.6 238.5h0M449.9 238.0h0M450.2 237.5h0M450.5 237.1h0M450.7 236.8h0M451.0 236.5h0M451.3 236.3h0M451.6 236.1h0M451.8 235.8h0M452.1 235.6h0M452.4 235.5h0M452.7 235.3h0M453.0 235.2h0M453.2 235.2h0M453.5 235.2h0M453.8 235.2h0M454.1 235.6h0M454.4 236.5h0M454.7 237.7h0M455.0 239.2h0M455.3 240.9h0M455.6 242.5h0M455.9 244.0h0M456.2 245.3h0M456.5 246.2h0M456.8 246.5h0M457.1 246.4h0M457.4 246.0h0M457.6 245.5h0M457.9 244.8h0M458.2 244.1h0M458.5 243.3h0M458.8 242.6h0M459.0 242.0h0M459.3 241.6h0M459.6 241.5h0M459.9 241.6h0M460.2 242.0h0M460.5 242.6h0M460.8 243.2h0M461.1 244.0h0M461.4 244.7h0M461.7 245.4h0M462.0 245.9h0M462.3 246.3h0M462.6 246.5h0M462.9 246.5h0M463.2 246.5h0M463.5 246.5h0M463.8 246.4h0M464.1 246.4h0M464.4 246.3h0M464.7 246.2h0M465.0 246.1h0M465.3 246.1h0M465.6 246.0h0M465.9 245.9h0M466.1 245.8h0M466.4 245.7h0M466.7 245.6h0M467.0 245.5h0M467.2 245.4h0M467.5 245.3h0M467.8 245.3h0M468.0 245.2h0M468.3 245.2h0M468.6 245.3h0M468.9 245.4h0M469.2 245.7h0M469.5 245.9h0M469.9 246.2h0M470.2 246.5h0M470.5 246.8h0M470.8 247.1h0M471.1 247.2h0M471.4 247.3h0M471.7 247.3h0M471.9 247.3h0M472.2 247.3h0M472.5 247.3h0M472.8 247.3h0M473.0 247.3h0M473.3 247.3h0M473.6 247.3h0M473.8 247.3h0M474.1 247.3h0M474.4 247.3h0M474.7 247.4h0M475.0 247.5h0M475.3 247.6h0M475.6 247.7h0M475.9 247.8h0M476.2 247.8h0M476.5 247.9h0M476.8 247.9h0M477.1 247.8h0M477.4 247.3h0M477.7 246.2h0M477.9 244.7h0M478.2 242.8h0M478.5 240.8h0M478.8 238.7h0M479.1 236.9h0M479.3 235.4h0M479.6 234.4h0M479.9 234.0h0M480.2 234.3h0M480.5 235.2h0M480.7 236.5h0M481.0 238.2h0M481.3 240.1h0M481.6 242.1h0M481.9 244.1h0M482.1 246.0h0M482.4 247.7h0M482.7 249.0h0M483.0 250.2h0M483.2 251.5h0M483.5 252.9h0M483.8 254.3h0M484.0 255.5h0M484.3 256.6h0M484.6 257.4h0M484.9 258.0h0M485.1 258.1h0M485.4 257.8h0M485.7 255.0h0M486.0 248.2h0M486.2 238.6h0M486.5 227.0h0M486.8 214.6h0M487.1 202.2h0M487.4 190.9h0M487.6 181.7h0M487.9 175.6h0M488.2 173.5h0M488.5 177.3h0M488.8 187.1h0M489.1 201.3h0M489.4 218.5h0M489.7 237.1h0M490.0 255.6h0M490.3 272.5h0M490.6 286.3h0M490.9 295.4h0M491.2 298.4h0M491.5 292.1h0M491.7 276.1h0M492.0 252.7h0M492.2 224.6h0M492.4 194.0h0M492.7 163.4h0M493.0 135.3h0M493.2 112.2h0M493.4 96.4h0M493.7 90.4h0M494.0 94.9h0M494.4 107.6h0M494.7 126.6h0M495.0 149.6h0M495.4 174.8h0M495.7 200.1h0M496.0 223.5h0M496.3 242.9h0M496.7 256.2h0M497.0 261.6h0M497.3 259.8h0M497.6 253.9h0M497.9 244.8h0M498.2 233.6h0M498.5 221.4h0M498.8 209.0h0M499.1 197.6h0M499.4 188.2h0M499.7 181.8h0M500.0 179.5h0M500.3 181.7h0M500.5 187.5h0M500.8 196.2h0M501.1 206.8h0M501.4 218.6h0M501.6 230.6h0M501.9 242.0h0M502.2 252.0h0M502.4 259.6h0M502.7 264.1h0M503.0 266.4h0M503.3 268.1h0M503.6 269.4h0M503.9 270.3h0M504.2 271.1h0M504.5 271.9h0M504.8 272.6h0M505.1 273.6h0M505.4 274.9h0M505.7 276.6h0M506.0 278.9h0M506.2 281.8h0M506.5 285.1h0M506.7 288.9h0M507.0 292.9h0M507.3 297.1h0M507.5 301.3h0M507.8 305.6h0M508.0 309.7h0M508.3 313.5h0M508.6 317.6h0M508.9 322.3h0M509.2 327.5h0M509.5 332.7h0M509.8 337.7h0M510.1 342.2h0M510.4 346.1h0M510.7 348.9h0M511.0 350.4h0M511.3 350.4h0M511.6 346.4h0M511.8 337.0h0M512.1 323.3h0M512.4 306.2h0M512.6 287.0h0M512.9 266.6h0M513.2 246.1h0M513.5 226.6h0M513.7 209.3h0M514.0 195.1h0M514.3 182.4h0M514.6 169.2h0M514.8 155.8h0M515.1 142.7h0M515.4 130.4h0M515.7 119.3h0M516.0 109.7h0M516.2 102.3h0M516.5 97.3h0M516.8 95.2h0M517.1 95.2h0M517.4 96.2h0M517.8 98.1h0M518.1 100.9h0M518.4 104.5h0M518.7 108.9h0M519.0 114.0h0M519.4 119.7h0M519.7 126.1h0M520.0 133.1h0M520.2 144.6h0M520.5 163.2h0M520.7 187.1h0M520.9 214.2h0M521.1 242.6h0M521.4 270.5h0M521.6 295.8h0M521.8 316.5h0M522.1 330.9h0M522.3 336.8h0M522.6 336.0h0M522.9 332.1h0M523.2 325.8h0M523.5 317.8h0M523.8 309.0h0M524.1 300.1h0M524.4 291.8h0M524.7 285.1h0M525.0 280.6h0M525.3 279.1h0M525.6 282.0h0M526.0 289.4h0M526.3 300.2h0M526.6 313.2h0M527.0 327.3h0M527.3 341.3h0M527.6 354.1h0M527.9 364.7h0M528.3 371.7h0M528.6 374.2h0M528.9 371.5h0M529.1 364.5h0M529.4 353.9h0M529.7 340.6h0M530.0 325.4h0M530.2 309.2h0M530.5 292.8h0M530.8 277.1h0M531.0 262.8h0M531.3 250.8h0M531.6 239.7h0M531.9 227.8h0M532.1 215.7h0M532.4 203.6h0M532.7 192.1h0M533.0 181.6h0M533.3 172.7h0M533.5 165.7h0M533.8 161.1h0M534.1 159.4h0M534.4 161.3h0M534.7 166.6h0M534.9 174.5h0M535.2 184.2h0M535.5 194.8h0M535.8 205.6h0M536.1 215.7h0M536.3 224.2h0M536.6 230.3h0M536.9 233.2h0M537.2 234.0h0M537.5 234.5h0M537.8 234.6h0M538.1 234.6h0M538.4 234.5h0M538.7 234.4h0M539.0 234.4h0M539.3 234.6h0M539.6 235.1h0M539.9 236.0h0M540.2 239.4h0M540.4 246.5h0M540.6 256.5h0M540.9 268.2h0M541.1 280.9h0M541.4 293.4h0M541.6 304.8h0M541.9 314.1h0M542.1 320.3h0M542.4 322.5h0M542.7 319.3h0M543.0 311.0h0M543.3 298.9h0M543.6 284.1h0M543.9 268.0h0M544.2 251.9h0M544.5 237.0h0M544.8 224.5h0M545.1 215.8h0M545.4 212.1h0M545.7 211.7h0M546.0 212.1h0M546.2 212.9h0M546.5 214.2h0M546.8 215.6h0M547.1 217.1h0M547.4 218.5h0M547.6 219.6h0M547.9 220.2h0M548.2 220.2h0M548.5 218.3h0M548.7 213.7h0M549.0 207.1h0M549.3 199.2h0M549.5 190.7h0M549.8 182.4h0M550.1 174.8h0M550.4 168.8h0M550.6 165.0h0M550.9 164.0h0M551.2 168.2h0M551.4 178.5h0M551.6 193.6h0M551.9 212.0h0M552.1 232.4h0M552.4 253.6h0M552.6 274.0h0M552.9 292.3h0M553.1 307.3h0M553.4 317.5h0M553.7 324.7h0M554.1 331.6h0M554.4 338.1h0M554.7 343.9h0M555.0 349.2h0M555.4 353.7h0M555.7 357.3h0M556.0 360.0h0M556.4 361.7h0M556.7 362.2h0M557.0 360.6h0M557.3 356.2h0M557.6 349.9h0M557.9 342.3h0M558.2 333.9h0M558.5 325.5h0M558.8 317.8h0M559.1 311.4h0M559.4 306.9h0M559.7 305.0h0M560.0 304.8h0M560.2 304.8h0M560.5 305.2h0M560.7 305.8h0M561.0 306.7h0M561.2 307.9h0M561.5 309.4h0M561.7 311.3h0M562.0 313.5h0M562.2 316.0h0M562.5 321.6h0M562.9 332.0h0M563.2 346.0h0M563.5 362.3h0M563.9 379.6h0M564.2 396.7h0M564.5 412.3h0M564.8 425.1h0M565.2 433.8h0M565.5 437.2h0M565.8 435.7h0M566.1 431.1h0M566.4 424.0h0M566.7 415.0h0M567.0 404.8h0M567.3 393.9h0M567.6 383.0h0M567.9 372.8h0M568.2 363.7h0M568.5 356.6h0M568.8 350.9h0M569.0 345.8h0M569.2 341.0h0M569.5 336.6h0M569.8 332.3h0M570.0 328.2h0M570.2 323.9h0M570.5 319.5h0M570.8 314.8h0M571.0 309.7h0M571.3 303.6h0M571.6 296.4h0M571.9 288.4h0M572.2 280.1h0M572.5 271.9h0M572.8 264.3h0M573.1 257.7h0M573.4 252.4h0M573.7 249.0h0M574.0 247.8h0M574.3 250.0h0M574.6 256.0h0M574.8 264.6h0M575.1 275.0h0M575.4 286.3h0M575.7 297.5h0M576.0 307.7h0M576.2 315.8h0M576.5 321.1h0M576.8 322.5h0M577.1 316.6h0M577.4 302.1h0M577.7 281.1h0M578.0 255.8h0M578.3 228.4h0M578.6 201.1h0M578.9 176.0h0M579.2 155.3h0M579.5 141.2h0M579.8 135.9h0M580.1 140.0h0M580.3 151.7h0M580.6 169.0h0M580.9 190.1h0M581.1 213.1h0M581.4 236.2h0M581.7 257.5h0M582.0 275.2h0M582.2 287.4h0M582.5 292.2h0M582.8 290.1h0M583.1 283.6h0M583.4 273.8h0M583.7 261.8h0M584.0 248.7h0M584.4 235.5h0M584.7 223.5h0M585.0 213.7h0M585.3 207.2h0M585.6 205.1h0M585.9 209.8h0M586.1 221.7h0M586.4 238.9h0M586.6 259.7h0M586.9 282.3h0M587.1 304.8h0M587.4 325.4h0M587.6 342.4h0M587.9 354.0h0M588.1 358.2h0M588.4 354.0h0M588.7 342.6h0M589.1 325.8h0M589.4 305.4h0M589.7 283.1h0M590.0 260.7h0M590.3 240.0h0M590.7 222.8h0M591.0 210.8h0M591.3 205.9h0M591.6 206.4h0M591.9 209.0h0M592.1 213.4h0M592.4 218.9h0M592.7 225.1h0M593.0 231.3h0M593.3 237.1h0M593.5 242.0h0M593.8 245.3h0M594.1 246.5h0M594.4 246.0h0M594.7 244.5h0M595.0 242.2h0M595.3 239.1h0M595.6 235.4h0M595.9 231.2h0M596.2 226.5h0M596.5 221.6h0M596.8 216.5h0M597.1 211.4h0M597.4 204.9h0M597.7 196.0h0M597.9 185.5h0M598.2 174.0h0M598.5 162.4h0M598.8 151.3h0M599.1 141.5h0M599.3 133.7h0M599.6 128.5h0M599.9 126.8h0M600.2 129.3h0M600.5 135.7h0M600.8 145.4h0M601.1 157.6h0M601.4 171.6h0M601.7 186.7h0M602.0 202.2h0M602.3 217.3h0M602.6 231.3h0M602.9 243.5h0M603.2 255.4h0M603.4 268.5h0M603.6 282.4h0M603.9 296.3h0M604.1 309.7h0M604.4 322.0h0M604.6 332.6h0M604.9 340.9h0M605.1 346.4h0M605.4 348.4h0M605.7 347.4h0M606.0 344.4h0M606.3 339.4h0M606.6 332.5h0M606.9 323.8h0M607.2 313.2h0M607.5 300.9h0M607.8 287.0h0M608.1 271.4h0M608.4 254.3h0" stroke="#0000ff" stroke-width="2.45" stroke-linecap="round" fill="none"/>
<path d="M100.24 453.3v-8M100.24 39.2v8M156.88 453.3v-8M156.88 39.2v8M213.52 453.3v-8M213.52 39.2v8M270.16 453.3v-8M270.16 39.2v8M326.80 453.3v-8M326.80 39.2v8M383.44 453.3v-8M383.44 39.2v8M440.08 453.3v-8M440.08 39.2v8M496.72 453.3v-8M496.72 39.2v8M553.36 453.3v-8M553.36 39.2v8M43.6 90.96h6M610.0 90.96h-6M43.6 142.73h6M610.0 142.73h-6M43.6 194.49h6M610.0 194.49h-6M43.6 246.25h6M610.0 246.25h-6M43.6 298.01h6M610.0 298.01h-6M43.6 349.78h6M610.0 349.78h-6M43.6 401.54h6M610.0 401.54h-6" stroke="#303030" stroke-width="0.9" fill="none"/>
<rect x="43.6" y="39.2" width="566.40" height="414.10" fill="none" stroke="#262626" stroke-width="1.2"/>
<text transform="translate(43.30,472.60) scale(0.725,1)" font-family='"Liberation Sans", Arial, Helvetica, sans-serif' font-size="16.2" font-weight="bold" text-anchor="middle" fill="#161616" stroke="#161616" stroke-width="0.22">400</text>
<text transform="translate(99.94,472.60) scale(0.725,1)" font-family='"Liberation Sans", Arial, Helvetica, sans-serif' font-size="16.2" font-weight="bold" text-anchor="middle" fill="#161616" stroke="#161616" stroke-width="0.22">600</text>
<text transform="translate(156.58,472.60) scale(0.725,1)" font-family='"Liberation Sans", Arial, Helvetica, sans-serif' font-size="16.2" font-weight="bold" text-anchor="middle" fill="#161616" stroke="#161616" stroke-width="0.22">800</text>
<text transform="translate(213.22,472.60) scale(0.725,1)" font-family='"Liberation Sans", Arial, Helvetica, sans-serif' font-size="16.2" font-weight="bold" text-anchor="middle" fill="#161616" stroke="#161616" stroke-width="0.22">1000</text>
<text transform="translate(269.86,472.60) scale(0.725,1)" font-family='"Liberation Sans", Arial, Helvetica, sans-serif' font-size="16.2" font-weight="bold" text-anchor="middle" fill="#161616" stroke="#161616" stroke-width="0.22">1200</text>
<text transform="translate(326.50,472.60) scale(0.725,1)" font-family='"Liberation Sans", Arial, Helvetica, sans-serif' font-size="16.2" font-weight="bold" text-anchor="middle" fill="#161616" stroke="#161616" stroke-width="0.22">1400</text>
<text transform="translate(383.14,472.60) scale(0.725,1)" font-family='"Liberation Sans", Arial, Helvetica, sans-serif' font-size="16.2" font-weight="bold" text-anchor="middle" fill="#161616" stroke="#161616" stroke-width="0.22">1600</text>
<text transform="translate(439.78,472.60) scale(0.725,1)" font-family='"Liberation Sans", Arial, Helvetica, sans-serif' font-size="16.2" font-weight="bold" text-anchor="middle" fill="#161616" stroke="#161616" stroke-width="0.22">1800</text>
<text transform="translate(496.42,472.60) scale(0.725,1)" font-family='"Liberation Sans", Arial, Helvetica, sans-serif' font-size="16.2" font-weight="bold" text-anchor="middle" fill="#161616" stroke="#161616" stroke-width="0.22">2000</text>
<text transform="translate(553.06,472.60) scale(0.725,1)" font-family='"Liberation Sans", Arial, Helvetica, sans-serif' font-size="16.2" font-weight="bold" text-anchor="middle" fill="#161616" stroke="#161616" stroke-width="0.22">2200</text>
<text transform="translate(609.70,472.60) scale(0.725,1)" font-family='"Liberation Sans", Arial, Helvetica, sans-serif' font-size="16.2" font-weight="bold" text-anchor="middle" fill="#161616" stroke="#161616" stroke-width="0.22">2400</text>
<text transform="translate(39.40,44.80) scale(0.725,1)" font-family='"Liberation Sans", Arial, Helvetica, sans-serif' font-size="16.2" font-weight="bold" text-anchor="end" fill="#161616" stroke="#161616" stroke-width="0.22">8</text>
<text transform="translate(39.40,96.56) scale(0.725,1)" font-family='"Liberation Sans", Arial, Helvetica, sans-serif' font-size="16.2" font-weight="bold" text-anchor="end" fill="#161616" stroke="#161616" stroke-width="0.22">6</text>
<text transform="translate(39.40,148.33) scale(0.725,1)" font-family='"Liberation Sans", Arial, Helvetica, sans-serif' font-size="16.2" font-weight="bold" text-anchor="end" fill="#161616" stroke="#161616" stroke-width="0.22">4</text>
<text transform="translate(39.40,200.09) scale(0.725,1)" font-family='"Liberation Sans", Arial, Helvetica, sans-serif' font-size="16.2" font-weight="bold" text-anchor="end" fill="#161616" stroke="#161616" stroke-width="0.22">2</text>
<text transform="translate(39.40,251.85) scale(0.725,1)" font-family='"Liberation Sans", Arial, Helvetica, sans-serif' font-size="16.2" font-weight="bold" text-anchor="end" fill="#161616" stroke="#161616" stroke-width="0.22">0</text>
<text transform="translate(39.40,303.61) scale(0.725,1)" font-family='"Liberation Sans", Arial, Helvetica, sans-serif' font-size="16.2" font-weight="bold" text-anchor="end" fill="#161616" stroke="#161616" stroke-width="0.22">-2</text>
<text transform="translate(39.40,355.38) scale(0.725,1)" font-family='"Liberation Sans", Arial, Helvetica, sans-serif' font-size="16.2" font-weight="bold" text-anchor="end" fill="#161616" stroke="#161616" stroke-width="0.22">-4</text>
<text transform="translate(39.40,407.14) scale(0.725,1)" font-family='"Liberation Sans", Arial, Helvetica, sans-serif' font-size="16.2" font-weight="bold" text-anchor="end" fill="#161616" stroke="#161616" stroke-width="0.22">-6</text>
<text transform="translate(39.40,458.90) scale(0.725,1)" font-family='"Liberation Sans", Arial, Helvetica, sans-serif' font-size="16.2" font-weight="bold" text-anchor="end" fill="#161616" stroke="#161616" stroke-width="0.22">-8</text>
<text transform="translate(45.20,36.30) scale(0.850,1)" font-family='"Liberation Sans", Arial, Helvetica, sans-serif' font-size="17.5" font-weight="normal" text-anchor="start" fill="#333">×</text>
<text transform="translate(54.00,34.70) scale(0.667,1)" font-family='"Liberation Sans", Arial, Helvetica, sans-serif' font-size="16.2" font-weight="bold" text-anchor="start" fill="#161616" stroke="#161616" stroke-width="0.22">10</text>
<text transform="translate(66.60,27.10) scale(0.674,1)" font-family='"Liberation Sans", Arial, Helvetica, sans-serif' font-size="13.8" font-weight="bold" text-anchor="start" fill="#161616" stroke="#161616" stroke-width="0.22">-18</text>
<text x="273.20" y="495.80" textLength="103.60" lengthAdjust="spacingAndGlyphs" font-family='"Liberation Sans", Arial, Helvetica, sans-serif' font-size="17.7" font-weight="bold" fill="#161616" xml:space="preserve" stroke="#161616" stroke-width="0.22">Wavelength (nm)</text>
<text transform="translate(24.5,245.1) rotate(-90)" x="-50.80" y="0" textLength="101.6" lengthAdjust="spacingAndGlyphs" font-family='"DejaVu Sans", Verdana, sans-serif' font-size="13.7" font-weight="bold" fill="#111" stroke="#111" stroke-width="0.3">Coefficients</text>
<text x="132.50" y="24.00" textLength="120.20" lengthAdjust="spacingAndGlyphs" font-family='"Liberation Sans", Arial, Helvetica, sans-serif' font-size="17.2" font-weight="bold" fill="#161616" xml:space="preserve" stroke="#161616" stroke-width="0.22">X<tspan font-size="13.5" dy="7">2</tspan><tspan dy="-7">&#8203;</tspan> Coefficients, C<tspan font-size="13.5" dy="7" dx="3">3</tspan><tspan dy="-7">&#8203;</tspan>(</text>
<text x="255.0" y="24" font-family='"Liberation Serif", "DejaVu Serif", serif' font-style="italic" font-size="17.5" fill="#161616">λ</text>
<text x="262.60" y="24.00" textLength="256.80" lengthAdjust="spacingAndGlyphs" font-family='"Liberation Sans", Arial, Helvetica, sans-serif' font-size="17.2" font-weight="bold" fill="#161616" xml:space="preserve" stroke="#161616" stroke-width="0.22">) Interpolation using Savitzky Golay Filter</text>
<rect x="526.2" y="44.5" width="79.90" height="42.00" fill="#fff" stroke="#2a2a2a" stroke-width="1"/>
<path d="M530.2 55.3h8.8M534.6 49.099999999999994v12.4" stroke="#ff0000" stroke-width="1.0" fill="none"/>
<path d="M527.5 75.5H542.1" stroke="#0000ff" stroke-width="1.1"/>
<circle cx="534.80" cy="75.5" r="1.225" fill="#0000ff"/>
<text x="542.70" y="57.10" textLength="38.60" lengthAdjust="spacingAndGlyphs" font-family='"Liberation Sans", Arial, Helvetica, sans-serif' font-size="12" font-weight="normal" fill="#111" xml:space="preserve" stroke="#111" stroke-width="0.25">Actual C<tspan font-size="8.8" dy="4.5" dx="1.5">3</tspan><tspan dy="-4.5">&#8203;</tspan></text>
<text x="542.70" y="76.70" textLength="61.40" lengthAdjust="spacingAndGlyphs" font-family='"Liberation Sans", Arial, Helvetica, sans-serif' font-size="12" font-weight="normal" fill="#111" xml:space="preserve" stroke="#111" stroke-width="0.25">Interpolated C<tspan font-size="8.8" dy="5.5" dx="1.5">3</tspan><tspan dy="-5.5">&#8203;</tspan></text>
</g>
<g id="chart2">
<path d="M732.47 48.3V445.3M745.74 48.3V445.3M759.01 48.3V445.3M785.55 48.3V445.3M798.82 48.3V445.3M812.09 48.3V445.3M838.63 48.3V445.3M851.90 48.3V445.3M865.17 48.3V445.3M891.71 48.3V445.3M904.98 48.3V445.3M918.25 48.3V445.3M944.79 48.3V445.3M958.06 48.3V445.3M971.33 48.3V445.3M997.87 48.3V445.3M1011.14 48.3V445.3M1024.41 48.3V445.3M1050.95 48.3V445.3M1064.22 48.3V445.3M1077.49 48.3V445.3M1104.03 48.3V445.3M1117.30 48.3V445.3M1130.57 48.3V445.3M1157.11 48.3V445.3M1170.38 48.3V445.3M1183.65 48.3V445.3M1210.19 48.3V445.3M1223.46 48.3V445.3M1236.73 48.3V445.3" stroke="#e6e6e6" stroke-width="0.6" stroke-dasharray="1.2 1.2" fill="none"/>
<path d="M719.2 61.53H1250.0M719.2 74.77H1250.0M719.2 88.00H1250.0M719.2 101.23H1250.0M719.2 127.70H1250.0M719.2 140.93H1250.0M719.2 154.17H1250.0M719.2 167.40H1250.0M719.2 193.87H1250.0M719.2 207.10H1250.0M719.2 220.33H1250.0M719.2 233.57H1250.0M719.2 260.03H1250.0M719.2 273.27H1250.0M719.2 286.50H1250.0M719.2 299.73H1250.0M719.2 326.20H1250.0M719.2 339.43H1250.0M719.2 352.67H1250.0M719.2 365.90H1250.0M719.2 392.37H1250.0M719.2 405.60H1250.0M719.2 418.83H1250.0M719.2 432.07H1250.0" stroke="#efefef" stroke-width="0.6" stroke-dasharray="1.2 1.2" fill="none"/>
<path d="M772.28 48.3V445.3M825.36 48.3V445.3M878.44 48.3V445.3M931.52 48.3V445.3M984.60 48.3V445.3M1037.68 48.3V445.3M1090.76 48.3V445.3M1143.84 48.3V445.3M1196.92 48.3V445.3" stroke="#aaaaaa" stroke-width="0.6" fill="none"/>
<path d="M719.2 114.47H1250.0M719.2 180.63H1250.0M719.2 246.80H1250.0M719.2 312.97H1250.0M719.2 379.13H1250.0" stroke="#bababa" stroke-width="0.55" fill="none"/>
<path d="M721.7 206.4h9.2M726.3 200.6v11.6M724.4 202.2h9.2M729.0 196.4v11.6M727.1 189.6h9.2M731.7 183.8v11.6M729.8 245.2h9.2M734.4 239.4v11.6M732.5 187.8h9.2M737.1 182.0v11.6M735.2 216.0h9.2M739.8 210.2v11.6M737.9 205.5h9.2M742.5 199.7v11.6M740.6 235.6h9.2M745.2 229.8v11.6M743.3 207.7h9.2M747.9 201.9v11.6M746.0 316.3h9.2M750.6 310.5v11.6M748.7 212.7h9.2M753.3 206.9v11.6M751.4 272.0h9.2M756.0 266.2v11.6M754.1 299.1h9.2M758.7 293.3v11.6M756.8 272.8h9.2M761.4 267.0v11.6M759.5 329.3h9.2M764.1 323.5v11.6M762.2 219.6h9.2M766.8 213.8v11.6M764.9 277.3h9.2M769.5 271.5v11.6M767.6 258.5h9.2M772.2 252.7v11.6M770.3 157.2h9.2M774.9 151.4v11.6M773.0 188.3h9.2M777.6 182.5v11.6M775.7 222.1h9.2M780.3 216.3v11.6M778.4 218.5h9.2M783.0 212.7v11.6M781.1 225.0h9.2M785.7 219.2v11.6M783.8 235.3h9.2M788.4 229.5v11.6M786.5 185.3h9.2M791.1 179.5v11.6M789.2 268.2h9.2M793.8 262.4v11.6M791.9 157.2h9.2M796.5 151.4v11.6M794.6 242.6h9.2M799.2 236.8v11.6M797.3 323.3h9.2M801.9 317.5v11.6M800.0 271.5h9.2M804.6 265.7v11.6M802.7 236.3h9.2M807.3 230.5v11.6M805.4 235.0h9.2M810.0 229.2v11.6M808.1 176.5h9.2M812.7 170.7v11.6M810.8 168.0h9.2M815.4 162.2v11.6M813.5 250.7h9.2M818.1 244.9v11.6M816.2 346.4h9.2M820.8 340.6v11.6M818.9 196.3h9.2M823.5 190.5v11.6M821.6 287.3h9.2M826.2 281.5v11.6M824.3 267.2h9.2M828.9 261.4v11.6M827.0 254.7h9.2M831.6 248.9v11.6M829.7 254.0h9.2M834.3 248.2v11.6M832.4 342.4h9.2M837.0 336.6v11.6M835.1 235.3h9.2M839.7 229.5v11.6M837.8 316.3h9.2M842.4 310.5v11.6M840.5 233.9h9.2M845.1 228.1v11.6M843.2 221.0h9.2M847.8 215.2v11.6M845.9 265.7h9.2M850.5 259.9v11.6M848.0 264.7h9.2M852.6 258.9v11.6M850.6 304.9h9.2M855.2 299.1v11.6M853.1 178.5h9.2M857.7 172.7v11.6M855.6 240.1h9.2M860.2 234.3v11.6M858.2 225.0h9.2M862.8 219.2v11.6M861.3 200.4h9.2M865.9 194.6v11.6M864.0 250.2h9.2M868.6 244.4v11.6M866.7 256.4h9.2M871.3 250.6v11.6M869.4 255.7h9.2M874.0 249.9v11.6M872.0 324.4h9.2M876.6 318.6v11.6M874.7 266.0h9.2M879.3 260.2v11.6M877.4 264.7h9.2M882.0 258.9v11.6M880.1 229.0h9.2M884.7 223.2v11.6M882.7 327.7h9.2M887.3 321.9v11.6M885.4 176.0h9.2M890.0 170.2v11.6M888.1 342.4h9.2M892.7 336.6v11.6M890.8 209.3h9.2M895.4 203.5v11.6M893.4 403.8h9.2M898.0 398.0v11.6M896.1 200.4h9.2M900.7 194.6v11.6M898.8 252.7h9.2M903.4 246.9v11.6M901.5 189.6h9.2M906.1 183.8v11.6M904.2 317.1h9.2M908.8 311.3v11.6M906.8 237.0h9.2M911.4 231.2v11.6M909.5 238.9h9.2M914.1 233.1v11.6M912.2 264.0h9.2M916.8 258.2v11.6M914.9 205.0h9.2M919.5 199.2v11.6M917.5 238.1h9.2M922.1 232.3v11.6M920.2 285.8h9.2M924.8 280.0v11.6M922.9 219.0h9.2M927.5 213.2v11.6M925.6 294.8h9.2M930.2 289.0v11.6M928.3 237.0h9.2M932.9 231.2v11.6M930.9 277.3h9.2M935.5 271.5v11.6M933.6 181.0h9.2M938.2 175.2v11.6M936.3 175.3h9.2M940.9 169.5v11.6M939.0 226.0h9.2M943.6 220.2v11.6M941.6 214.7h9.2M946.2 208.9v11.6M944.3 299.1h9.2M948.9 293.3v11.6M947.0 235.0h9.2M951.6 229.2v11.6M949.7 232.0h9.2M954.3 226.2v11.6M952.4 234.0h9.2M957.0 228.2v11.6M955.0 313.4h9.2M959.6 307.6v11.6M957.7 255.2h9.2M962.3 249.4v11.6M960.4 204.2h9.2M965.0 198.4v11.6M963.1 255.7h9.2M967.7 249.9v11.6M965.7 252.7h9.2M970.3 246.9v11.6M968.4 245.8h9.2M973.0 240.0v11.6M971.1 247.4h9.2M975.7 241.6v11.6M973.8 246.9h9.2M978.4 241.1v11.6M976.5 246.4h9.2M981.1 240.6v11.6M979.1 245.9h9.2M983.7 240.1v11.6M981.8 247.0h9.2M986.4 241.2v11.6M984.5 252.2h9.2M989.1 246.4v11.6M987.2 231.2h9.2M991.8 225.4v11.6M989.8 243.4h9.2M994.4 237.6v11.6M992.5 266.5h9.2M997.1 260.7v11.6M995.2 308.4h9.2M999.8 302.6v11.6M997.9 225.5h9.2M1002.5 219.7v11.6M1000.6 225.0h9.2M1005.2 219.2v11.6M1003.2 289.1h9.2M1007.8 283.3v11.6M1005.9 224.6h9.2M1010.5 218.8v11.6M1008.6 208.1h9.2M1013.2 202.3v11.6M1011.3 279.0h9.2M1015.9 273.2v11.6M1013.9 222.4h9.2M1018.5 216.6v11.6M1016.6 326.6h9.2M1021.2 320.8v11.6M1019.3 154.7h9.2M1023.9 148.9v11.6M1022.0 242.6h9.2M1026.6 236.8v11.6M1024.7 291.6h9.2M1029.3 285.8v11.6M1027.3 222.0h9.2M1031.9 216.2v11.6M1030.0 295.3h9.2M1034.6 289.5v11.6M1032.7 165.0h9.2M1037.3 159.2v11.6M1035.4 309.6h9.2M1040.0 303.8v11.6M1038.0 348.1h9.2M1042.6 342.3v11.6M1040.7 231.2h9.2M1045.3 225.4v11.6M1043.4 248.9h9.2M1048.0 243.1v11.6M1046.1 307.9h9.2M1050.7 302.1v11.6M1048.8 312.7h9.2M1053.4 306.9v11.6M1051.4 162.7h9.2M1056.0 156.9v11.6M1054.1 272.0h9.2M1058.7 266.2v11.6M1056.8 342.4h9.2M1061.4 336.6v11.6M1059.5 248.9h9.2M1064.1 243.1v11.6M1062.1 265.7h9.2M1066.7 259.9v11.6M1064.8 159.2h9.2M1069.4 153.4v11.6M1067.5 285.3h9.2M1072.1 279.5v11.6M1070.2 244.7h9.2M1074.8 238.9v11.6M1072.8 282.3h9.2M1077.4 276.5v11.6M1075.5 225.0h9.2M1080.1 219.2v11.6M1078.2 223.4h9.2M1082.8 217.6v11.6M1080.9 276.5h9.2M1085.5 270.7v11.6M1083.6 185.5h9.2M1088.2 179.7v11.6M1086.2 247.7h9.2M1090.8 241.9v11.6M1088.9 250.2h9.2M1093.5 244.4v11.6M1091.6 247.0h9.2M1096.2 241.2v11.6M1094.3 246.0h9.2M1098.9 240.2v11.6M1096.9 247.2h9.2M1101.5 241.4v11.6M1099.6 246.2h9.2M1104.2 240.4v11.6M1102.3 247.0h9.2M1106.9 241.2v11.6M1105.0 246.5h9.2M1109.6 240.7v11.6M1107.7 247.3h9.2M1112.3 241.5v11.6M1110.3 246.4h9.2M1114.9 240.6v11.6M1113.0 247.2h9.2M1117.6 241.4v11.6M1115.7 246.3h9.2M1120.3 240.5v11.6M1118.4 247.0h9.2M1123.0 241.2v11.6M1121.0 246.0h9.2M1125.6 240.2v11.6M1123.7 247.5h9.2M1128.3 241.7v11.6M1126.4 252.2h9.2M1131.0 246.4v11.6M1129.1 226.3h9.2M1133.7 220.5v11.6M1131.8 220.8h9.2M1136.4 215.0v11.6M1134.4 243.2h9.2M1139.0 237.4v11.6M1137.1 274.8h9.2M1141.7 269.0v11.6M1139.8 245.2h9.2M1144.4 239.4v11.6M1142.5 243.9h9.2M1147.1 238.1v11.6M1145.1 188.3h9.2M1149.7 182.5v11.6M1147.8 189.6h9.2M1152.4 183.8v11.6M1150.5 306.6h9.2M1155.1 300.8v11.6M1153.2 194.8h9.2M1157.8 189.0v11.6M1155.9 325.3h9.2M1160.5 319.5v11.6M1158.5 340.6h9.2M1163.1 334.8v11.6M1161.2 189.8h9.2M1165.8 184.0v11.6M1163.9 152.2h9.2M1168.5 146.4v11.6M1166.6 261.0h9.2M1171.2 255.2v11.6M1169.2 156.7h9.2M1173.8 150.9v11.6M1171.9 302.9h9.2M1176.5 297.1v11.6M1174.6 216.1h9.2M1179.2 210.3v11.6M1177.3 238.4h9.2M1181.9 232.6v11.6M1180.0 277.8h9.2M1184.6 272.0v11.6M1182.6 270.7h9.2M1187.2 264.9v11.6M1185.3 267.7h9.2M1189.9 261.9v11.6M1188.0 227.2h9.2M1192.6 221.4v11.6M1190.7 350.1h9.2M1195.3 344.3v11.6M1193.3 166.5h9.2M1197.9 160.7v11.6M1196.0 212.2h9.2M1200.6 206.4v11.6M1198.7 218.1h9.2M1203.3 212.3v11.6M1201.4 195.1h9.2M1206.0 189.3v11.6M1204.1 86.0h9.2M1208.7 80.2v11.6M1206.7 96.4h9.2M1211.3 90.6v11.6M1209.4 212.7h9.2M1214.0 206.9v11.6M1212.1 215.5h9.2M1216.7 209.7v11.6M1214.8 305.9h9.2M1219.4 300.1v11.6M1217.4 266.5h9.2M1222.0 260.7v11.6M1220.1 247.2h9.2M1224.7 241.4v11.6M1222.8 333.2h9.2M1227.4 327.4v11.6M1225.5 174.5h9.2M1230.1 168.7v11.6M1228.2 286.6h9.2M1232.8 280.8v11.6M1230.8 230.6h9.2M1235.4 224.8v11.6M1233.5 242.6h9.2M1238.1 236.8v11.6M1236.2 260.2h9.2M1240.8 254.4v11.6M1238.9 260.7h9.2M1243.5 254.9v11.6M1241.5 201.6h9.2M1246.1 195.8v11.6M1244.2 241.4h9.2M1248.8 235.6v11.6" stroke="#ff0000" stroke-width="1.0" fill="none"/>
<path d="M726.3 206.4L726.6 206.3L726.9 206.1L727.1 205.8L727.4 205.5L727.7 205.0L727.9 204.6L728.2 204.0L728.5 203.5L728.7 202.8L729.0 202.2L729.3 201.3L729.6 199.9L729.8 198.3L730.1 196.5L730.4 194.7L730.6 192.9L730.9 191.4L731.2 190.3L731.4 189.6L731.7 189.6L732.0 191.4L732.3 195.8L732.5 202.1L732.8 209.6L733.1 217.8L733.3 226.0L733.6 233.4L733.9 239.5L734.1 243.7L734.4 245.2L734.7 243.6L735.0 239.3L735.2 232.9L735.5 225.2L735.8 216.8L736.0 208.3L736.3 200.5L736.6 194.0L736.8 189.6L737.1 187.8L737.4 188.4L737.7 190.4L737.9 193.5L738.2 197.3L738.5 201.5L738.7 205.7L739.0 209.6L739.3 212.8L739.6 215.1L739.8 216.0L740.1 215.8L740.4 215.0L740.6 213.8L740.9 212.4L741.2 210.7L741.4 209.1L741.7 207.6L742.0 206.4L742.3 205.7L742.5 205.5L742.8 206.5L743.1 208.8L743.3 212.2L743.6 216.3L743.9 220.7L744.1 225.1L744.4 229.2L744.7 232.5L745.0 234.8L745.2 235.6L745.5 234.8L745.8 232.5L746.0 229.2L746.3 225.2L746.6 220.9L746.8 216.7L747.1 212.8L747.4 209.8L747.7 208.0L747.9 207.7L748.2 211.2L748.5 219.8L748.7 232.0L749.0 246.8L749.3 262.7L749.5 278.6L749.8 293.2L750.1 305.2L750.4 313.3L750.6 316.3L750.9 313.5L751.2 305.7L751.4 294.2L751.7 280.2L752.0 265.0L752.2 249.7L752.5 235.6L752.8 223.9L753.1 215.9L753.3 212.7L753.6 213.7L753.9 217.2L754.1 222.6L754.4 229.4L754.7 237.2L754.9 245.3L755.2 253.4L755.5 260.8L755.8 267.2L756.0 272.0L756.3 275.8L756.6 279.7L756.8 283.5L757.1 287.0L757.4 290.3L757.6 293.2L757.9 295.6L758.2 297.5L758.5 298.7L758.7 299.1L759.0 298.3L759.3 296.3L759.5 293.3L759.8 289.6L760.1 285.7L760.3 281.7L760.6 278.2L760.9 275.2L761.2 273.4L761.4 272.8L761.7 274.6L762.0 279.1L762.2 285.6L762.5 293.4L762.8 301.8L763.0 310.2L763.3 317.8L763.6 324.0L763.9 328.1L764.1 329.3L764.4 325.9L764.7 317.5L764.9 305.3L765.2 290.5L765.5 274.4L765.7 258.4L766.0 243.6L766.3 231.4L766.6 223.0L766.8 219.6L767.1 220.9L767.4 225.0L767.6 231.3L767.9 239.1L768.2 247.6L768.4 256.2L768.7 264.2L769.0 270.8L769.3 275.4L769.5 277.3L769.8 277.3L770.1 276.9L770.3 275.9L770.6 274.6L770.9 272.8L771.1 270.6L771.4 268.0L771.7 265.2L772.0 262.0L772.2 258.5L772.5 252.8L772.8 243.5L773.0 231.7L773.3 218.2L773.6 204.0L773.8 190.2L774.1 177.6L774.4 167.3L774.7 160.1L774.9 157.2L775.2 157.4L775.5 158.7L775.7 161.1L776.0 164.3L776.3 168.0L776.5 172.2L776.8 176.5L777.1 180.7L777.4 184.8L777.6 188.3L777.9 191.9L778.2 195.9L778.4 200.2L778.7 204.6L779.0 209.0L779.2 213.0L779.5 216.5L779.8 219.3L780.1 221.3L780.3 222.1L780.6 222.2L780.9 222.0L781.1 221.6L781.4 221.1L781.7 220.6L781.9 220.0L782.2 219.4L782.5 218.9L782.8 218.6L783.0 218.5L783.3 218.6L783.6 218.9L783.8 219.4L784.1 220.0L784.4 220.8L784.6 221.6L784.9 222.4L785.2 223.3L785.5 224.2L785.7 225.0L786.0 226.0L786.3 227.2L786.5 228.6L786.8 230.1L787.1 231.5L787.3 232.9L787.6 234.0L787.9 234.9L788.2 235.3L788.4 235.3L788.7 233.6L789.0 229.6L789.2 223.9L789.5 217.0L789.8 209.6L790.0 202.3L790.3 195.5L790.6 190.1L790.9 186.5L791.1 185.3L791.4 187.8L791.7 194.3L791.9 203.7L792.2 215.0L792.5 227.3L792.7 239.6L793.0 250.8L793.3 259.9L793.6 266.1L793.8 268.2L794.1 264.9L794.4 256.4L794.6 244.0L794.9 229.0L795.2 212.7L795.4 196.3L795.7 181.3L796.0 168.9L796.3 160.4L796.5 157.2L796.8 158.7L797.1 163.2L797.3 170.1L797.6 179.0L797.9 189.3L798.1 200.4L798.4 211.8L798.7 223.0L799.0 233.5L799.2 242.6L799.5 251.6L799.8 261.5L800.0 272.1L800.3 282.7L800.6 293.1L800.9 302.5L801.1 310.8L801.4 317.3L801.7 321.6L801.9 323.3L802.2 322.4L802.5 319.5L802.7 315.1L803.0 309.4L803.3 302.9L803.6 296.0L803.8 289.0L804.1 282.4L804.4 276.4L804.6 271.5L804.9 267.1L805.2 262.6L805.4 258.0L805.7 253.5L806.0 249.2L806.3 245.3L806.5 242.0L806.8 239.2L807.1 237.3L807.3 236.3L807.6 235.9L807.9 235.8L808.1 235.7L808.4 235.8L808.7 235.9L809.0 235.9L809.2 236.0L809.5 235.8L809.8 235.5L810.0 235.0L810.3 233.0L810.6 228.6L810.8 222.5L811.1 215.1L811.4 207.1L811.7 199.0L811.9 191.3L812.2 184.6L812.5 179.5L812.7 176.5L813.0 174.8L813.3 173.2L813.5 171.7L813.8 170.4L814.1 169.3L814.4 168.5L814.6 167.9L814.9 167.6L815.2 167.6L815.4 168.0L815.7 170.0L816.0 174.5L816.2 181.1L816.5 189.4L816.8 198.9L817.1 209.3L817.3 220.1L817.6 230.9L817.9 241.2L818.1 250.7L818.4 260.6L818.7 272.1L818.9 284.7L819.2 297.6L819.5 310.2L819.8 321.8L820.0 331.9L820.3 339.8L820.6 344.9L820.8 346.4L821.1 341.9L821.4 330.4L821.6 313.7L821.9 293.4L822.2 271.4L822.5 249.4L822.7 229.1L823.0 212.3L823.3 200.8L823.5 196.3L823.8 198.4L824.1 205.0L824.3 215.0L824.6 227.2L824.9 240.6L825.2 254.1L825.4 266.6L825.7 277.0L826.0 284.3L826.2 287.3L826.5 287.3L826.8 286.4L827.0 284.7L827.3 282.5L827.6 279.9L827.9 277.0L828.1 274.2L828.4 271.5L828.7 269.1L828.9 267.2L829.2 265.6L829.5 264.0L829.7 262.3L830.0 260.8L830.3 259.3L830.6 257.9L830.8 256.7L831.1 255.8L831.4 255.1L831.6 254.7L831.9 254.4L832.2 254.1L832.4 253.8L832.7 253.5L833.0 253.3L833.3 253.1L833.5 253.1L833.8 253.2L834.1 253.5L834.3 254.0L834.6 257.0L834.9 264.1L835.1 274.1L835.4 286.2L835.7 299.2L836.0 312.1L836.2 323.9L836.5 333.6L836.8 340.1L837.0 342.4L837.3 339.3L837.6 331.1L837.8 319.2L838.1 304.7L838.4 288.9L838.7 273.1L838.9 258.6L839.2 246.6L839.5 238.4L839.7 235.3L840.0 237.4L840.3 243.5L840.5 252.5L840.8 263.5L841.1 275.6L841.4 287.6L841.6 298.7L841.9 307.8L842.2 314.0L842.4 316.3L842.7 314.2L843.0 308.6L843.2 300.1L843.5 289.8L843.8 278.4L844.1 266.7L844.3 255.5L844.6 245.8L844.9 238.3L845.1 233.9L845.4 231.4L845.7 229.1L845.9 227.1L846.2 225.4L846.5 223.9L846.8 222.7L847.0 221.8L847.3 221.2L847.6 220.9L847.8 221.0L848.1 222.4L848.4 225.8L848.6 230.8L848.9 236.8L849.2 243.2L849.5 249.7L849.7 255.7L850.0 260.7L850.3 264.2L850.5 265.7L850.7 265.9L851.0 265.9L851.2 265.8L851.4 265.5L851.6 265.2L851.8 264.9L852.0 264.7L852.2 264.5L852.4 264.5L852.6 264.7L852.9 266.1L853.1 269.5L853.4 274.2L853.6 279.9L853.9 286.0L854.2 292.0L854.4 297.4L854.7 301.6L854.9 304.3L855.2 304.9L855.5 300.9L855.7 291.1L856.0 277.0L856.2 259.9L856.5 241.5L856.7 223.1L857.0 206.1L857.2 192.1L857.5 182.4L857.7 178.5L858.0 179.8L858.2 184.2L858.5 190.9L858.7 199.1L859.0 208.3L859.2 217.4L859.5 226.0L859.7 233.1L860.0 238.0L860.2 240.1L860.5 240.1L860.7 239.6L861.0 238.5L861.2 237.1L861.5 235.3L861.8 233.4L862.0 231.3L862.3 229.1L862.5 227.0L862.8 225.0L863.1 222.8L863.4 220.0L863.7 216.8L864.0 213.4L864.4 210.1L864.7 207.0L865.0 204.2L865.3 202.1L865.6 200.8L865.9 200.4L866.2 201.8L866.5 205.4L866.7 210.6L867.0 216.9L867.3 223.8L867.5 230.9L867.8 237.6L868.1 243.3L868.3 247.7L868.6 250.2L868.9 251.5L869.1 252.6L869.4 253.5L869.7 254.3L869.9 254.9L870.2 255.5L870.5 255.9L870.7 256.1L871.0 256.3L871.3 256.4L871.5 256.4L871.8 256.2L872.1 256.0L872.3 255.7L872.6 255.5L872.9 255.3L873.1 255.1L873.4 255.1L873.7 255.3L874.0 255.7L874.2 258.0L874.5 263.5L874.8 271.2L875.0 280.5L875.3 290.6L875.6 300.6L875.8 309.8L876.1 317.3L876.4 322.5L876.6 324.4L876.9 322.9L877.2 318.6L877.4 312.3L877.7 304.6L878.0 296.1L878.2 287.6L878.5 279.6L878.8 272.9L879.0 268.2L879.3 266.0L879.6 265.5L879.8 265.2L880.1 265.1L880.4 265.1L880.6 265.1L880.9 265.2L881.2 265.3L881.4 265.3L881.7 265.1L882.0 264.7L882.3 263.3L882.5 260.2L882.8 256.0L883.1 251.0L883.3 245.6L883.6 240.4L883.9 235.7L884.1 232.0L884.4 229.6L884.7 229.0L884.9 232.2L885.2 240.0L885.5 251.3L885.7 264.8L886.0 279.4L886.3 294.0L886.5 307.3L886.8 318.1L887.1 325.3L887.3 327.7L887.6 323.1L887.9 311.4L888.1 294.3L888.4 273.6L888.7 251.2L888.9 228.9L889.2 208.4L889.5 191.5L889.7 180.1L890.0 176.0L890.3 180.7L890.6 193.4L890.8 211.9L891.1 234.5L891.4 259.0L891.6 283.6L891.9 306.2L892.2 324.8L892.4 337.5L892.7 342.4L893.0 338.8L893.2 328.7L893.5 313.7L893.8 295.5L894.0 275.6L894.3 255.7L894.6 237.5L894.8 222.6L895.1 212.7L895.4 209.3L895.6 215.1L895.9 230.1L896.2 252.0L896.4 278.5L896.7 307.2L897.0 335.9L897.2 362.2L897.5 383.8L897.8 398.4L898.0 403.8L898.3 398.2L898.6 382.9L898.9 360.5L899.1 333.2L899.4 303.4L899.7 273.6L899.9 246.0L900.2 223.0L900.5 207.0L900.7 200.4L901.0 201.0L901.3 204.4L901.5 210.1L901.8 217.3L902.1 225.2L902.3 233.3L902.6 240.8L902.9 247.0L903.1 251.2L903.4 252.7L903.7 250.8L903.9 245.9L904.2 238.6L904.5 229.9L904.7 220.4L905.0 211.0L905.3 202.5L905.5 195.5L905.8 191.0L906.1 189.6L906.3 193.5L906.6 203.4L906.9 217.6L907.2 234.8L907.4 253.5L907.7 272.2L908.0 289.3L908.2 303.5L908.5 313.3L908.8 317.1L909.0 315.2L909.3 309.4L909.6 300.7L909.8 290.0L910.1 278.2L910.4 266.4L910.6 255.4L910.9 246.2L911.2 239.7L911.4 237.0L911.7 236.5L912.0 236.3L912.2 236.2L912.5 236.3L912.8 236.6L913.0 236.9L913.3 237.4L913.6 237.9L913.8 238.4L914.1 238.9L914.4 240.0L914.7 242.2L914.9 245.2L915.2 248.7L915.5 252.4L915.7 256.0L916.0 259.3L916.3 261.9L916.5 263.5L916.8 264.0L917.1 262.2L917.3 257.6L917.6 251.0L917.9 243.1L918.1 234.4L918.4 225.8L918.7 217.9L918.9 211.3L919.2 206.8L919.5 205.0L919.7 205.4L920.0 206.9L920.3 209.4L920.5 212.6L920.8 216.4L921.1 220.6L921.3 225.1L921.6 229.6L921.9 234.0L922.1 238.1L922.4 242.6L922.7 248.1L923.0 254.3L923.2 260.7L923.5 267.0L923.8 273.0L924.0 278.2L924.3 282.3L924.6 284.9L924.8 285.8L925.1 283.8L925.4 278.6L925.6 271.1L925.9 262.0L926.2 252.1L926.4 242.3L926.7 233.2L927.0 225.8L927.2 220.8L927.5 219.0L927.8 221.2L928.0 226.9L928.3 235.4L928.6 245.6L928.8 256.8L929.1 268.0L929.4 278.3L929.6 286.8L929.9 292.6L930.2 294.8L930.4 293.3L930.7 289.0L931.0 282.6L931.3 274.8L931.5 266.2L931.8 257.7L932.1 249.8L932.3 243.2L932.6 238.7L932.9 237.0L933.1 238.1L933.4 241.2L933.7 245.8L933.9 251.4L934.2 257.5L934.5 263.6L934.7 269.1L935.0 273.6L935.3 276.5L935.5 277.3L935.8 274.4L936.1 267.3L936.3 256.9L936.6 244.4L936.9 230.7L937.1 216.9L937.4 204.0L937.7 193.0L937.9 185.0L938.2 181.0L938.5 179.4L938.7 178.1L939.0 177.1L939.3 176.3L939.6 175.6L939.8 175.2L940.1 175.0L940.4 174.9L940.6 175.0L940.9 175.3L941.2 177.0L941.4 180.9L941.7 186.6L942.0 193.3L942.2 200.7L942.5 208.1L942.8 214.8L943.0 220.5L943.3 224.4L943.6 226.0L943.8 225.9L944.1 225.0L944.4 223.6L944.6 221.9L944.9 220.0L945.2 218.2L945.4 216.5L945.7 215.3L946.0 214.6L946.2 214.7L946.5 217.5L946.8 224.1L947.0 233.6L947.3 245.1L947.6 257.4L947.9 269.7L948.1 281.0L948.4 290.3L948.7 296.7L948.9 299.1L949.2 297.5L949.5 292.9L949.7 286.1L950.0 277.7L950.3 268.5L950.5 259.1L950.8 250.4L951.1 243.0L951.3 237.6L951.6 235.0L951.9 234.1L952.1 233.4L952.4 232.9L952.7 232.5L952.9 232.3L953.2 232.1L953.5 232.0L953.7 232.0L954.0 232.0L954.3 232.0L954.5 232.0L954.8 231.9L955.1 231.8L955.4 231.8L955.6 231.8L955.9 231.9L956.2 232.2L956.4 232.6L956.7 233.2L957.0 234.0L957.2 237.0L957.5 243.4L957.8 252.4L958.0 263.2L958.3 274.7L958.6 286.1L958.8 296.6L959.1 305.2L959.4 311.1L959.6 313.4L959.9 312.4L960.2 309.3L960.4 304.5L960.7 298.4L961.0 291.3L961.2 283.7L961.5 275.9L961.8 268.3L962.0 261.3L962.3 255.2L962.6 249.4L962.8 242.9L963.1 236.2L963.4 229.4L963.7 222.9L963.9 216.9L964.2 211.8L964.5 207.8L964.7 205.1L965.0 204.2L965.3 205.6L965.5 209.4L965.8 215.1L966.1 222.0L966.3 229.5L966.6 237.1L966.9 244.0L967.1 249.9L967.4 254.0L967.7 255.7L967.9 255.9L968.2 256.0L968.5 255.9L968.7 255.6L969.0 255.2L969.3 254.7L969.5 254.2L969.8 253.7L970.1 253.2L970.3 252.7L970.6 252.2L970.9 251.4L971.1 250.6L971.4 249.7L971.7 248.8L972.0 247.9L972.2 247.1L972.5 246.4L972.8 246.0L973.0 245.8L973.3 245.8L973.6 245.9L973.8 246.1L974.1 246.3L974.4 246.5L974.6 246.8L974.9 247.0L975.2 247.2L975.4 247.3L975.7 247.4L976.0 247.4L976.2 247.4L976.5 247.3L976.8 247.3L977.0 247.2L977.3 247.2L977.6 247.1L977.8 247.0L978.1 247.0L978.4 246.9L978.6 246.8L978.9 246.8L979.2 246.7L979.4 246.7L979.7 246.7L980.0 246.6L980.3 246.5L980.5 246.5L980.8 246.4L981.1 246.4L981.3 246.3L981.6 246.3L981.9 246.2L982.1 246.1L982.4 246.1L982.7 246.0L982.9 246.0L983.2 245.9L983.5 245.9L983.7 245.9L984.0 245.9L984.3 246.0L984.5 246.0L984.8 246.1L985.1 246.2L985.3 246.3L985.6 246.5L985.9 246.6L986.1 246.8L986.4 247.0L986.7 247.3L986.9 247.8L987.2 248.5L987.5 249.2L987.7 250.0L988.0 250.7L988.3 251.4L988.6 251.9L988.8 252.2L989.1 252.2L989.4 251.5L989.6 249.9L989.9 247.5L990.2 244.7L990.4 241.6L990.7 238.6L991.0 235.8L991.2 233.4L991.5 231.8L991.8 231.2L992.0 231.3L992.3 231.9L992.6 232.7L992.8 233.8L993.1 235.2L993.4 236.7L993.6 238.3L993.9 240.0L994.2 241.7L994.4 243.4L994.7 245.1L995.0 246.9L995.2 248.9L995.5 251.0L995.8 253.2L996.1 255.6L996.3 258.1L996.6 260.8L996.9 263.6L997.1 266.5L997.4 270.1L997.7 274.8L997.9 280.2L998.2 285.9L998.5 291.6L998.7 297.0L999.0 301.7L999.3 305.4L999.5 307.7L999.8 308.4L1000.1 305.9L1000.3 299.6L1000.6 290.5L1000.9 279.5L1001.1 267.5L1001.4 255.4L1001.7 244.3L1001.9 234.9L1002.2 228.4L1002.5 225.5L1002.7 224.9L1003.0 224.4L1003.3 224.0L1003.5 223.8L1003.8 223.8L1004.1 223.8L1004.4 224.0L1004.6 224.2L1004.9 224.6L1005.2 225.0L1005.4 227.2L1005.7 232.3L1006.0 239.5L1006.2 248.3L1006.5 257.7L1006.8 267.0L1007.0 275.6L1007.3 282.6L1007.6 287.4L1007.8 289.1L1008.1 287.5L1008.4 283.3L1008.6 277.0L1008.9 269.1L1009.2 260.4L1009.4 251.4L1009.7 242.7L1010.0 234.9L1010.2 228.7L1010.5 224.6L1010.8 221.8L1011.0 219.1L1011.3 216.6L1011.6 214.3L1011.8 212.3L1012.1 210.6L1012.4 209.3L1012.7 208.4L1012.9 208.0L1013.2 208.1L1013.5 210.4L1013.7 216.0L1014.0 223.9L1014.3 233.5L1014.5 243.9L1014.8 254.3L1015.1 263.8L1015.3 271.6L1015.6 277.0L1015.9 279.0L1016.1 277.5L1016.4 273.1L1016.7 266.7L1016.9 258.9L1017.2 250.4L1017.5 241.9L1017.7 234.2L1018.0 227.9L1018.3 223.7L1018.5 222.4L1018.8 225.7L1019.1 233.9L1019.3 245.8L1019.6 260.1L1019.9 275.6L1020.1 291.0L1020.4 305.1L1020.7 316.5L1021.0 324.1L1021.2 326.6L1021.5 321.4L1021.8 308.3L1022.0 289.1L1022.3 266.0L1022.6 240.8L1022.8 215.6L1023.1 192.4L1023.4 173.2L1023.6 160.0L1023.9 154.7L1024.2 156.1L1024.4 161.0L1024.7 168.7L1025.0 178.6L1025.2 189.9L1025.5 201.9L1025.8 213.8L1026.0 225.1L1026.3 234.9L1026.6 242.6L1026.8 249.1L1027.1 255.9L1027.4 262.7L1027.6 269.2L1027.9 275.3L1028.2 280.7L1028.4 285.3L1028.7 288.7L1029.0 290.9L1029.3 291.6L1029.5 289.5L1029.8 284.2L1030.1 276.3L1030.3 266.9L1030.6 256.6L1030.9 246.3L1031.1 236.9L1031.4 229.2L1031.7 223.9L1031.9 222.0L1032.2 224.1L1032.5 229.8L1032.7 238.1L1033.0 248.3L1033.3 259.2L1033.5 270.1L1033.8 280.1L1034.1 288.2L1034.3 293.6L1034.6 295.3L1034.9 291.3L1035.1 281.2L1035.4 266.5L1035.7 248.7L1035.9 229.5L1036.2 210.3L1036.5 192.7L1036.8 178.3L1037.0 168.5L1037.3 165.0L1037.6 168.5L1037.8 178.1L1038.1 192.3L1038.4 209.8L1038.6 229.3L1038.9 249.4L1039.2 268.8L1039.4 286.2L1039.7 300.3L1040.0 309.6L1040.2 316.0L1040.5 322.2L1040.8 327.9L1041.0 333.1L1041.3 337.8L1041.6 341.7L1041.8 344.8L1042.1 346.9L1042.4 348.1L1042.6 348.1L1042.9 344.4L1043.2 335.4L1043.4 322.5L1043.7 306.8L1044.0 289.8L1044.2 272.9L1044.5 257.2L1044.8 244.1L1045.1 235.0L1045.3 231.2L1045.6 230.8L1045.9 231.2L1046.1 232.1L1046.4 233.6L1046.7 235.5L1046.9 237.8L1047.2 240.4L1047.5 243.1L1047.7 246.0L1048.0 248.9L1048.3 252.8L1048.5 258.3L1048.8 265.1L1049.1 272.6L1049.3 280.5L1049.6 288.1L1049.9 295.2L1050.1 301.1L1050.4 305.5L1050.7 307.9L1050.9 309.1L1051.2 310.3L1051.5 311.4L1051.7 312.4L1052.0 313.2L1052.3 313.8L1052.5 314.0L1052.8 314.0L1053.1 313.6L1053.4 312.7L1053.6 307.6L1053.9 295.8L1054.2 278.9L1054.4 258.6L1054.7 236.7L1055.0 214.9L1055.2 194.9L1055.5 178.3L1055.8 167.0L1056.0 162.7L1056.3 164.7L1056.6 170.9L1056.8 180.4L1057.1 192.5L1057.4 206.2L1057.6 220.8L1057.9 235.5L1058.2 249.5L1058.4 261.9L1058.7 272.0L1059.0 281.0L1059.2 290.4L1059.5 300.0L1059.8 309.4L1060.0 318.2L1060.3 326.2L1060.6 332.9L1060.8 338.1L1061.1 341.3L1061.4 342.4L1061.7 339.7L1061.9 332.6L1062.2 322.3L1062.5 309.8L1062.7 296.2L1063.0 282.5L1063.3 269.8L1063.5 259.3L1063.8 252.0L1064.1 248.9L1064.3 249.0L1064.6 250.1L1064.9 252.1L1065.1 254.6L1065.4 257.4L1065.7 260.2L1065.9 262.7L1066.2 264.6L1066.5 265.7L1066.7 265.7L1067.0 262.2L1067.3 253.7L1067.5 241.6L1067.8 227.1L1068.1 211.4L1068.3 195.8L1068.6 181.6L1068.9 169.9L1069.1 162.0L1069.4 159.2L1069.7 162.8L1070.0 172.3L1070.2 186.2L1070.5 203.2L1070.8 221.6L1071.0 240.1L1071.3 257.2L1071.6 271.4L1071.8 281.3L1072.1 285.3L1072.4 284.7L1072.6 281.9L1072.9 277.5L1073.2 272.0L1073.4 265.8L1073.7 259.6L1074.0 253.9L1074.2 249.2L1074.5 245.9L1074.8 244.7L1075.0 245.7L1075.3 248.6L1075.6 252.9L1075.8 258.0L1076.1 263.7L1076.4 269.3L1076.6 274.4L1076.9 278.6L1077.2 281.4L1077.4 282.3L1077.7 280.6L1078.0 276.4L1078.3 270.2L1078.5 262.6L1078.8 254.3L1079.1 246.0L1079.3 238.3L1079.6 231.8L1079.9 227.2L1080.1 225.0L1080.4 224.3L1080.7 223.8L1080.9 223.4L1081.2 223.0L1081.5 222.8L1081.7 222.7L1082.0 222.7L1082.3 222.8L1082.5 223.1L1082.8 223.4L1083.1 225.2L1083.3 229.5L1083.6 235.6L1083.9 242.9L1084.1 250.8L1084.4 258.6L1084.7 265.7L1084.9 271.5L1085.2 275.3L1085.5 276.5L1085.8 273.7L1086.0 266.7L1086.3 256.6L1086.6 244.3L1086.8 230.9L1087.1 217.6L1087.4 205.3L1087.6 195.1L1087.9 188.2L1088.2 185.5L1088.4 187.0L1088.7 191.4L1089.0 198.1L1089.2 206.2L1089.5 215.2L1089.8 224.3L1090.0 232.8L1090.3 240.0L1090.6 245.2L1090.8 247.7L1091.1 248.5L1091.4 249.1L1091.6 249.6L1091.9 249.9L1092.2 250.1L1092.4 250.2L1092.7 250.2L1093.0 250.2L1093.2 250.2L1093.5 250.2L1093.8 250.1L1094.1 249.9L1094.3 249.6L1094.6 249.2L1094.9 248.8L1095.1 248.4L1095.4 247.9L1095.7 247.5L1095.9 247.2L1096.2 247.0L1096.5 246.8L1096.7 246.7L1097.0 246.5L1097.3 246.4L1097.5 246.3L1097.8 246.2L1098.1 246.1L1098.3 246.1L1098.6 246.0L1098.9 246.0L1099.1 246.0L1099.4 246.1L1099.7 246.3L1099.9 246.4L1100.2 246.6L1100.5 246.8L1100.7 246.9L1101.0 247.1L1101.3 247.2L1101.5 247.2L1101.8 247.2L1102.1 247.1L1102.4 247.0L1102.6 246.9L1102.9 246.7L1103.2 246.6L1103.4 246.4L1103.7 246.3L1104.0 246.2L1104.2 246.2L1104.5 246.2L1104.8 246.3L1105.0 246.4L1105.3 246.5L1105.6 246.6L1105.8 246.7L1106.1 246.8L1106.4 246.9L1106.6 247.0L1106.9 247.0L1107.2 247.0L1107.4 247.0L1107.7 246.9L1108.0 246.8L1108.2 246.7L1108.5 246.7L1108.8 246.6L1109.0 246.5L1109.3 246.5L1109.6 246.5L1109.8 246.5L1110.1 246.6L1110.4 246.7L1110.7 246.8L1110.9 246.9L1111.2 247.0L1111.5 247.1L1111.7 247.2L1112.0 247.3L1112.3 247.3L1112.5 247.3L1112.8 247.2L1113.1 247.1L1113.3 247.0L1113.6 246.8L1113.9 246.7L1114.1 246.6L1114.4 246.5L1114.7 246.4L1114.9 246.4L1115.2 246.4L1115.5 246.5L1115.7 246.6L1116.0 246.7L1116.3 246.8L1116.5 246.9L1116.8 247.0L1117.1 247.1L1117.3 247.2L1117.6 247.2L1117.9 247.2L1118.1 247.1L1118.4 247.0L1118.7 246.9L1119.0 246.8L1119.2 246.6L1119.5 246.5L1119.8 246.4L1120.0 246.3L1120.3 246.3L1120.6 246.3L1120.8 246.4L1121.1 246.5L1121.4 246.5L1121.6 246.7L1121.9 246.8L1122.2 246.9L1122.4 246.9L1122.7 247.0L1123.0 247.0L1123.2 247.0L1123.5 246.9L1123.8 246.8L1124.0 246.6L1124.3 246.5L1124.6 246.3L1124.8 246.2L1125.1 246.1L1125.4 246.0L1125.6 246.0L1125.9 246.0L1126.2 246.1L1126.5 246.2L1126.7 246.3L1127.0 246.5L1127.3 246.6L1127.5 246.8L1127.8 247.0L1128.1 247.3L1128.3 247.5L1128.6 247.8L1128.9 248.3L1129.1 249.0L1129.4 249.7L1129.7 250.3L1129.9 251.0L1130.2 251.6L1130.5 252.0L1130.7 252.2L1131.0 252.2L1131.3 251.4L1131.5 249.6L1131.8 247.0L1132.1 243.8L1132.3 240.3L1132.6 236.7L1132.9 233.3L1133.1 230.2L1133.4 227.8L1133.7 226.3L1133.9 225.3L1134.2 224.4L1134.5 223.6L1134.8 222.8L1135.0 222.1L1135.3 221.6L1135.6 221.2L1135.8 220.9L1136.1 220.8L1136.4 220.8L1136.6 221.3L1136.9 222.4L1137.2 224.2L1137.4 226.3L1137.7 228.9L1138.0 231.6L1138.2 234.6L1138.5 237.5L1138.8 240.5L1139.0 243.2L1139.3 246.2L1139.6 249.9L1139.8 253.9L1140.1 258.1L1140.4 262.3L1140.6 266.2L1140.9 269.6L1141.2 272.3L1141.4 274.1L1141.7 274.8L1142.0 274.0L1142.2 271.9L1142.5 268.7L1142.8 264.8L1143.1 260.6L1143.3 256.3L1143.6 252.3L1143.9 248.9L1144.1 246.4L1144.4 245.2L1144.7 244.9L1144.9 244.7L1145.2 244.7L1145.5 244.7L1145.7 244.8L1146.0 244.9L1146.3 244.8L1146.5 244.7L1146.8 244.4L1147.1 243.9L1147.3 241.9L1147.6 237.4L1147.9 231.2L1148.1 223.8L1148.4 215.8L1148.7 207.8L1148.9 200.5L1149.2 194.4L1149.5 190.1L1149.7 188.3L1150.0 187.9L1150.3 187.6L1150.5 187.3L1150.8 187.1L1151.1 187.1L1151.4 187.2L1151.6 187.4L1151.9 187.9L1152.2 188.6L1152.4 189.6L1152.7 193.8L1153.0 203.2L1153.2 216.5L1153.5 232.3L1153.8 249.4L1154.0 266.4L1154.3 282.0L1154.6 294.7L1154.8 303.4L1155.1 306.6L1155.4 303.5L1155.6 295.0L1155.9 282.4L1156.2 267.2L1156.4 250.6L1156.7 234.0L1157.0 218.8L1157.2 206.3L1157.5 197.8L1157.8 194.8L1158.0 198.3L1158.3 207.5L1158.6 221.0L1158.8 237.7L1159.1 255.9L1159.4 274.6L1159.7 292.2L1159.9 307.4L1160.2 318.9L1160.5 325.3L1160.7 328.6L1161.0 331.6L1161.3 334.3L1161.5 336.6L1161.8 338.5L1162.1 340.0L1162.3 340.9L1162.6 341.4L1162.9 341.3L1163.1 340.6L1163.4 336.1L1163.7 325.7L1163.9 310.6L1164.2 292.3L1164.5 272.1L1164.7 251.3L1165.0 231.3L1165.3 213.5L1165.5 199.2L1165.8 189.8L1166.1 183.4L1166.3 177.4L1166.6 171.7L1166.9 166.6L1167.2 162.2L1167.4 158.4L1167.7 155.4L1168.0 153.3L1168.2 152.2L1168.5 152.2L1168.8 155.7L1169.0 164.2L1169.3 176.5L1169.6 191.2L1169.8 207.2L1170.1 223.2L1170.4 237.8L1170.6 249.8L1170.9 258.0L1171.2 261.0L1171.4 258.1L1171.7 250.1L1172.0 238.3L1172.2 224.0L1172.5 208.5L1172.8 193.0L1173.0 178.8L1173.3 167.2L1173.6 159.4L1173.8 156.7L1174.1 161.0L1174.4 172.2L1174.6 188.5L1174.9 208.2L1175.2 229.6L1175.5 251.1L1175.7 270.9L1176.0 287.2L1176.3 298.5L1176.5 302.9L1176.8 300.9L1177.1 294.6L1177.3 285.1L1177.6 273.5L1177.9 260.7L1178.1 247.8L1178.4 235.8L1178.7 225.9L1178.9 219.0L1179.2 216.1L1179.5 216.1L1179.7 216.9L1180.0 218.4L1180.3 220.5L1180.5 223.0L1180.8 225.9L1181.1 229.0L1181.3 232.2L1181.6 235.4L1181.9 238.4L1182.1 241.8L1182.4 246.1L1182.7 251.0L1182.9 256.2L1183.2 261.4L1183.5 266.4L1183.8 270.8L1184.0 274.3L1184.3 276.8L1184.6 277.8L1184.8 277.8L1185.1 277.5L1185.4 276.9L1185.6 276.1L1185.9 275.1L1186.2 274.1L1186.4 273.0L1186.7 272.1L1187.0 271.3L1187.2 270.7L1187.5 270.3L1187.8 270.1L1188.0 269.9L1188.3 269.8L1188.6 269.7L1188.8 269.5L1189.1 269.3L1189.4 268.9L1189.6 268.4L1189.9 267.7L1190.2 265.9L1190.4 262.3L1190.7 257.4L1191.0 251.7L1191.2 245.7L1191.5 239.8L1191.8 234.5L1192.1 230.4L1192.3 227.8L1192.6 227.2L1192.9 231.2L1193.1 240.9L1193.4 254.9L1193.7 271.8L1193.9 290.0L1194.2 308.1L1194.5 324.6L1194.7 338.1L1195.0 347.1L1195.3 350.1L1195.5 344.7L1195.8 330.8L1196.1 310.4L1196.3 285.8L1196.6 259.0L1196.9 232.2L1197.1 207.4L1197.4 186.8L1197.7 172.4L1197.9 166.5L1198.2 166.8L1198.5 169.5L1198.7 174.0L1199.0 179.9L1199.3 186.5L1199.5 193.3L1199.8 199.8L1200.1 205.5L1200.4 209.8L1200.6 212.2L1200.9 213.4L1201.2 214.5L1201.4 215.4L1201.7 216.2L1202.0 216.9L1202.2 217.4L1202.5 217.8L1202.8 218.1L1203.0 218.2L1203.3 218.1L1203.6 217.7L1203.8 216.9L1204.1 215.6L1204.4 213.9L1204.6 211.7L1204.9 209.1L1205.2 206.2L1205.4 202.9L1205.7 199.2L1206.0 195.1L1206.2 188.7L1206.5 178.6L1206.8 165.8L1207.0 151.3L1207.3 136.2L1207.6 121.4L1207.9 108.0L1208.1 96.9L1208.4 89.3L1208.7 86.0L1208.9 85.5L1209.2 85.3L1209.5 85.5L1209.7 86.1L1210.0 87.1L1210.3 88.3L1210.5 89.9L1210.8 91.8L1211.1 94.0L1211.3 96.4L1211.6 101.6L1211.9 111.4L1212.1 124.4L1212.4 139.7L1212.7 156.1L1212.9 172.3L1213.2 187.2L1213.5 199.7L1213.7 208.6L1214.0 212.7L1214.3 213.8L1214.5 214.4L1214.8 214.6L1215.1 214.5L1215.3 214.3L1215.6 214.1L1215.9 214.0L1216.2 214.2L1216.4 214.6L1216.7 215.5L1217.0 218.9L1217.2 226.3L1217.5 236.5L1217.8 248.6L1218.0 261.7L1218.3 274.6L1218.6 286.5L1218.8 296.4L1219.1 303.2L1219.4 305.9L1219.6 305.3L1219.9 303.1L1220.2 299.6L1220.4 295.1L1220.7 290.0L1221.0 284.5L1221.2 279.1L1221.5 274.1L1221.8 269.8L1222.0 266.5L1222.3 263.8L1222.6 261.0L1222.8 258.1L1223.1 255.4L1223.4 252.9L1223.6 250.7L1223.9 249.0L1224.2 247.7L1224.5 247.1L1224.7 247.2L1225.0 250.1L1225.3 257.0L1225.5 266.9L1225.8 278.7L1226.1 291.5L1226.3 304.2L1226.6 315.7L1226.9 325.1L1227.1 331.3L1227.4 333.2L1227.7 328.3L1227.9 316.1L1228.2 298.3L1228.5 276.9L1228.7 253.6L1229.0 230.3L1229.3 208.9L1229.5 191.3L1229.8 179.2L1230.1 174.5L1230.3 177.3L1230.6 185.6L1230.9 197.9L1231.1 213.1L1231.4 229.6L1231.7 246.2L1231.9 261.5L1232.2 274.3L1232.5 283.1L1232.8 286.6L1233.0 285.4L1233.3 281.4L1233.6 275.3L1233.8 267.8L1234.1 259.5L1234.4 251.2L1234.6 243.4L1234.9 237.0L1235.2 232.5L1235.4 230.6L1235.7 230.5L1236.0 231.0L1236.2 231.8L1236.5 233.0L1236.8 234.4L1237.0 236.0L1237.3 237.7L1237.6 239.4L1237.8 241.1L1238.1 242.6L1238.4 244.2L1238.6 246.2L1238.9 248.4L1239.2 250.7L1239.4 252.9L1239.7 255.1L1240.0 257.0L1240.2 258.5L1240.5 259.7L1240.8 260.2L1241.1 260.4L1241.3 260.7L1241.6 260.9L1241.9 261.1L1242.1 261.3L1242.4 261.4L1242.7 261.4L1242.9 261.3L1243.2 261.1L1243.5 260.7L1243.7 258.7L1244.0 254.0L1244.3 247.4L1244.5 239.4L1244.8 230.8L1245.1 222.2L1245.3 214.3L1245.6 207.8L1245.9 203.3L1246.1 201.6L1246.4 201.9L1246.7 202.9L1246.9 204.8L1247.2 207.5L1247.5 211.1L1247.7 215.5L1248.0 220.7L1248.3 226.7L1248.5 233.6L1248.8 241.4" stroke="#0000ff" stroke-width="1.1" fill="none" stroke-linejoin="round"/>
<path d="M726.3 206.4h0M726.6 206.3h0M726.9 206.1h0M727.1 205.8h0M727.4 205.5h0M727.7 205.0h0M727.9 204.6h0M728.2 204.0h0M728.5 203.5h0M728.7 202.8h0M729.0 202.2h0M729.3 201.3h0M729.6 199.9h0M729.8 198.3h0M730.1 196.5h0M730.4 194.7h0M730.6 192.9h0M730.9 191.4h0M731.2 190.3h0M731.4 189.6h0M731.7 189.6h0M732.0 191.4h0M732.3 195.8h0M732.5 202.1h0M732.8 209.6h0M733.1 217.8h0M733.3 226.0h0M733.6 233.4h0M733.9 239.5h0M734.1 243.7h0M734.4 245.2h0M734.7 243.6h0M735.0 239.3h0M735.2 232.9h0M735.5 225.2h0M735.8 216.8h0M736.0 208.3h0M736.3 200.5h0M736.6 194.0h0M736.8 189.6h0M737.1 187.8h0M737.4 188.4h0M737.7 190.4h0M737.9 193.5h0M738.2 197.3h0M738.5 201.5h0M738.7 205.7h0M739.0 209.6h0M739.3 212.8h0M739.6 215.1h0M739.8 216.0h0M740.1 215.8h0M740.4 215.0h0M740.6 213.8h0M740.9 212.4h0M741.2 210.7h0M741.4 209.1h0M741.7 207.6h0M742.0 206.4h0M742.3 205.7h0M742.5 205.5h0M742.8 206.5h0M743.1 208.8h0M743.3 212.2h0M743.6 216.3h0M743.9 220.7h0M744.1 225.1h0M744.4 229.2h0M744.7 232.5h0M745.0 234.8h0M745.2 235.6h0M745.5 234.8h0M745.8 232.5h0M746.0 229.2h0M746.3 225.2h0M746.6 220.9h0M746.8 216.7h0M747.1 212.8h0M747.4 209.8h0M747.7 208.0h0M747.9 207.7h0M748.2 211.2h0M748.5 219.8h0M748.7 232.0h0M749.0 246.8h0M749.3 262.7h0M749.5 278.6h0M749.8 293.2h0M750.1 305.2h0M750.4 313.3h0M750.6 316.3h0M750.9 313.5h0M751.2 305.7h0M751.4 294.2h0M751.7 280.2h0M752.0 265.0h0M752.2 249.7h0M752.5 235.6h0M752.8 223.9h0M753.1 215.9h0M753.3 212.7h0M753.6 213.7h0M753.9 217.2h0M754.1 222.6h0M754.4 229.4h0M754.7 237.2h0M754.9 245.3h0M755.2 253.4h0M755.5 260.8h0M755.8 267.2h0M756.0 272.0h0M756.3 275.8h0M756.6 279.7h0M756.8 283.5h0M757.1 287.0h0M757.4 290.3h0M757.6 293.2h0M757.9 295.6h0M758.2 297.5h0M758.5 298.7h0M758.7 299.1h0M759.0 298.3h0M759.3 296.3h0M759.5 293.3h0M759.8 289.6h0M760.1 285.7h0M760.3 281.7h0M760.6 278.2h0M760.9 275.2h0M761.2 273.4h0M761.4 272.8h0M761.7 274.6h0M762.0 279.1h0M762.2 285.6h0M762.5 293.4h0M762.8 301.8h0M763.0 310.2h0M763.3 317.8h0M763.6 324.0h0M763.9 328.1h0M764.1 329.3h0M764.4 325.9h0M764.7 317.5h0M764.9 305.3h0M765.2 290.5h0M765.5 274.4h0M765.7 258.4h0M766.0 243.6h0M766.3 231.4h0M766.6 223.0h0M766.8 219.6h0M767.1 220.9h0M767.4 225.0h0M767.6 231.3h0M767.9 239.1h0M768.2 247.6h0M768.4 256.2h0M768.7 264.2h0M769.0 270.8h0M769.3 275.4h0M769.5 277.3h0M769.8 277.3h0M770.1 276.9h0M770.3 275.9h0M770.6 274.6h0M770.9 272.8h0M771.1 270.6h0M771.4 268.0h0M771.7 265.2h0M772.0 262.0h0M772.2 258.5h0M772.5 252.8h0M772.8 243.5h0M773.0 231.7h0M773.3 218.2h0M773.6 204.0h0M773.8 190.2h0M774.1 177.6h0M774.4 167.3h0M774.7 160.1h0M774.9 157.2h0M775.2 157.4h0M775.5 158.7h0M775.7 161.1h0M776.0 164.3h0M776.3 168.0h0M776.5 172.2h0M776.8 176.5h0M777.1 180.7h0M777.4 184.8h0M777.6 188.3h0M777.9 191.9h0M778.2 195.9h0M778.4 200.2h0M778.7 204.6h0M779.0 209.0h0M779.2 213.0h0M779.5 216.5h0M779.8 219.3h0M780.1 221.3h0M780.3 222.1h0M780.6 222.2h0M780.9 222.0h0M781.1 221.6h0M781.4 221.1h0M781.7 220.6h0M781.9 220.0h0M782.2 219.4h0M782.5 218.9h0M782.8 218.6h0M783.0 218.5h0M783.3 218.6h0M783.6 218.9h0M783.8 219.4h0M784.1 220.0h0M784.4 220.8h0M784.6 221.6h0M784.9 222.4h0M785.2 223.3h0M785.5 224.2h0M785.7 225.0h0M786.0 226.0h0M786.3 227.2h0M786.5 228.6h0M786.8 230.1h0M787.1 231.5h0M787.3 232.9h0M787.6 234.0h0M787.9 234.9h0M788.2 235.3h0M788.4 235.3h0M788.7 233.6h0M789.0 229.6h0M789.2 223.9h0M789.5 217.0h0M789.8 209.6h0M790.0 202.3h0M790.3 195.5h0M790.6 190.1h0M790.9 186.5h0M791.1 185.3h0M791.4 187.8h0M791.7 194.3h0M791.9 203.7h0M792.2 215.0h0M792.5 227.3h0M792.7 239.6h0M793.0 250.8h0M793.3 259.9h0M793.6 266.1h0M793.8 268.2h0M794.1 264.9h0M794.4 256.4h0M794.6 244.0h0M794.9 229.0h0M795.2 212.7h0M795.4 196.3h0M795.7 181.3h0M796.0 168.9h0M796.3 160.4h0M796.5 157.2h0M796.8 158.7h0M797.1 163.2h0M797.3 170.1h0M797.6 179.0h0M797.9 189.3h0M798.1 200.4h0M798.4 211.8h0M798.7 223.0h0M799.0 233.5h0M799.2 242.6h0M799.5 251.6h0M799.8 261.5h0M800.0 272.1h0M800.3 282.7h0M800.6 293.1h0M800.9 302.5h0M801.1 310.8h0M801.4 317.3h0M801.7 321.6h0M801.9 323.3h0M802.2 322.4h0M802.5 319.5h0M802.7 315.1h0M803.0 309.4h0M803.3 302.9h0M803.6 296.0h0M803.8 289.0h0M804.1 282.4h0M804.4 276.4h0M804.6 271.5h0M804.9 267.1h0M805.2 262.6h0M805.4 258.0h0M805.7 253.5h0M806.0 249.2h0M806.3 245.3h0M806.5 242.0h0M806.8 239.2h0M807.1 237.3h0M807.3 236.3h0M807.6 235.9h0M807.9 235.8h0M808.1 235.7h0M808.4 235.8h0M808.7 235.9h0M809.0 235.9h0M809.2 236.0h0M809.5 235.8h0M809.8 235.5h0M810.0 235.0h0M810.3 233.0h0M810.6 228.6h0M810.8 222.5h0M811.1 215.1h0M811.4 207.1h0M811.7 199.0h0M811.9 191.3h0M812.2 184.6h0M812.5 179.5h0M812.7 176.5h0M813.0 174.8h0M813.3 173.2h0M813.5 171.7h0M813.8 170.4h0M814.1 169.3h0M814.4 168.5h0M814.6 167.9h0M814.9 167.6h0M815.2 167.6h0M815.4 168.0h0M815.7 170.0h0M816.0 174.5h0M816.2 181.1h0M816.5 189.4h0M816.8 198.9h0M817.1 209.3h0M817.3 220.1h0M817.6 230.9h0M817.9 241.2h0M818.1 250.7h0M818.4 260.6h0M818.7 272.1h0M818.9 284.7h0M819.2 297.6h0M819.5 310.2h0M819.8 321.8h0M820.0 331.9h0M820.3 339.8h0M820.6 344.9h0M820.8 346.4h0M821.1 341.9h0M821.4 330.4h0M821.6 313.7h0M821.9 293.4h0M822.2 271.4h0M822.5 249.4h0M822.7 229.1h0M823.0 212.3h0M823.3 200.8h0M823.5 196.3h0M823.8 198.4h0M824.1 205.0h0M824.3 215.0h0M824.6 227.2h0M824.9 240.6h0M825.2 254.1h0M825.4 266.6h0M825.7 277.0h0M826.0 284.3h0M826.2 287.3h0M826.5 287.3h0M826.8 286.4h0M827.0 284.7h0M827.3 282.5h0M827.6 279.9h0M827.9 277.0h0M828.1 274.2h0M828.4 271.5h0M828.7 269.1h0M828.9 267.2h0M829.2 265.6h0M829.5 264.0h0M829.7 262.3h0M830.0 260.8h0M830.3 259.3h0M830.6 257.9h0M830.8 256.7h0M831.1 255.8h0M831.4 255.1h0M831.6 254.7h0M831.9 254.4h0M832.2 254.1h0M832.4 253.8h0M832.7 253.5h0M833.0 253.3h0M833.3 253.1h0M833.5 253.1h0M833.8 253.2h0M834.1 253.5h0M834.3 254.0h0M834.6 257.0h0M834.9 264.1h0M835.1 274.1h0M835.4 286.2h0M835.7 299.2h0M836.0 312.1h0M836.2 323.9h0M836.5 333.6h0M836.8 340.1h0M837.0 342.4h0M837.3 339.3h0M837.6 331.1h0M837.8 319.2h0M838.1 304.7h0M838.4 288.9h0M838.7 273.1h0M838.9 258.6h0M839.2 246.6h0M839.5 238.4h0M839.7 235.3h0M840.0 237.4h0M840.3 243.5h0M840.5 252.5h0M840.8 263.5h0M841.1 275.6h0M841.4 287.6h0M841.6 298.7h0M841.9 307.8h0M842.2 314.0h0M842.4 316.3h0M842.7 314.2h0M843.0 308.6h0M843.2 300.1h0M843.5 289.8h0M843.8 278.4h0M844.1 266.7h0M844.3 255.5h0M844.6 245.8h0M844.9 238.3h0M845.1 233.9h0M845.4 231.4h0M845.7 229.1h0M845.9 227.1h0M846.2 225.4h0M846.5 223.9h0M846.8 222.7h0M847.0 221.8h0M847.3 221.2h0M847.6 220.9h0M847.8 221.0h0M848.1 222.4h0M848.4 225.8h0M848.6 230.8h0M848.9 236.8h0M849.2 243.2h0M849.5 249.7h0M849.7 255.7h0M850.0 260.7h0M850.3 264.2h0M850.5 265.7h0M850.7 265.9h0M851.0 265.9h0M851.2 265.8h0M851.4 265.5h0M851.6 265.2h0M851.8 264.9h0M852.0 264.7h0M852.2 264.5h0M852.4 264.5h0M852.6 264.7h0M852.9 266.1h0M853.1 269.5h0M853.4 274.2h0M853.6 279.9h0M853.9 286.0h0M854.2 292.0h0M854.4 297.4h0M854.7 301.6h0M854.9 304.3h0M855.2 304.9h0M855.5 300.9h0M855.7 291.1h0M856.0 277.0h0M856.2 259.9h0M856.5 241.5h0M856.7 223.1h0M857.0 206.1h0M857.2 192.1h0M857.5 182.4h0M857.7 178.5h0M858.0 179.8h0M858.2 184.2h0M858.5 190.9h0M858.7 199.1h0M859.0 208.3h0M859.2 217.4h0M859.5 226.0h0M859.7 233.1h0M860.0 238.0h0M860.2 240.1h0M860.5 240.1h0M860.7 239.6h0M861.0 238.5h0M861.2 237.1h0M861.5 235.3h0M861.8 233.4h0M862.0 231.3h0M862.3 229.1h0M862.5 227.0h0M862.8 225.0h0M863.1 222.8h0M863.4 220.0h0M863.7 216.8h0M864.0 213.4h0M864.4 210.1h0M864.7 207.0h0M865.0 204.2h0M865.3 202.1h0M865.6 200.8h0M865.9 200.4h0M866.2 201.8h0M866.5 205.4h0M866.7 210.6h0M867.0 216.9h0M867.3 223.8h0M867.5 230.9h0M867.8 237.6h0M868.1 243.3h0M868.3 247.7h0M868.6 250.2h0M868.9 251.5h0M869.1 252.6h0M869.4 253.5h0M869.7 254.3h0M869.9 254.9h0M870.2 255.5h0M870.5 255.9h0M870.7 256.1h0M871.0 256.3h0M871.3 256.4h0M871.5 256.4h0M871.8 256.2h0M872.1 256.0h0M872.3 255.7h0M872.6 255.5h0M872.9 255.3h0M873.1 255.1h0M873.4 255.1h0M873.7 255.3h0M874.0 255.7h0M874.2 258.0h0M874.5 263.5h0M874.8 271.2h0M875.0 280.5h0M875.3 290.6h0M875.6 300.6h0M875.8 309.8h0M876.1 317.3h0M876.4 322.5h0M876.6 324.4h0M876.9 322.9h0M877.2 318.6h0M877.4 312.3h0M877.7 304.6h0M878.0 296.1h0M878.2 287.6h0M878.5 279.6h0M878.8 272.9h0M879.0 268.2h0M879.3 266.0h0M879.6 265.5h0M879.8 265.2h0M880.1 265.1h0M880.4 265.1h0M880.6 265.1h0M880.9 265.2h0M881.2 265.3h0M881.4 265.3h0M881.7 265.1h0M882.0 264.7h0M882.3 263.3h0M882.5 260.2h0M882.8 256.0h0M883.1 251.0h0M883.3 245.6h0M883.6 240.4h0M883.9 235.7h0M884.1 232.0h0M884.4 229.6h0M884.7 229.0h0M884.9 232.2h0M885.2 240.0h0M885.5 251.3h0M885.7 264.8h0M886.0 279.4h0M886.3 294.0h0M886.5 307.3h0M886.8 318.1h0M887.1 325.3h0M887.3 327.7h0M887.6 323.1h0M887.9 311.4h0M888.1 294.3h0M888.4 273.6h0M888.7 251.2h0M888.9 228.9h0M889.2 208.4h0M889.5 191.5h0M889.7 180.1h0M890.0 176.0h0M890.3 180.7h0M890.6 193.4h0M890.8 211.9h0M891.1 234.5h0M891.4 259.0h0M891.6 283.6h0M891.9 306.2h0M892.2 324.8h0M892.4 337.5h0M892.7 342.4h0M893.0 338.8h0M893.2 328.7h0M893.5 313.7h0M893.8 295.5h0M894.0 275.6h0M894.3 255.7h0M894.6 237.5h0M894.8 222.6h0M895.1 212.7h0M895.4 209.3h0M895.6 215.1h0M895.9 230.1h0M896.2 252.0h0M896.4 278.5h0M896.7 307.2h0M897.0 335.9h0M897.2 362.2h0M897.5 383.8h0M897.8 398.4h0M898.0 403.8h0M898.3 398.2h0M898.6 382.9h0M898.9 360.5h0M899.1 333.2h0M899.4 303.4h0M899.7 273.6h0M899.9 246.0h0M900.2 223.0h0M900.5 207.0h0M900.7 200.4h0M901.0 201.0h0M901.3 204.4h0M901.5 210.1h0M901.8 217.3h0M902.1 225.2h0M902.3 233.3h0M902.6 240.8h0M902.9 247.0h0M903.1 251.2h0M903.4 252.7h0M903.7 250.8h0M903.9 245.9h0M904.2 238.6h0M904.5 229.9h0M904.7 220.4h0M905.0 211.0h0M905.3 202.5h0M905.5 195.5h0M905.8 191.0h0M906.1 189.6h0M906.3 193.5h0M906.6 203.4h0M906.9 217.6h0M907.2 234.8h0M907.4 253.5h0M907.7 272.2h0M908.0 289.3h0M908.2 303.5h0M908.5 313.3h0M908.8 317.1h0M909.0 315.2h0M909.3 309.4h0M909.6 300.7h0M909.8 290.0h0M910.1 278.2h0M910.4 266.4h0M910.6 255.4h0M910.9 246.2h0M911.2 239.7h0M911.4 237.0h0M911.7 236.5h0M912.0 236.3h0M912.2 236.2h0M912.5 236.3h0M912.8 236.6h0M913.0 236.9h0M913.3 237.4h0M913.6 237.9h0M913.8 238.4h0M914.1 238.9h0M914.4 240.0h0M914.7 242.2h0M914.9 245.2h0M915.2 248.7h0M915.5 252.4h0M915.7 256.0h0M916.0 259.3h0M916.3 261.9h0M916.5 263.5h0M916.8 264.0h0M917.1 262.2h0M917.3 257.6h0M917.6 251.0h0M917.9 243.1h0M918.1 234.4h0M918.4 225.8h0M918.7 217.9h0M918.9 211.3h0M919.2 206.8h0M919.5 205.0h0M919.7 205.4h0M920.0 206.9h0M920.3 209.4h0M920.5 212.6h0M920.8 216.4h0M921.1 220.6h0M921.3 225.1h0M921.6 229.6h0M921.9 234.0h0M922.1 238.1h0M922.4 242.6h0M922.7 248.1h0M923.0 254.3h0M923.2 260.7h0M923.5 267.0h0M923.8 273.0h0M924.0 278.2h0M924.3 282.3h0M924.6 284.9h0M924.8 285.8h0M925.1 283.8h0M925.4 278.6h0M925.6 271.1h0M925.9 262.0h0M926.2 252.1h0M926.4 242.3h0M926.7 233.2h0M927.0 225.8h0M927.2 220.8h0M927.5 219.0h0M927.8 221.2h0M928.0 226.9h0M928.3 235.4h0M928.6 245.6h0M928.8 256.8h0M929.1 268.0h0M929.4 278.3h0M929.6 286.8h0M929.9 292.6h0M930.2 294.8h0M930.4 293.3h0M930.7 289.0h0M931.0 282.6h0M931.3 274.8h0M931.5 266.2h0M931.8 257.7h0M932.1 249.8h0M932.3 243.2h0M932.6 238.7h0M932.9 237.0h0M933.1 238.1h0M933.4 241.2h0M933.7 245.8h0M933.9 251.4h0M934.2 257.5h0M934.5 263.6h0M934.7 269.1h0M935.0 273.6h0M935.3 276.5h0M935.5 277.3h0M935.8 274.4h0M936.1 267.3h0M936.3 256.9h0M936.6 244.4h0M936.9 230.7h0M937.1 216.9h0M937.4 204.0h0M937.7 193.0h0M937.9 185.0h0M938.2 181.0h0M938.5 179.4h0M938.7 178.1h0M939.0 177.1h0M939.3 176.3h0M939.6 175.6h0M939.8 175.2h0M940.1 175.0h0M940.4 174.9h0M940.6 175.0h0M940.9 175.3h0M941.2 177.0h0M941.4 180.9h0M941.7 186.6h0M942.0 193.3h0M942.2 200.7h0M942.5 208.1h0M942.8 214.8h0M943.0 220.5h0M943.3 224.4h0M943.6 226.0h0M943.8 225.9h0M944.1 225.0h0M944.4 223.6h0M944.6 221.9h0M944.9 220.0h0M945.2 218.2h0M945.4 216.5h0M945.7 215.3h0M946.0 214.6h0M946.2 214.7h0M946.5 217.5h0M946.8 224.1h0M947.0 233.6h0M947.3 245.1h0M947.6 257.4h0M947.9 269.7h0M948.1 281.0h0M948.4 290.3h0M948.7 296.7h0M948.9 299.1h0M949.2 297.5h0M949.5 292.9h0M949.7 286.1h0M950.0 277.7h0M950.3 268.5h0M950.5 259.1h0M950.8 250.4h0M951.1 243.0h0M951.3 237.6h0M951.6 235.0h0M951.9 234.1h0M952.1 233.4h0M952.4 232.9h0M952.7 232.5h0M952.9 232.3h0M953.2 232.1h0M953.5 232.0h0M953.7 232.0h0M954.0 232.0h0M954.3 232.0h0M954.5 232.0h0M954.8 231.9h0M955.1 231.8h0M955.4 231.8h0M955.6 231.8h0M955.9 231.9h0M956.2 232.2h0M956.4 232.6h0M956.7 233.2h0M957.0 234.0h0M957.2 237.0h0M957.5 243.4h0M957.8 252.4h0M958.0 263.2h0M958.3 274.7h0M958.6 286.1h0M958.8 296.6h0M959.1 305.2h0M959.4 311.1h0M959.6 313.4h0M959.9 312.4h0M960.2 309.3h0M960.4 304.5h0M960.7 298.4h0M961.0 291.3h0M961.2 283.7h0M961.5 275.9h0M961.8 268.3h0M962.0 261.3h0M962.3 255.2h0M962.6 249.4h0M962.8 242.9h0M963.1 236.2h0M963.4 229.4h0M963.7 222.9h0M963.9 216.9h0M964.2 211.8h0M964.5 207.8h0M964.7 205.1h0M965.0 204.2h0M965.3 205.6h0M965.5 209.4h0M965.8 215.1h0M966.1 222.0h0M966.3 229.5h0M966.6 237.1h0M966.9 244.0h0M967.1 249.9h0M967.4 254.0h0M967.7 255.7h0M967.9 255.9h0M968.2 256.0h0M968.5 255.9h0M968.7 255.6h0M969.0 255.2h0M969.3 254.7h0M969.5 254.2h0M969.8 253.7h0M970.1 253.2h0M970.3 252.7h0M970.6 252.2h0M970.9 251.4h0M971.1 250.6h0M971.4 249.7h0M971.7 248.8h0M972.0 247.9h0M972.2 247.1h0M972.5 246.4h0M972.8 246.0h0M973.0 245.8h0M973.3 245.8h0M973.6 245.9h0M973.8 246.1h0M974.1 246.3h0M974.4 246.5h0M974.6 246.8h0M974.9 247.0h0M975.2 247.2h0M975.4 247.3h0M975.7 247.4h0M976.0 247.4h0M976.2 247.4h0M976.5 247.3h0M976.8 247.3h0M977.0 247.2h0M977.3 247.2h0M977.6 247.1h0M977.8 247.0h0M978.1 247.0h0M978.4 246.9h0M978.6 246.8h0M978.9 246.8h0M979.2 246.7h0M979.4 246.7h0M979.7 246.7h0M980.0 246.6h0M980.3 246.5h0M980.5 246.5h0M980.8 246.4h0M981.1 246.4h0M981.3 246.3h0M981.6 246.3h0M981.9 246.2h0M982.1 246.1h0M982.4 246.1h0M982.7 246.0h0M982.9 246.0h0M983.2 245.9h0M983.5 245.9h0M983.7 245.9h0M984.0 245.9h0M984.3 246.0h0M984.5 246.0h0M984.8 246.1h0M985.1 246.2h0M985.3 246.3h0M985.6 246.5h0M985.9 246.6h0M986.1 246.8h0M986.4 247.0h0M986.7 247.3h0M986.9 247.8h0M987.2 248.5h0M987.5 249.2h0M987.7 250.0h0M988.0 250.7h0M988.3 251.4h0M988.6 251.9h0M988.8 252.2h0M989.1 252.2h0M989.4 251.5h0M989.6 249.9h0M989.9 247.5h0M990.2 244.7h0M990.4 241.6h0M990.7 238.6h0M991.0 235.8h0M991.2 233.4h0M991.5 231.8h0M991.8 231.2h0M992.0 231.3h0M992.3 231.9h0M992.6 232.7h0M992.8 233.8h0M993.1 235.2h0M993.4 236.7h0M993.6 238.3h0M993.9 240.0h0M994.2 241.7h0M994.4 243.4h0M994.7 245.1h0M995.0 246.9h0M995.2 248.9h0M995.5 251.0h0M995.8 253.2h0M996.1 255.6h0M996.3 258.1h0M996.6 260.8h0M996.9 263.6h0M997.1 266.5h0M997.4 270.1h0M997.7 274.8h0M997.9 280.2h0M998.2 285.9h0M998.5 291.6h0M998.7 297.0h0M999.0 301.7h0M999.3 305.4h0M999.5 307.7h0M999.8 308.4h0M1000.1 305.9h0M1000.3 299.6h0M1000.6 290.5h0M1000.9 279.5h0M1001.1 267.5h0M1001.4 255.4h0M1001.7 244.3h0M1001.9 234.9h0M1002.2 228.4h0M1002.5 225.5h0M1002.7 224.9h0M1003.0 224.4h0M1003.3 224.0h0M1003.5 223.8h0M1003.8 223.8h0M1004.1 223.8h0M1004.4 224.0h0M1004.6 224.2h0M1004.9 224.6h0M1005.2 225.0h0M1005.4 227.2h0M1005.7 232.3h0M1006.0 239.5h0M1006.2 248.3h0M1006.5 257.7h0M1006.8 267.0h0M1007.0 275.6h0M1007.3 282.6h0M1007.6 287.4h0M1007.8 289.1h0M1008.1 287.5h0M1008.4 283.3h0M1008.6 277.0h0M1008.9 269.1h0M1009.2 260.4h0M1009.4 251.4h0M1009.7 242.7h0M1010.0 234.9h0M1010.2 228.7h0M1010.5 224.6h0M1010.8 221.8h0M1011.0 219.1h0M1011.3 216.6h0M1011.6 214.3h0M1011.8 212.3h0M1012.1 210.6h0M1012.4 209.3h0M1012.7 208.4h0M1012.9 208.0h0M1013.2 208.1h0M1013.5 210.4h0M1013.7 216.0h0M1014.0 223.9h0M1014.3 233.5h0M1014.5 243.9h0M1014.8 254.3h0M1015.1 263.8h0M1015.3 271.6h0M1015.6 277.0h0M1015.9 279.0h0M1016.1 277.5h0M1016.4 273.1h0M1016.7 266.7h0M1016.9 258.9h0M1017.2 250.4h0M1017.5 241.9h0M1017.7 234.2h0M1018.0 227.9h0M1018.3 223.7h0M1018.5 222.4h0M1018.8 225.7h0M1019.1 233.9h0M1019.3 245.8h0M1019.6 260.1h0M1019.9 275.6h0M1020.1 291.0h0M1020.4 305.1h0M1020.7 316.5h0M1021.0 324.1h0M1021.2 326.6h0M1021.5 321.4h0M1021.8 308.3h0M1022.0 289.1h0M1022.3 266.0h0M1022.6 240.8h0M1022.8 215.6h0M1023.1 192.4h0M1023.4 173.2h0M1023.6 160.0h0M1023.9 154.7h0M1024.2 156.1h0M1024.4 161.0h0M1024.7 168.7h0M1025.0 178.6h0M1025.2 189.9h0M1025.5 201.9h0M1025.8 213.8h0M1026.0 225.1h0M1026.3 234.9h0M1026.6 242.6h0M1026.8 249.1h0M1027.1 255.9h0M1027.4 262.7h0M1027.6 269.2h0M1027.9 275.3h0M1028.2 280.7h0M1028.4 285.3h0M1028.7 288.7h0M1029.0 290.9h0M1029.3 291.6h0M1029.5 289.5h0M1029.8 284.2h0M1030.1 276.3h0M1030.3 266.9h0M1030.6 256.6h0M1030.9 246.3h0M1031.1 236.9h0M1031.4 229.2h0M1031.7 223.9h0M1031.9 222.0h0M1032.2 224.1h0M1032.5 229.8h0M1032.7 238.1h0M1033.0 248.3h0M1033.3 259.2h0M1033.5 270.1h0M1033.8 280.1h0M1034.1 288.2h0M1034.3 293.6h0M1034.6 295.3h0M1034.9 291.3h0M1035.1 281.2h0M1035.4 266.5h0M1035.7 248.7h0M1035.9 229.5h0M1036.2 210.3h0M1036.5 192.7h0M1036.8 178.3h0M1037.0 168.5h0M1037.3 165.0h0M1037.6 168.5h0M1037.8 178.1h0M1038.1 192.3h0M1038.4 209.8h0M1038.6 229.3h0M1038.9 249.4h0M1039.2 268.8h0M1039.4 286.2h0M1039.7 300.3h0M1040.0 309.6h0M1040.2 316.0h0M1040.5 322.2h0M1040.8 327.9h0M1041.0 333.1h0M1041.3 337.8h0M1041.6 341.7h0M1041.8 344.8h0M1042.1 346.9h0M1042.4 348.1h0M1042.6 348.1h0M1042.9 344.4h0M1043.2 335.4h0M1043.4 322.5h0M1043.7 306.8h0M1044.0 289.8h0M1044.2 272.9h0M1044.5 257.2h0M1044.8 244.1h0M1045.1 235.0h0M1045.3 231.2h0M1045.6 230.8h0M1045.9 231.2h0M1046.1 232.1h0M1046.4 233.6h0M1046.7 235.5h0M1046.9 237.8h0M1047.2 240.4h0M1047.5 243.1h0M1047.7 246.0h0M1048.0 248.9h0M1048.3 252.8h0M1048.5 258.3h0M1048.8 265.1h0M1049.1 272.6h0M1049.3 280.5h0M1049.6 288.1h0M1049.9 295.2h0M1050.1 301.1h0M1050.4 305.5h0M1050.7 307.9h0M1050.9 309.1h0M1051.2 310.3h0M1051.5 311.4h0M1051.7 312.4h0M1052.0 313.2h0M1052.3 313.8h0M1052.5 314.0h0M1052.8 314.0h0M1053.1 313.6h0M1053.4 312.7h0M1053.6 307.6h0M1053.9 295.8h0M1054.2 278.9h0M1054.4 258.6h0M1054.7 236.7h0M1055.0 214.9h0M1055.2 194.9h0M1055.5 178.3h0M1055.8 167.0h0M1056.0 162.7h0M1056.3 164.7h0M1056.6 170.9h0M1056.8 180.4h0M1057.1 192.5h0M1057.4 206.2h0M1057.6 220.8h0M1057.9 235.5h0M1058.2 249.5h0M1058.4 261.9h0M1058.7 272.0h0M1059.0 281.0h0M1059.2 290.4h0M1059.5 300.0h0M1059.8 309.4h0M1060.0 318.2h0M1060.3 326.2h0M1060.6 332.9h0M1060.8 338.1h0M1061.1 341.3h0M1061.4 342.4h0M1061.7 339.7h0M1061.9 332.6h0M1062.2 322.3h0M1062.5 309.8h0M1062.7 296.2h0M1063.0 282.5h0M1063.3 269.8h0M1063.5 259.3h0M1063.8 252.0h0M1064.1 248.9h0M1064.3 249.0h0M1064.6 250.1h0M1064.9 252.1h0M1065.1 254.6h0M1065.4 257.4h0M1065.7 260.2h0M1065.9 262.7h0M1066.2 264.6h0M1066.5 265.7h0M1066.7 265.7h0M1067.0 262.2h0M1067.3 253.7h0M1067.5 241.6h0M1067.8 227.1h0M1068.1 211.4h0M1068.3 195.8h0M1068.6 181.6h0M1068.9 169.9h0M1069.1 162.0h0M1069.4 159.2h0M1069.7 162.8h0M1070.0 172.3h0M1070.2 186.2h0M1070.5 203.2h0M1070.8 221.6h0M1071.0 240.1h0M1071.3 257.2h0M1071.6 271.4h0M1071.8 281.3h0M1072.1 285.3h0M1072.4 284.7h0M1072.6 281.9h0M1072.9 277.5h0M1073.2 272.0h0M1073.4 265.8h0M1073.7 259.6h0M1074.0 253.9h0M1074.2 249.2h0M1074.5 245.9h0M1074.8 244.7h0M1075.0 245.7h0M1075.3 248.6h0M1075.6 252.9h0M1075.8 258.0h0M1076.1 263.7h0M1076.4 269.3h0M1076.6 274.4h0M1076.9 278.6h0M1077.2 281.4h0M1077.4 282.3h0M1077.7 280.6h0M1078.0 276.4h0M1078.3 270.2h0M1078.5 262.6h0M1078.8 254.3h0M1079.1 246.0h0M1079.3 238.3h0M1079.6 231.8h0M1079.9 227.2h0M1080.1 225.0h0M1080.4 224.3h0M1080.7 223.8h0M1080.9 223.4h0M1081.2 223.0h0M1081.5 222.8h0M1081.7 222.7h0M1082.0 222.7h0M1082.3 222.8h0M1082.5 223.1h0M1082.8 223.4h0M1083.1 225.2h0M1083.3 229.5h0M1083.6 235.6h0M1083.9 242.9h0M1084.1 250.8h0M1084.4 258.6h0M1084.7 265.7h0M1084.9 271.5h0M1085.2 275.3h0M1085.5 276.5h0M1085.8 273.7h0M1086.0 266.7h0M1086.3 256.6h0M1086.6 244.3h0M1086.8 230.9h0M1087.1 217.6h0M1087.4 205.3h0M1087.6 195.1h0M1087.9 188.2h0M1088.2 185.5h0M1088.4 187.0h0M1088.7 191.4h0M1089.0 198.1h0M1089.2 206.2h0M1089.5 215.2h0M1089.8 224.3h0M1090.0 232.8h0M1090.3 240.0h0M1090.6 245.2h0M1090.8 247.7h0M1091.1 248.5h0M1091.4 249.1h0M1091.6 249.6h0M1091.9 249.9h0M1092.2 250.1h0M1092.4 250.2h0M1092.7 250.2h0M1093.0 250.2h0M1093.2 250.2h0M1093.5 250.2h0M1093.8 250.1h0M1094.1 249.9h0M1094.3 249.6h0M1094.6 249.2h0M1094.9 248.8h0M1095.1 248.4h0M1095.4 247.9h0M1095.7 247.5h0M1095.9 247.2h0M1096.2 247.0h0M1096.5 246.8h0M1096.7 246.7h0M1097.0 246.5h0M1097.3 246.4h0M1097.5 246.3h0M1097.8 246.2h0M1098.1 246.1h0M1098.3 246.1h0M1098.6 246.0h0M1098.9 246.0h0M1099.1 246.0h0M1099.4 246.1h0M1099.7 246.3h0M1099.9 246.4h0M1100.2 246.6h0M1100.5 246.8h0M1100.7 246.9h0M1101.0 247.1h0M1101.3 247.2h0M1101.5 247.2h0M1101.8 247.2h0M1102.1 247.1h0M1102.4 247.0h0M1102.6 246.9h0M1102.9 246.7h0M1103.2 246.6h0M1103.4 246.4h0M1103.7 246.3h0M1104.0 246.2h0M1104.2 246.2h0M1104.5 246.2h0M1104.8 246.3h0M1105.0 246.4h0M1105.3 246.5h0M1105.6 246.6h0M1105.8 246.7h0M1106.1 246.8h0M1106.4 246.9h0M1106.6 247.0h0M1106.9 247.0h0M1107.2 247.0h0M1107.4 247.0h0M1107.7 246.9h0M1108.0 246.8h0M1108.2 246.7h0M1108.5 246.7h0M1108.8 246.6h0M1109.0 246.5h0M1109.3 246.5h0M1109.6 246.5h0M1109.8 246.5h0M1110.1 246.6h0M1110.4 246.7h0M1110.7 246.8h0M1110.9 246.9h0M1111.2 247.0h0M1111.5 247.1h0M1111.7 247.2h0M1112.0 247.3h0M1112.3 247.3h0M1112.5 247.3h0M1112.8 247.2h0M1113.1 247.1h0M1113.3 247.0h0M1113.6 246.8h0M1113.9 246.7h0M1114.1 246.6h0M1114.4 246.5h0M1114.7 246.4h0M1114.9 246.4h0M1115.2 246.4h0M1115.5 246.5h0M1115.7 246.6h0M1116.0 246.7h0M1116.3 246.8h0M1116.5 246.9h0M1116.8 247.0h0M1117.1 247.1h0M1117.3 247.2h0M1117.6 247.2h0M1117.9 247.2h0M1118.1 247.1h0M1118.4 247.0h0M1118.7 246.9h0M1119.0 246.8h0M1119.2 246.6h0M1119.5 246.5h0M1119.8 246.4h0M1120.0 246.3h0M1120.3 246.3h0M1120.6 246.3h0M1120.8 246.4h0M1121.1 246.5h0M1121.4 246.5h0M1121.6 246.7h0M1121.9 246.8h0M1122.2 246.9h0M1122.4 246.9h0M1122.7 247.0h0M1123.0 247.0h0M1123.2 247.0h0M1123.5 246.9h0M1123.8 246.8h0M1124.0 246.6h0M1124.3 246.5h0M1124.6 246.3h0M1124.8 246.2h0M1125.1 246.1h0M1125.4 246.0h0M1125.6 246.0h0M1125.9 246.0h0M1126.2 246.1h0M1126.5 246.2h0M1126.7 246.3h0M1127.0 246.5h0M1127.3 246.6h0M1127.5 246.8h0M1127.8 247.0h0M1128.1 247.3h0M1128.3 247.5h0M1128.6 247.8h0M1128.9 248.3h0M1129.1 249.0h0M1129.4 249.7h0M1129.7 250.3h0M1129.9 251.0h0M1130.2 251.6h0M1130.5 252.0h0M1130.7 252.2h0M1131.0 252.2h0M1131.3 251.4h0M1131.5 249.6h0M1131.8 247.0h0M1132.1 243.8h0M1132.3 240.3h0M1132.6 236.7h0M1132.9 233.3h0M1133.1 230.2h0M1133.4 227.8h0M1133.7 226.3h0M1133.9 225.3h0M1134.2 224.4h0M1134.5 223.6h0M1134.8 222.8h0M1135.0 222.1h0M1135.3 221.6h0M1135.6 221.2h0M1135.8 220.9h0M1136.1 220.8h0M1136.4 220.8h0M1136.6 221.3h0M1136.9 222.4h0M1137.2 224.2h0M1137.4 226.3h0M1137.7 228.9h0M1138.0 231.6h0M1138.2 234.6h0M1138.5 237.5h0M1138.8 240.5h0M1139.0 243.2h0M1139.3 246.2h0M1139.6 249.9h0M1139.8 253.9h0M1140.1 258.1h0M1140.4 262.3h0M1140.6 266.2h0M1140.9 269.6h0M1141.2 272.3h0M1141.4 274.1h0M1141.7 274.8h0M1142.0 274.0h0M1142.2 271.9h0M1142.5 268.7h0M1142.8 264.8h0M1143.1 260.6h0M1143.3 256.3h0M1143.6 252.3h0M1143.9 248.9h0M1144.1 246.4h0M1144.4 245.2h0M1144.7 244.9h0M1144.9 244.7h0M1145.2 244.7h0M1145.5 244.7h0M1145.7 244.8h0M1146.0 244.9h0M1146.3 244.8h0M1146.5 244.7h0M1146.8 244.4h0M1147.1 243.9h0M1147.3 241.9h0M1147.6 237.4h0M1147.9 231.2h0M1148.1 223.8h0M1148.4 215.8h0M1148.7 207.8h0M1148.9 200.5h0M1149.2 194.4h0M1149.5 190.1h0M1149.7 188.3h0M1150.0 187.9h0M1150.3 187.6h0M1150.5 187.3h0M1150.8 187.1h0M1151.1 187.1h0M1151.4 187.2h0M1151.6 187.4h0M1151.9 187.9h0M1152.2 188.6h0M1152.4 189.6h0M1152.7 193.8h0M1153.0 203.2h0M1153.2 216.5h0M1153.5 232.3h0M1153.8 249.4h0M1154.0 266.4h0M1154.3 282.0h0M1154.6 294.7h0M1154.8 303.4h0M1155.1 306.6h0M1155.4 303.5h0M1155.6 295.0h0M1155.9 282.4h0M1156.2 267.2h0M1156.4 250.6h0M1156.7 234.0h0M1157.0 218.8h0M1157.2 206.3h0M1157.5 197.8h0M1157.8 194.8h0M1158.0 198.3h0M1158.3 207.5h0M1158.6 221.0h0M1158.8 237.7h0M1159.1 255.9h0M1159.4 274.6h0M1159.7 292.2h0M1159.9 307.4h0M1160.2 318.9h0M1160.5 325.3h0M1160.7 328.6h0M1161.0 331.6h0M1161.3 334.3h0M1161.5 336.6h0M1161.8 338.5h0M1162.1 340.0h0M1162.3 340.9h0M1162.6 341.4h0M1162.9 341.3h0M1163.1 340.6h0M1163.4 336.1h0M1163.7 325.7h0M1163.9 310.6h0M1164.2 292.3h0M1164.5 272.1h0M1164.7 251.3h0M1165.0 231.3h0M1165.3 213.5h0M1165.5 199.2h0M1165.8 189.8h0M1166.1 183.4h0M1166.3 177.4h0M1166.6 171.7h0M1166.9 166.6h0M1167.2 162.2h0M1167.4 158.4h0M1167.7 155.4h0M1168.0 153.3h0M1168.2 152.2h0M1168.5 152.2h0M1168.8 155.7h0M1169.0 164.2h0M1169.3 176.5h0M1169.6 191.2h0M1169.8 207.2h0M1170.1 223.2h0M1170.4 237.8h0M1170.6 249.8h0M1170.9 258.0h0M1171.2 261.0h0M1171.4 258.1h0M1171.7 250.1h0M1172.0 238.3h0M1172.2 224.0h0M1172.5 208.5h0M1172.8 193.0h0M1173.0 178.8h0M1173.3 167.2h0M1173.6 159.4h0M1173.8 156.7h0M1174.1 161.0h0M1174.4 172.2h0M1174.6 188.5h0M1174.9 208.2h0M1175.2 229.6h0M1175.5 251.1h0M1175.7 270.9h0M1176.0 287.2h0M1176.3 298.5h0M1176.5 302.9h0M1176.8 300.9h0M1177.1 294.6h0M1177.3 285.1h0M1177.6 273.5h0M1177.9 260.7h0M1178.1 247.8h0M1178.4 235.8h0M1178.7 225.9h0M1178.9 219.0h0M1179.2 216.1h0M1179.5 216.1h0M1179.7 216.9h0M1180.0 218.4h0M1180.3 220.5h0M1180.5 223.0h0M1180.8 225.9h0M1181.1 229.0h0M1181.3 232.2h0M1181.6 235.4h0M1181.9 238.4h0M1182.1 241.8h0M1182.4 246.1h0M1182.7 251.0h0M1182.9 256.2h0M1183.2 261.4h0M1183.5 266.4h0M1183.8 270.8h0M1184.0 274.3h0M1184.3 276.8h0M1184.6 277.8h0M1184.8 277.8h0M1185.1 277.5h0M1185.4 276.9h0M1185.6 276.1h0M1185.9 275.1h0M1186.2 274.1h0M1186.4 273.0h0M1186.7 272.1h0M1187.0 271.3h0M1187.2 270.7h0M1187.5 270.3h0M1187.8 270.1h0M1188.0 269.9h0M1188.3 269.8h0M1188.6 269.7h0M1188.8 269.5h0M1189.1 269.3h0M1189.4 268.9h0M1189.6 268.4h0M1189.9 267.7h0M1190.2 265.9h0M1190.4 262.3h0M1190.7 257.4h0M1191.0 251.7h0M1191.2 245.7h0M1191.5 239.8h0M1191.8 234.5h0M1192.1 230.4h0M1192.3 227.8h0M1192.6 227.2h0M1192.9 231.2h0M1193.1 240.9h0M1193.4 254.9h0M1193.7 271.8h0M1193.9 290.0h0M1194.2 308.1h0M1194.5 324.6h0M1194.7 338.1h0M1195.0 347.1h0M1195.3 350.1h0M1195.5 344.7h0M1195.8 330.8h0M1196.1 310.4h0M1196.3 285.8h0M1196.6 259.0h0M1196.9 232.2h0M1197.1 207.4h0M1197.4 186.8h0M1197.7 172.4h0M1197.9 166.5h0M1198.2 166.8h0M1198.5 169.5h0M1198.7 174.0h0M1199.0 179.9h0M1199.3 186.5h0M1199.5 193.3h0M1199.8 199.8h0M1200.1 205.5h0M1200.4 209.8h0M1200.6 212.2h0M1200.9 213.4h0M1201.2 214.5h0M1201.4 215.4h0M1201.7 216.2h0M1202.0 216.9h0M1202.2 217.4h0M1202.5 217.8h0M1202.8 218.1h0M1203.0 218.2h0M1203.3 218.1h0M1203.6 217.7h0M1203.8 216.9h0M1204.1 215.6h0M1204.4 213.9h0M1204.6 211.7h0M1204.9 209.1h0M1205.2 206.2h0M1205.4 202.9h0M1205.7 199.2h0M1206.0 195.1h0M1206.2 188.7h0M1206.5 178.6h0M1206.8 165.8h0M1207.0 151.3h0M1207.3 136.2h0M1207.6 121.4h0M1207.9 108.0h0M1208.1 96.9h0M1208.4 89.3h0M1208.7 86.0h0M1208.9 85.5h0M1209.2 85.3h0M1209.5 85.5h0M1209.7 86.1h0M1210.0 87.1h0M1210.3 88.3h0M1210.5 89.9h0M1210.8 91.8h0M1211.1 94.0h0M1211.3 96.4h0M1211.6 101.6h0M1211.9 111.4h0M1212.1 124.4h0M1212.4 139.7h0M1212.7 156.1h0M1212.9 172.3h0M1213.2 187.2h0M1213.5 199.7h0M1213.7 208.6h0M1214.0 212.7h0M1214.3 213.8h0M1214.5 214.4h0M1214.8 214.6h0M1215.1 214.5h0M1215.3 214.3h0M1215.6 214.1h0M1215.9 214.0h0M1216.2 214.2h0M1216.4 214.6h0M1216.7 215.5h0M1217.0 218.9h0M1217.2 226.3h0M1217.5 236.5h0M1217.8 248.6h0M1218.0 261.7h0M1218.3 274.6h0M1218.6 286.5h0M1218.8 296.4h0M1219.1 303.2h0M1219.4 305.9h0M1219.6 305.3h0M1219.9 303.1h0M1220.2 299.6h0M1220.4 295.1h0M1220.7 290.0h0M1221.0 284.5h0M1221.2 279.1h0M1221.5 274.1h0M1221.8 269.8h0M1222.0 266.5h0M1222.3 263.8h0M1222.6 261.0h0M1222.8 258.1h0M1223.1 255.4h0M1223.4 252.9h0M1223.6 250.7h0M1223.9 249.0h0M1224.2 247.7h0M1224.5 247.1h0M1224.7 247.2h0M1225.0 250.1h0M1225.3 257.0h0M1225.5 266.9h0M1225.8 278.7h0M1226.1 291.5h0M1226.3 304.2h0M1226.6 315.7h0M1226.9 325.1h0M1227.1 331.3h0M1227.4 333.2h0M1227.7 328.3h0M1227.9 316.1h0M1228.2 298.3h0M1228.5 276.9h0M1228.7 253.6h0M1229.0 230.3h0M1229.3 208.9h0M1229.5 191.3h0M1229.8 179.2h0M1230.1 174.5h0M1230.3 177.3h0M1230.6 185.6h0M1230.9 197.9h0M1231.1 213.1h0M1231.4 229.6h0M1231.7 246.2h0M1231.9 261.5h0M1232.2 274.3h0M1232.5 283.1h0M1232.8 286.6h0M1233.0 285.4h0M1233.3 281.4h0M1233.6 275.3h0M1233.8 267.8h0M1234.1 259.5h0M1234.4 251.2h0M1234.6 243.4h0M1234.9 237.0h0M1235.2 232.5h0M1235.4 230.6h0M1235.7 230.5h0M1236.0 231.0h0M1236.2 231.8h0M1236.5 233.0h0M1236.8 234.4h0M1237.0 236.0h0M1237.3 237.7h0M1237.6 239.4h0M1237.8 241.1h0M1238.1 242.6h0M1238.4 244.2h0M1238.6 246.2h0M1238.9 248.4h0M1239.2 250.7h0M1239.4 252.9h0M1239.7 255.1h0M1240.0 257.0h0M1240.2 258.5h0M1240.5 259.7h0M1240.8 260.2h0M1241.1 260.4h0M1241.3 260.7h0M1241.6 260.9h0M1241.9 261.1h0M1242.1 261.3h0M1242.4 261.4h0M1242.7 261.4h0M1242.9 261.3h0M1243.2 261.1h0M1243.5 260.7h0M1243.7 258.7h0M1244.0 254.0h0M1244.3 247.4h0M1244.5 239.4h0M1244.8 230.8h0M1245.1 222.2h0M1245.3 214.3h0M1245.6 207.8h0M1245.9 203.3h0M1246.1 201.6h0M1246.4 201.9h0M1246.7 202.9h0M1246.9 204.8h0M1247.2 207.5h0M1247.5 211.1h0M1247.7 215.5h0M1248.0 220.7h0M1248.3 226.7h0M1248.5 233.6h0M1248.8 241.4h0" stroke="#0000ff" stroke-width="2.35" stroke-linecap="round" fill="none"/>
<path d="M772.28 445.3v-7.6M772.28 48.3v7.6M825.36 445.3v-7.6M825.36 48.3v7.6M878.44 445.3v-7.6M878.44 48.3v7.6M931.52 445.3v-7.6M931.52 48.3v7.6M984.60 445.3v-7.6M984.60 48.3v7.6M1037.68 445.3v-7.6M1037.68 48.3v7.6M1090.76 445.3v-7.6M1090.76 48.3v7.6M1143.84 445.3v-7.6M1143.84 48.3v7.6M1196.92 445.3v-7.6M1196.92 48.3v7.6M719.2 114.47h5.2M1250.0 114.47h-5.2M719.2 180.63h5.2M1250.0 180.63h-5.2M719.2 246.80h5.2M1250.0 246.80h-5.2M719.2 312.97h5.2M1250.0 312.97h-5.2M719.2 379.13h5.2M1250.0 379.13h-5.2" stroke="#303030" stroke-width="0.9" fill="none"/>
<rect x="719.2" y="48.3" width="530.80" height="397.00" fill="none" stroke="#262626" stroke-width="1.2"/>
<text transform="translate(718.70,464.70) scale(0.687,1)" font-family='"Liberation Sans", Arial, Helvetica, sans-serif' font-size="15.6" font-weight="bold" text-anchor="middle" fill="#161616" stroke="#161616" stroke-width="0.22">400</text>
<text transform="translate(771.78,464.70) scale(0.687,1)" font-family='"Liberation Sans", Arial, Helvetica, sans-serif' font-size="15.6" font-weight="bold" text-anchor="middle" fill="#161616" stroke="#161616" stroke-width="0.22">600</text>
<text transform="translate(824.86,464.70) scale(0.687,1)" font-family='"Liberation Sans", Arial, Helvetica, sans-serif' font-size="15.6" font-weight="bold" text-anchor="middle" fill="#161616" stroke="#161616" stroke-width="0.22">800</text>
<text transform="translate(877.94,464.70) scale(0.687,1)" font-family='"Liberation Sans", Arial, Helvetica, sans-serif' font-size="15.6" font-weight="bold" text-anchor="middle" fill="#161616" stroke="#161616" stroke-width="0.22">1000</text>
<text transform="translate(931.02,464.70) scale(0.687,1)" font-family='"Liberation Sans", Arial, Helvetica, sans-serif' font-size="15.6" font-weight="bold" text-anchor="middle" fill="#161616" stroke="#161616" stroke-width="0.22">1200</text>
<text transform="translate(984.10,464.70) scale(0.687,1)" font-family='"Liberation Sans", Arial, Helvetica, sans-serif' font-size="15.6" font-weight="bold" text-anchor="middle" fill="#161616" stroke="#161616" stroke-width="0.22">1400</text>
<text transform="translate(1037.18,464.70) scale(0.687,1)" font-family='"Liberation Sans", Arial, Helvetica, sans-serif' font-size="15.6" font-weight="bold" text-anchor="middle" fill="#161616" stroke="#161616" stroke-width="0.22">1600</text>
<text transform="translate(1090.26,464.70) scale(0.687,1)" font-family='"Liberation Sans", Arial, Helvetica, sans-serif' font-size="15.6" font-weight="bold" text-anchor="middle" fill="#161616" stroke="#161616" stroke-width="0.22">1800</text>
<text transform="translate(1143.34,464.70) scale(0.687,1)" font-family='"Liberation Sans", Arial, Helvetica, sans-serif' font-size="15.6" font-weight="bold" text-anchor="middle" fill="#161616" stroke="#161616" stroke-width="0.22">2000</text>
<text transform="translate(1196.42,464.70) scale(0.687,1)" font-family='"Liberation Sans", Arial, Helvetica, sans-serif' font-size="15.6" font-weight="bold" text-anchor="middle" fill="#161616" stroke="#161616" stroke-width="0.22">2200</text>
<text transform="translate(1249.50,464.70) scale(0.687,1)" font-family='"Liberation Sans", Arial, Helvetica, sans-serif' font-size="15.6" font-weight="bold" text-anchor="middle" fill="#161616" stroke="#161616" stroke-width="0.22">2400</text>
<text transform="translate(714.80,53.70) scale(0.687,1)" font-family='"Liberation Sans", Arial, Helvetica, sans-serif' font-size="15.6" font-weight="bold" text-anchor="end" fill="#161616" stroke="#161616" stroke-width="0.22">1.5</text>
<text transform="translate(714.80,119.87) scale(0.687,1)" font-family='"Liberation Sans", Arial, Helvetica, sans-serif' font-size="15.6" font-weight="bold" text-anchor="end" fill="#161616" stroke="#161616" stroke-width="0.22">1</text>
<text transform="translate(714.80,186.03) scale(0.687,1)" font-family='"Liberation Sans", Arial, Helvetica, sans-serif' font-size="15.6" font-weight="bold" text-anchor="end" fill="#161616" stroke="#161616" stroke-width="0.22">0.5</text>
<text transform="translate(714.80,252.20) scale(0.687,1)" font-family='"Liberation Sans", Arial, Helvetica, sans-serif' font-size="15.6" font-weight="bold" text-anchor="end" fill="#161616" stroke="#161616" stroke-width="0.22">0</text>
<text transform="translate(714.80,318.37) scale(0.687,1)" font-family='"Liberation Sans", Arial, Helvetica, sans-serif' font-size="15.6" font-weight="bold" text-anchor="end" fill="#161616" stroke="#161616" stroke-width="0.22">-0.5</text>
<text transform="translate(714.80,384.53) scale(0.687,1)" font-family='"Liberation Sans", Arial, Helvetica, sans-serif' font-size="15.6" font-weight="bold" text-anchor="end" fill="#161616" stroke="#161616" stroke-width="0.22">-1</text>
<text transform="translate(714.80,450.70) scale(0.687,1)" font-family='"Liberation Sans", Arial, Helvetica, sans-serif' font-size="15.6" font-weight="bold" text-anchor="end" fill="#161616" stroke="#161616" stroke-width="0.22">-1.5</text>
<text transform="translate(720.30,45.50) scale(0.850,1)" font-family='"Liberation Sans", Arial, Helvetica, sans-serif' font-size="17" font-weight="normal" text-anchor="start" fill="#333">×</text>
<text transform="translate(729.00,43.90) scale(0.632,1)" font-family='"Liberation Sans", Arial, Helvetica, sans-serif' font-size="15.6" font-weight="bold" text-anchor="start" fill="#161616" stroke="#161616" stroke-width="0.22">10</text>
<text transform="translate(741.00,37.60) scale(0.639,1)" font-family='"Liberation Sans", Arial, Helvetica, sans-serif' font-size="13.4" font-weight="bold" text-anchor="start" fill="#161616" stroke="#161616" stroke-width="0.22">-16</text>
<text x="934.80" y="487.60" textLength="96.40" lengthAdjust="spacingAndGlyphs" font-family='"Liberation Sans", Arial, Helvetica, sans-serif' font-size="16.9" font-weight="bold" fill="#161616" xml:space="preserve" stroke="#161616" stroke-width="0.22">Wavelength (nm)</text>
<text transform="translate(692.0,247.4) rotate(-90)" x="-47.35" y="0" textLength="94.7" lengthAdjust="spacingAndGlyphs" font-family='"DejaVu Sans", Verdana, sans-serif' font-size="11.6" font-weight="bold" fill="#111" stroke="#111" stroke-width="0">Coefficients</text>
<text x="802.90" y="33.70" textLength="112.20" lengthAdjust="spacingAndGlyphs" font-family='"Liberation Sans", Arial, Helvetica, sans-serif' font-size="16.4" font-weight="bold" fill="#161616" xml:space="preserve" stroke="#161616" stroke-width="0.22">Y<tspan font-size="13" dy="7.6">2</tspan><tspan dy="-7.6">&#8203;</tspan> Coefficients, C<tspan font-size="13" dy="7.6" dx="3.5">4</tspan><tspan dy="-7.6">&#8203;</tspan>(</text>
<text x="916.3" y="33.7" font-family='"Liberation Serif", "DejaVu Serif", serif' font-style="italic" font-size="16.5" fill="#161616">λ</text>
<text x="924.00" y="33.70" textLength="229.00" lengthAdjust="spacingAndGlyphs" font-family='"Liberation Sans", Arial, Helvetica, sans-serif' font-size="16.4" font-weight="bold" fill="#161616" xml:space="preserve" stroke="#161616" stroke-width="0.22">) Interpolation using Savitzky Golay Filter</text>
<rect x="1107.6" y="48.2" width="75.30" height="40.30" fill="#fff" stroke="#2a2a2a" stroke-width="1"/>
<path d="M1111.6 58.6h7.999999999999999M1115.6 52.800000000000004v11.6" stroke="#ff0000" stroke-width="1.0" fill="none"/>
<path d="M1109 78.5H1122.8" stroke="#0000ff" stroke-width="1.1"/>
<circle cx="1115.90" cy="78.5" r="1.175" fill="#0000ff"/>
<text x="1123.00" y="59.90" textLength="36.20" lengthAdjust="spacingAndGlyphs" font-family='"Liberation Sans", Arial, Helvetica, sans-serif' font-size="11.5" font-weight="normal" fill="#111" xml:space="preserve" stroke="#111" stroke-width="0.25">Actual C<tspan font-size="8.4" dy="5.3" dx="1.5">4</tspan><tspan dy="-5.3">&#8203;</tspan></text>
<text x="1123.00" y="79.80" textLength="57.50" lengthAdjust="spacingAndGlyphs" font-family='"Liberation Sans", Arial, Helvetica, sans-serif' font-size="11.5" font-weight="normal" fill="#111" xml:space="preserve" stroke="#111" stroke-width="0.25">Interpolated C<tspan font-size="8.4" dy="4.6" dx="1.5">4</tspan><tspan dy="-4.6">&#8203;</tspan></text>
</g>
<text x="318.9" y="544.5" font-family='"Liberation Serif", "DejaVu Serif", serif' font-size="23.6" text-anchor="middle" fill="#111"><tspan font-size="25.5" dy="1">(</tspan><tspan font-weight="bold" dy="-1">a</tspan><tspan font-size="25.5" dy="1">)</tspan></text>
<text x="969.9" y="544.3" font-family='"Liberation Serif", "DejaVu Serif", serif' font-size="23.6" text-anchor="middle" fill="#111"><tspan font-size="25.5" dy="1">(</tspan><tspan font-weight="bold" dy="-1">b</tspan><tspan font-size="25.5" dy="1">)</tspan></text>
</svg>
</body></html>
